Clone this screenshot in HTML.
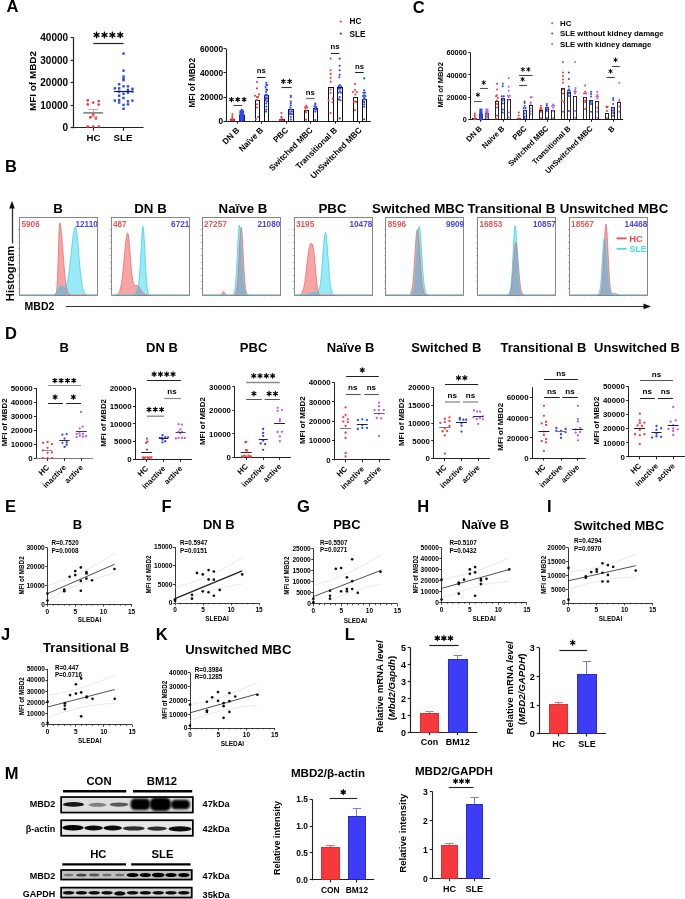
<!DOCTYPE html>
<html><head><meta charset="utf-8"><style>
html,body{margin:0;padding:0;background:#fff;}
body{width:685px;height:899px;overflow:hidden;font-family:"Liberation Sans",sans-serif;}
svg{display:block;will-change:transform;}
</style></head><body>
<svg width="685" height="899" viewBox="0 0 685 899" font-family="Liberation Sans, sans-serif">
<text x="6.4" y="11.7" font-size="16.5" text-anchor="start" font-weight="bold" fill="#000">A</text>
<text x="412.8" y="12.7" font-size="16.5" text-anchor="start" font-weight="bold" fill="#000">C</text>
<text x="4.9" y="171.6" font-size="16.5" text-anchor="start" font-weight="bold" fill="#000">B</text>
<text x="5" y="339.1" font-size="16.5" text-anchor="start" font-weight="bold" fill="#000">D</text>
<text x="5" y="511.7" font-size="16.5" text-anchor="start" font-weight="bold" fill="#000">E</text>
<text x="161.6" y="511.7" font-size="16.5" text-anchor="start" font-weight="bold" fill="#000">F</text>
<text x="297" y="511.7" font-size="16.5" text-anchor="start" font-weight="bold" fill="#000">G</text>
<text x="417.2" y="511.7" font-size="16.5" text-anchor="start" font-weight="bold" fill="#000">H</text>
<text x="547" y="511.7" font-size="16.5" text-anchor="start" font-weight="bold" fill="#000">I</text>
<text x="1" y="640.3" font-size="16.5" text-anchor="start" font-weight="bold" fill="#000">J</text>
<text x="155.8" y="640.3" font-size="16.5" text-anchor="start" font-weight="bold" fill="#000">K</text>
<text x="344.8" y="640.3" font-size="16.5" text-anchor="start" font-weight="bold" fill="#000">L</text>
<text x="4.8" y="778.6" font-size="16.5" text-anchor="start" font-weight="bold" fill="#000">M</text>
<line x1="73.5" y1="37.5" x2="73.5" y2="128.3" stroke="#222" stroke-width="1.2"/>
<line x1="70.6" y1="127.5" x2="73.6" y2="127.5" stroke="#222" stroke-width="1.2"/>
<text x="68.1" y="131.3" font-size="10" text-anchor="end" font-weight="bold" fill="#000">0</text>
<line x1="70.6" y1="105.5" x2="73.6" y2="105.5" stroke="#222" stroke-width="1.2"/>
<text x="68.1" y="108.75" font-size="10" text-anchor="end" font-weight="bold" fill="#000">10000</text>
<line x1="70.6" y1="82.5" x2="73.6" y2="82.5" stroke="#222" stroke-width="1.2"/>
<text x="68.1" y="86.2" font-size="10" text-anchor="end" font-weight="bold" fill="#000">20000</text>
<line x1="70.6" y1="60.5" x2="73.6" y2="60.5" stroke="#222" stroke-width="1.2"/>
<text x="68.1" y="63.65" font-size="10" text-anchor="end" font-weight="bold" fill="#000">30000</text>
<line x1="70.6" y1="37.5" x2="73.6" y2="37.5" stroke="#222" stroke-width="1.2"/>
<text x="68.1" y="41.1" font-size="10" text-anchor="end" font-weight="bold" fill="#000">40000</text>
<line x1="73" y1="127.5" x2="143.5" y2="127.5" stroke="#222" stroke-width="1.2"/>
<line x1="93.5" y1="127.7" x2="93.5" y2="130.7" stroke="#222" stroke-width="1.2"/>
<line x1="123.5" y1="127.7" x2="123.5" y2="130.7" stroke="#222" stroke-width="1.2"/>
<text x="93.4" y="140.79" font-size="9.7" text-anchor="middle" font-weight="bold" fill="#000">HC</text>
<text x="123" y="140.79" font-size="9.7" text-anchor="middle" font-weight="bold" fill="#000">SLE</text>
<text x="35.86" y="81" font-size="9.9" text-anchor="middle" font-weight="bold" fill="#000" transform="rotate(-90 35.86 81)">MFI of MBD2</text>
<path d="M96.55 32.2L96.55 37.8M94.13 33.6L98.97 36.4M94.13 36.4L98.97 33.6" stroke="#000" stroke-width="1.4" stroke-linecap="round"/>
<circle cx="96.55" cy="35" r="1.12" fill="#000"/>
<path d="M104.45 32.2L104.45 37.8M102.03 33.6L106.87 36.4M102.03 36.4L106.87 33.6" stroke="#000" stroke-width="1.4" stroke-linecap="round"/>
<circle cx="104.45" cy="35" r="1.12" fill="#000"/>
<path d="M112.35 32.2L112.35 37.8M109.93 33.6L114.77 36.4M109.93 36.4L114.77 33.6" stroke="#000" stroke-width="1.4" stroke-linecap="round"/>
<circle cx="112.35" cy="35" r="1.12" fill="#000"/>
<path d="M120.25 32.2L120.25 37.8M117.83 33.6L122.67 36.4M117.83 36.4L122.67 33.6" stroke="#000" stroke-width="1.4" stroke-linecap="round"/>
<circle cx="120.25" cy="35" r="1.12" fill="#000"/>
<line x1="93.3" y1="43.5" x2="123.5" y2="43.5" stroke="#222" stroke-width="1.2"/>
<line x1="88.28" y1="109.5" x2="97.99" y2="109.5" stroke="#f77" stroke-width="0.8"/>
<line x1="89.31" y1="116.5" x2="97.48" y2="116.5" stroke="#f77" stroke-width="0.8"/>
<line x1="93.5" y1="109.49" x2="93.5" y2="116.13" stroke="#f77" stroke-width="0.8"/>
<circle cx="87.77" cy="100.29" r="1.35" fill="#f23a3a"/>
<circle cx="87.77" cy="104.38" r="1.35" fill="#f23a3a"/>
<circle cx="93.19" cy="102.54" r="1.35" fill="#f23a3a"/>
<circle cx="98.71" cy="101.11" r="1.35" fill="#f23a3a"/>
<circle cx="98.71" cy="104.58" r="1.35" fill="#f23a3a"/>
<circle cx="93.19" cy="114.39" r="1.35" fill="#f23a3a"/>
<circle cx="90.33" cy="117.46" r="1.35" fill="#f23a3a"/>
<circle cx="95.95" cy="118.48" r="1.35" fill="#f23a3a"/>
<circle cx="87.77" cy="126.65" r="1.35" fill="#f23a3a"/>
<circle cx="93.19" cy="126.65" r="1.35" fill="#f23a3a"/>
<circle cx="98.71" cy="126.65" r="1.35" fill="#f23a3a"/>
<line x1="83.38" y1="112.86" x2="103.1" y2="112.86" stroke="#888" stroke-width="1.7"/>
<rect x="122.34" y="52.39" width="2.4" height="2.4" fill="#2b45f2"/>
<rect x="122.34" y="69.46" width="2.4" height="2.4" fill="#2b45f2"/>
<rect x="122.34" y="75.38" width="2.4" height="2.4" fill="#2b45f2"/>
<rect x="122.34" y="77.43" width="2.4" height="2.4" fill="#2b45f2"/>
<rect x="122.34" y="78.96" width="2.4" height="2.4" fill="#2b45f2"/>
<rect x="117.94" y="83.05" width="2.4" height="2.4" fill="#2b45f2"/>
<rect x="122.34" y="85.09" width="2.4" height="2.4" fill="#2b45f2"/>
<rect x="126.73" y="85.09" width="2.4" height="2.4" fill="#2b45f2"/>
<rect x="113.65" y="87.13" width="2.4" height="2.4" fill="#2b45f2"/>
<rect x="117.94" y="87.13" width="2.4" height="2.4" fill="#2b45f2"/>
<rect x="131.23" y="87.65" width="2.4" height="2.4" fill="#2b45f2"/>
<rect x="126.73" y="88.67" width="2.4" height="2.4" fill="#2b45f2"/>
<rect x="131.23" y="90.4" width="2.4" height="2.4" fill="#2b45f2"/>
<rect x="117.94" y="90.4" width="2.4" height="2.4" fill="#2b45f2"/>
<rect x="122.34" y="92.45" width="2.4" height="2.4" fill="#2b45f2"/>
<rect x="126.73" y="91.43" width="2.4" height="2.4" fill="#2b45f2"/>
<rect x="117.94" y="94.49" width="2.4" height="2.4" fill="#2b45f2"/>
<rect x="122.34" y="96.84" width="2.4" height="2.4" fill="#2b45f2"/>
<rect x="113.65" y="99.4" width="2.4" height="2.4" fill="#2b45f2"/>
<rect x="117.94" y="98.89" width="2.4" height="2.4" fill="#2b45f2"/>
<rect x="117.94" y="101.34" width="2.4" height="2.4" fill="#2b45f2"/>
<rect x="126.73" y="100.11" width="2.4" height="2.4" fill="#2b45f2"/>
<rect x="126.73" y="103.18" width="2.4" height="2.4" fill="#2b45f2"/>
<rect x="131.23" y="99.4" width="2.4" height="2.4" fill="#2b45f2"/>
<rect x="122.34" y="103.69" width="2.4" height="2.4" fill="#2b45f2"/>
<rect x="122.34" y="107.57" width="2.4" height="2.4" fill="#2b45f2"/>
<line x1="113.83" y1="91.5" x2="132.22" y2="91.5" stroke="#222" stroke-width="1.2"/>
<line x1="226.5" y1="48.6" x2="226.5" y2="121.75" stroke="#222" stroke-width="1.1"/>
<line x1="223.5" y1="121.5" x2="226" y2="121.5" stroke="#222" stroke-width="1.1"/>
<text x="223" y="124.19" font-size="8.3" text-anchor="end" font-weight="bold" fill="#000">0</text>
<line x1="223.5" y1="97.5" x2="226" y2="97.5" stroke="#222" stroke-width="1.1"/>
<text x="223" y="99.99" font-size="8.3" text-anchor="end" font-weight="bold" fill="#000">20000</text>
<line x1="223.5" y1="72.5" x2="226" y2="72.5" stroke="#222" stroke-width="1.1"/>
<text x="223" y="75.79" font-size="8.3" text-anchor="end" font-weight="bold" fill="#000">40000</text>
<line x1="223.5" y1="48.5" x2="226" y2="48.5" stroke="#222" stroke-width="1.1"/>
<text x="223" y="51.59" font-size="8.3" text-anchor="end" font-weight="bold" fill="#000">60000</text>
<line x1="225.45" y1="121.5" x2="371" y2="121.5" stroke="#222" stroke-width="1.1"/>
<line x1="237.5" y1="121.2" x2="237.5" y2="123.7" stroke="#222" stroke-width="1.1"/>
<line x1="261.5" y1="121.2" x2="261.5" y2="123.7" stroke="#222" stroke-width="1.1"/>
<line x1="286.5" y1="121.2" x2="286.5" y2="123.7" stroke="#222" stroke-width="1.1"/>
<line x1="310.5" y1="121.2" x2="310.5" y2="123.7" stroke="#222" stroke-width="1.1"/>
<line x1="335.5" y1="121.2" x2="335.5" y2="123.7" stroke="#222" stroke-width="1.1"/>
<line x1="359.5" y1="121.2" x2="359.5" y2="123.7" stroke="#222" stroke-width="1.1"/>
<text x="195.25" y="82.7" font-size="8.2" text-anchor="middle" font-weight="bold" fill="#000" transform="rotate(-90 195.25 82.7)">MFI of MBD2</text>
<rect x="230.5" y="119.5" width="4" height="2" fill="none" stroke="#111" stroke-width="1"/>
<rect x="239.5" y="115.5" width="5" height="6" fill="none" stroke="#111" stroke-width="1"/>
<rect x="255.5" y="100.5" width="4" height="21" fill="none" stroke="#111" stroke-width="1"/>
<rect x="264.5" y="95.5" width="4" height="26" fill="none" stroke="#111" stroke-width="1"/>
<rect x="279.5" y="119.5" width="5" height="2" fill="none" stroke="#111" stroke-width="1"/>
<rect x="288.5" y="109.5" width="5" height="12" fill="none" stroke="#111" stroke-width="1"/>
<rect x="304.5" y="110.5" width="4" height="11" fill="none" stroke="#111" stroke-width="1"/>
<rect x="313.5" y="108.5" width="4" height="13" fill="none" stroke="#111" stroke-width="1"/>
<rect x="328.5" y="87.5" width="5" height="34" fill="none" stroke="#111" stroke-width="1"/>
<rect x="337.5" y="87.5" width="5" height="34" fill="none" stroke="#111" stroke-width="1"/>
<rect x="353.5" y="97.5" width="4" height="24" fill="none" stroke="#111" stroke-width="1"/>
<rect x="362.5" y="99.5" width="4" height="22" fill="none" stroke="#111" stroke-width="1"/>
<circle cx="232.4" cy="114.3" r="1.05" fill="#f23a3a"/>
<circle cx="232.4" cy="116.3" r="1.05" fill="#f23a3a"/>
<circle cx="232.4" cy="118" r="1.05" fill="#f23a3a"/>
<circle cx="231" cy="120.3" r="1.05" fill="#f23a3a"/>
<circle cx="232.4" cy="120.3" r="1.05" fill="#f23a3a"/>
<circle cx="233.8" cy="120.3" r="1.05" fill="#f23a3a"/>
<circle cx="231.7" cy="119.4" r="1.05" fill="#f23a3a"/>
<circle cx="233.1" cy="119.4" r="1.05" fill="#f23a3a"/>
<circle cx="257" cy="82" r="1.05" fill="#f23a3a"/>
<circle cx="257" cy="88.4" r="1.05" fill="#f23a3a"/>
<circle cx="255" cy="95.8" r="1.05" fill="#f23a3a"/>
<circle cx="259" cy="94.4" r="1.05" fill="#f23a3a"/>
<circle cx="257" cy="97.1" r="1.05" fill="#f23a3a"/>
<circle cx="258.1" cy="97.1" r="1.05" fill="#f23a3a"/>
<circle cx="257" cy="100.1" r="1.05" fill="#f23a3a"/>
<circle cx="257" cy="104.2" r="1.05" fill="#f23a3a"/>
<circle cx="257" cy="107.5" r="1.05" fill="#f23a3a"/>
<circle cx="258.1" cy="117" r="1.05" fill="#f23a3a"/>
<circle cx="255.9" cy="119" r="1.05" fill="#f23a3a"/>
<circle cx="281.4" cy="112.9" r="1.05" fill="#f23a3a"/>
<circle cx="281.4" cy="116.9" r="1.05" fill="#f23a3a"/>
<circle cx="281.7" cy="118" r="1.05" fill="#f23a3a"/>
<circle cx="280" cy="120" r="1.05" fill="#f23a3a"/>
<circle cx="281.4" cy="120.3" r="1.05" fill="#f23a3a"/>
<circle cx="283" cy="120.2" r="1.05" fill="#f23a3a"/>
<circle cx="306.2" cy="105.9" r="1.05" fill="#f23a3a"/>
<circle cx="305.2" cy="107.2" r="1.05" fill="#f23a3a"/>
<circle cx="307.2" cy="107.5" r="1.05" fill="#f23a3a"/>
<circle cx="305.6" cy="108.5" r="1.05" fill="#f23a3a"/>
<circle cx="306.2" cy="110.9" r="1.05" fill="#f23a3a"/>
<circle cx="306.2" cy="112.2" r="1.05" fill="#f23a3a"/>
<circle cx="306.2" cy="119.6" r="1.05" fill="#f23a3a"/>
<circle cx="330.6" cy="58.6" r="1.05" fill="#f23a3a"/>
<circle cx="330.6" cy="70.2" r="1.05" fill="#f23a3a"/>
<circle cx="330.6" cy="73.9" r="1.05" fill="#f23a3a"/>
<circle cx="330.6" cy="77.8" r="1.05" fill="#f23a3a"/>
<circle cx="330.6" cy="81.7" r="1.05" fill="#f23a3a"/>
<circle cx="330.6" cy="89.5" r="1.05" fill="#f23a3a"/>
<circle cx="330.6" cy="92.8" r="1.05" fill="#f23a3a"/>
<circle cx="332.6" cy="98.6" r="1.05" fill="#f23a3a"/>
<circle cx="328.6" cy="100.4" r="1.05" fill="#f23a3a"/>
<circle cx="332.6" cy="102.3" r="1.05" fill="#f23a3a"/>
<circle cx="330.6" cy="113" r="1.05" fill="#f23a3a"/>
<circle cx="355" cy="83.9" r="1.05" fill="#f23a3a"/>
<circle cx="355" cy="90" r="1.05" fill="#f23a3a"/>
<circle cx="352.9" cy="92" r="1.05" fill="#f23a3a"/>
<circle cx="357" cy="92" r="1.05" fill="#f23a3a"/>
<circle cx="355.4" cy="94.5" r="1.05" fill="#f23a3a"/>
<circle cx="355" cy="101.5" r="1.05" fill="#f23a3a"/>
<circle cx="353.7" cy="101.9" r="1.05" fill="#f23a3a"/>
<circle cx="356.2" cy="101.9" r="1.05" fill="#f23a3a"/>
<circle cx="355" cy="110.1" r="1.05" fill="#f23a3a"/>
<circle cx="241.8" cy="109.8" r="1.05" fill="#2b45f2"/>
<circle cx="240.4" cy="111" r="1.05" fill="#2b45f2"/>
<circle cx="241.8" cy="111" r="1.05" fill="#2b45f2"/>
<circle cx="243.2" cy="111" r="1.05" fill="#2b45f2"/>
<circle cx="240.4" cy="112.2" r="1.05" fill="#2b45f2"/>
<circle cx="241.8" cy="112.2" r="1.05" fill="#2b45f2"/>
<circle cx="243.2" cy="112.2" r="1.05" fill="#2b45f2"/>
<circle cx="240.4" cy="113.4" r="1.05" fill="#2b45f2"/>
<circle cx="241.8" cy="113.4" r="1.05" fill="#2b45f2"/>
<circle cx="243.2" cy="113.4" r="1.05" fill="#2b45f2"/>
<circle cx="240.4" cy="114.6" r="1.05" fill="#2b45f2"/>
<circle cx="241.8" cy="114.6" r="1.05" fill="#2b45f2"/>
<circle cx="243.2" cy="114.6" r="1.05" fill="#2b45f2"/>
<circle cx="240.4" cy="115.8" r="1.05" fill="#2b45f2"/>
<circle cx="241.8" cy="115.8" r="1.05" fill="#2b45f2"/>
<circle cx="243.2" cy="115.8" r="1.05" fill="#2b45f2"/>
<circle cx="240.4" cy="117" r="1.05" fill="#2b45f2"/>
<circle cx="241.8" cy="117" r="1.05" fill="#2b45f2"/>
<circle cx="243.2" cy="117" r="1.05" fill="#2b45f2"/>
<circle cx="240.4" cy="118.2" r="1.05" fill="#2b45f2"/>
<circle cx="241.8" cy="118.2" r="1.05" fill="#2b45f2"/>
<circle cx="243.2" cy="118.2" r="1.05" fill="#2b45f2"/>
<circle cx="240.4" cy="119.4" r="1.05" fill="#2b45f2"/>
<circle cx="241.8" cy="119.4" r="1.05" fill="#2b45f2"/>
<circle cx="243.2" cy="119.4" r="1.05" fill="#2b45f2"/>
<circle cx="240.4" cy="120.6" r="1.05" fill="#2b45f2"/>
<circle cx="241.8" cy="120.6" r="1.05" fill="#2b45f2"/>
<circle cx="243.2" cy="120.6" r="1.05" fill="#2b45f2"/>
<circle cx="266.3" cy="82.7" r="1.05" fill="#2b45f2"/>
<circle cx="266.3" cy="84.7" r="1.05" fill="#2b45f2"/>
<circle cx="267.3" cy="85.2" r="1.05" fill="#2b45f2"/>
<circle cx="265.6" cy="87" r="1.05" fill="#2b45f2"/>
<circle cx="266.3" cy="89.4" r="1.05" fill="#2b45f2"/>
<circle cx="267" cy="90.1" r="1.05" fill="#2b45f2"/>
<circle cx="266" cy="92.1" r="1.05" fill="#2b45f2"/>
<circle cx="266.3" cy="94.8" r="1.05" fill="#2b45f2"/>
<circle cx="267.6" cy="95.4" r="1.05" fill="#2b45f2"/>
<circle cx="265" cy="95.4" r="1.05" fill="#2b45f2"/>
<circle cx="266.3" cy="97.5" r="1.05" fill="#2b45f2"/>
<circle cx="265.6" cy="100.1" r="1.05" fill="#2b45f2"/>
<circle cx="267" cy="101.5" r="1.05" fill="#2b45f2"/>
<circle cx="266.3" cy="103.5" r="1.05" fill="#2b45f2"/>
<circle cx="266.3" cy="106.5" r="1.05" fill="#2b45f2"/>
<circle cx="266.3" cy="109.5" r="1.05" fill="#2b45f2"/>
<circle cx="266" cy="111.6" r="1.05" fill="#2b45f2"/>
<circle cx="267.2" cy="98.6" r="1.05" fill="#2b45f2"/>
<circle cx="265.4" cy="98.6" r="1.05" fill="#2b45f2"/>
<circle cx="290.8" cy="95.8" r="1.05" fill="#2b45f2"/>
<circle cx="290.8" cy="97.1" r="1.05" fill="#2b45f2"/>
<circle cx="290.8" cy="101.5" r="1.05" fill="#2b45f2"/>
<circle cx="290.8" cy="103.2" r="1.05" fill="#2b45f2"/>
<circle cx="290.8" cy="105.2" r="1.05" fill="#2b45f2"/>
<circle cx="290.3" cy="107.5" r="1.05" fill="#2b45f2"/>
<circle cx="290.8" cy="109.5" r="1.05" fill="#2b45f2"/>
<circle cx="289.6" cy="111.6" r="1.05" fill="#2b45f2"/>
<circle cx="292" cy="111.6" r="1.05" fill="#2b45f2"/>
<circle cx="290.8" cy="113.6" r="1.05" fill="#2b45f2"/>
<circle cx="289.6" cy="114.3" r="1.05" fill="#2b45f2"/>
<circle cx="292" cy="114.3" r="1.05" fill="#2b45f2"/>
<circle cx="290.8" cy="117" r="1.05" fill="#2b45f2"/>
<circle cx="290.8" cy="119.6" r="1.05" fill="#2b45f2"/>
<circle cx="315.3" cy="103.5" r="1.05" fill="#2b45f2"/>
<circle cx="315.3" cy="104.8" r="1.05" fill="#2b45f2"/>
<circle cx="314.3" cy="106.5" r="1.05" fill="#2b45f2"/>
<circle cx="316.3" cy="106.9" r="1.05" fill="#2b45f2"/>
<circle cx="315.3" cy="108.2" r="1.05" fill="#2b45f2"/>
<circle cx="314.3" cy="109.5" r="1.05" fill="#2b45f2"/>
<circle cx="316.3" cy="109.5" r="1.05" fill="#2b45f2"/>
<circle cx="315.3" cy="111.6" r="1.05" fill="#2b45f2"/>
<circle cx="315.3" cy="120" r="1.05" fill="#2b45f2"/>
<circle cx="339.7" cy="58.6" r="1.05" fill="#2b45f2"/>
<circle cx="339.7" cy="65.8" r="1.05" fill="#2b45f2"/>
<circle cx="339.7" cy="70.2" r="1.05" fill="#2b45f2"/>
<circle cx="339.7" cy="74.7" r="1.05" fill="#2b45f2"/>
<circle cx="339.3" cy="77.2" r="1.05" fill="#2b45f2"/>
<circle cx="339.7" cy="85" r="1.05" fill="#2b45f2"/>
<circle cx="338.5" cy="86.2" r="1.05" fill="#2b45f2"/>
<circle cx="340.9" cy="86.2" r="1.05" fill="#2b45f2"/>
<circle cx="338.9" cy="88.7" r="1.05" fill="#2b45f2"/>
<circle cx="340.5" cy="88.7" r="1.05" fill="#2b45f2"/>
<circle cx="339.7" cy="91.2" r="1.05" fill="#2b45f2"/>
<circle cx="338.5" cy="92.8" r="1.05" fill="#2b45f2"/>
<circle cx="340.9" cy="92.8" r="1.05" fill="#2b45f2"/>
<circle cx="339.7" cy="97" r="1.05" fill="#2b45f2"/>
<circle cx="338.9" cy="99.4" r="1.05" fill="#2b45f2"/>
<circle cx="340.5" cy="100.2" r="1.05" fill="#2b45f2"/>
<circle cx="339.7" cy="118.4" r="1.05" fill="#2b45f2"/>
<circle cx="364.2" cy="78.4" r="1.05" fill="#2b45f2"/>
<circle cx="364.2" cy="90.4" r="1.05" fill="#2b45f2"/>
<circle cx="363.4" cy="92.8" r="1.05" fill="#2b45f2"/>
<circle cx="365" cy="92.8" r="1.05" fill="#2b45f2"/>
<circle cx="364.2" cy="95.3" r="1.05" fill="#2b45f2"/>
<circle cx="363" cy="96.1" r="1.05" fill="#2b45f2"/>
<circle cx="365.4" cy="96.1" r="1.05" fill="#2b45f2"/>
<circle cx="364.2" cy="97.8" r="1.05" fill="#2b45f2"/>
<circle cx="363.4" cy="99.4" r="1.05" fill="#2b45f2"/>
<circle cx="365" cy="99.4" r="1.05" fill="#2b45f2"/>
<circle cx="364.2" cy="101.9" r="1.05" fill="#2b45f2"/>
<circle cx="364.2" cy="104.4" r="1.05" fill="#2b45f2"/>
<circle cx="364.2" cy="106.8" r="1.05" fill="#2b45f2"/>
<circle cx="364.2" cy="119.2" r="1.05" fill="#2b45f2"/>
<text x="240.1" y="130.7" font-size="8.3" text-anchor="end" font-weight="bold" fill="#000" transform="rotate(-45 240.1 130.7)">DN B</text>
<text x="263.8" y="130.7" font-size="8.3" text-anchor="end" font-weight="bold" fill="#000" transform="rotate(-45 263.8 130.7)">Naïve B</text>
<text x="288.8" y="130.7" font-size="8.3" text-anchor="end" font-weight="bold" fill="#000" transform="rotate(-45 288.8 130.7)">PBC</text>
<text x="313.3" y="130.7" font-size="8.3" text-anchor="end" font-weight="bold" fill="#000" transform="rotate(-45 313.3 130.7)">Switched MBC</text>
<text x="337.8" y="130.7" font-size="8.3" text-anchor="end" font-weight="bold" fill="#000" transform="rotate(-45 337.8 130.7)">Transitional B</text>
<text x="362.3" y="130.7" font-size="8.3" text-anchor="end" font-weight="bold" fill="#000" transform="rotate(-45 362.3 130.7)">UnSwitched MBC</text>
<path d="M231.5 97.35L231.5 101.65M229.64 98.42L233.36 100.58M229.64 100.58L233.36 98.42" stroke="#000" stroke-width="1.07" stroke-linecap="round"/>
<circle cx="231.5" cy="99.5" r="0.86" fill="#000"/>
<path d="M237.8 97.35L237.8 101.65M235.94 98.42L239.66 100.58M235.94 100.58L239.66 98.42" stroke="#000" stroke-width="1.07" stroke-linecap="round"/>
<circle cx="237.8" cy="99.5" r="0.86" fill="#000"/>
<path d="M244.1 97.35L244.1 101.65M242.24 98.42L245.96 100.58M242.24 100.58L245.96 98.42" stroke="#000" stroke-width="1.07" stroke-linecap="round"/>
<circle cx="244.1" cy="99.5" r="0.86" fill="#000"/>
<line x1="233.4" y1="105.5" x2="242.1" y2="105.5" stroke="#444" stroke-width="1.1"/>
<text x="261.3" y="73.32" font-size="7.74" text-anchor="middle" font-weight="bold" fill="#000">ns</text>
<line x1="257" y1="77.5" x2="265.6" y2="77.5" stroke="#222" stroke-width="1"/>
<path d="M283.35 79.15L283.35 83.45M281.49 80.22L285.21 82.38M281.49 82.38L285.21 80.22" stroke="#000" stroke-width="1.07" stroke-linecap="round"/>
<circle cx="283.35" cy="81.3" r="0.86" fill="#000"/>
<path d="M289.65 79.15L289.65 83.45M287.79 80.22L291.51 82.38M287.79 82.38L291.51 80.22" stroke="#000" stroke-width="1.07" stroke-linecap="round"/>
<circle cx="289.65" cy="81.3" r="0.86" fill="#000"/>
<line x1="281.4" y1="87.5" x2="291.7" y2="87.5" stroke="#333" stroke-width="1.1"/>
<text x="310.3" y="95.12" font-size="7.74" text-anchor="middle" font-weight="bold" fill="#000">ns</text>
<line x1="306.2" y1="98.5" x2="314.6" y2="98.5" stroke="#666" stroke-width="1.2"/>
<text x="335" y="49.32" font-size="7.74" text-anchor="middle" font-weight="bold" fill="#000">ns</text>
<line x1="331" y1="53.5" x2="339.5" y2="53.5" stroke="#222" stroke-width="1"/>
<text x="359.5" y="68.62" font-size="7.74" text-anchor="middle" font-weight="bold" fill="#000">ns</text>
<line x1="355" y1="72.5" x2="363.7" y2="72.5" stroke="#222" stroke-width="1"/>
<circle cx="340.8" cy="21.5" r="1.1" fill="#f23a3a"/>
<text x="349.5" y="24.45" font-size="8.2" text-anchor="start" font-weight="bold" fill="#000">HC</text>
<circle cx="340.8" cy="33.7" r="1.1" fill="#2b45f2"/>
<text x="349.5" y="36.65" font-size="8.2" text-anchor="start" font-weight="bold" fill="#000">SLE</text>
<line x1="470.5" y1="52.6" x2="470.5" y2="120.1" stroke="#222" stroke-width="1"/>
<line x1="468.3" y1="119.5" x2="470.5" y2="119.5" stroke="#222" stroke-width="1"/>
<text x="466.8" y="122.23" font-size="7.3" text-anchor="end" font-weight="bold" fill="#000">0</text>
<line x1="468.3" y1="97.5" x2="470.5" y2="97.5" stroke="#222" stroke-width="1"/>
<text x="466.8" y="99.89" font-size="7.3" text-anchor="end" font-weight="bold" fill="#000">20000</text>
<line x1="468.3" y1="74.5" x2="470.5" y2="74.5" stroke="#222" stroke-width="1"/>
<text x="466.8" y="77.56" font-size="7.3" text-anchor="end" font-weight="bold" fill="#000">40000</text>
<line x1="468.3" y1="52.5" x2="470.5" y2="52.5" stroke="#222" stroke-width="1"/>
<text x="466.8" y="55.23" font-size="7.3" text-anchor="end" font-weight="bold" fill="#000">60000</text>
<line x1="470" y1="119.5" x2="623.2" y2="119.5" stroke="#222" stroke-width="1"/>
<line x1="480.5" y1="119.6" x2="480.5" y2="121.8" stroke="#222" stroke-width="1"/>
<line x1="503.5" y1="119.6" x2="503.5" y2="121.8" stroke="#222" stroke-width="1"/>
<line x1="525.5" y1="119.6" x2="525.5" y2="121.8" stroke="#222" stroke-width="1"/>
<line x1="547.5" y1="119.6" x2="547.5" y2="121.8" stroke="#222" stroke-width="1"/>
<line x1="569.5" y1="119.6" x2="569.5" y2="121.8" stroke="#222" stroke-width="1"/>
<line x1="591.5" y1="119.6" x2="591.5" y2="121.8" stroke="#222" stroke-width="1"/>
<line x1="613.5" y1="119.6" x2="613.5" y2="121.8" stroke="#222" stroke-width="1"/>
<text x="442.7" y="84.8" font-size="7.5" text-anchor="middle" font-weight="bold" fill="#000" transform="rotate(-90 442.7 84.8)">MFI of MBD2</text>
<rect x="472.5" y="118.5" width="4" height="1" fill="none" stroke="#111" stroke-width="0.9"/>
<rect x="479.5" y="114.5" width="3" height="5" fill="none" stroke="#111" stroke-width="0.9"/>
<rect x="485.5" y="113.5" width="3" height="6" fill="none" stroke="#111" stroke-width="0.9"/>
<rect x="495.5" y="101.5" width="3" height="18" fill="none" stroke="#111" stroke-width="0.9"/>
<rect x="501.5" y="98.5" width="3" height="21" fill="none" stroke="#111" stroke-width="0.9"/>
<rect x="507.5" y="99.5" width="3" height="20" fill="none" stroke="#111" stroke-width="0.9"/>
<rect x="517.5" y="118.5" width="3" height="1" fill="none" stroke="#111" stroke-width="0.9"/>
<rect x="523.5" y="110.5" width="3" height="9" fill="none" stroke="#111" stroke-width="0.9"/>
<rect x="529.5" y="105.5" width="3" height="14" fill="none" stroke="#111" stroke-width="0.9"/>
<rect x="539.5" y="110.5" width="3" height="9" fill="none" stroke="#111" stroke-width="0.9"/>
<rect x="545.5" y="107.5" width="3" height="12" fill="none" stroke="#111" stroke-width="0.9"/>
<rect x="551.5" y="110.5" width="3" height="9" fill="none" stroke="#111" stroke-width="0.9"/>
<rect x="561.5" y="88.5" width="3" height="31" fill="none" stroke="#111" stroke-width="0.9"/>
<rect x="567.5" y="92.5" width="3" height="27" fill="none" stroke="#111" stroke-width="0.9"/>
<rect x="573.5" y="96.5" width="3" height="23" fill="none" stroke="#111" stroke-width="0.9"/>
<rect x="583.5" y="97.5" width="3" height="22" fill="none" stroke="#111" stroke-width="0.9"/>
<rect x="589.5" y="100.5" width="3" height="19" fill="none" stroke="#111" stroke-width="0.9"/>
<rect x="595.5" y="101.5" width="3" height="18" fill="none" stroke="#111" stroke-width="0.9"/>
<rect x="605.5" y="113.5" width="3" height="6" fill="none" stroke="#111" stroke-width="0.9"/>
<rect x="611.5" y="107.5" width="3" height="12" fill="none" stroke="#111" stroke-width="0.9"/>
<rect x="617.5" y="102.5" width="3" height="17" fill="none" stroke="#111" stroke-width="0.9"/>
<circle cx="474.8" cy="113.6" r="1" fill="#f23a3a"/>
<circle cx="474.8" cy="115.2" r="1" fill="#f23a3a"/>
<circle cx="474.8" cy="116.8" r="1" fill="#f23a3a"/>
<circle cx="474.8" cy="118.4" r="1" fill="#f23a3a"/>
<circle cx="473.8" cy="119.2" r="1" fill="#f23a3a"/>
<circle cx="475.8" cy="119.2" r="1" fill="#f23a3a"/>
<circle cx="497" cy="83.8" r="1" fill="#f23a3a"/>
<circle cx="497" cy="89.5" r="1" fill="#f23a3a"/>
<circle cx="496.8" cy="95.2" r="1" fill="#f23a3a"/>
<circle cx="496" cy="96.2" r="1" fill="#f23a3a"/>
<circle cx="497.8" cy="97.7" r="1" fill="#f23a3a"/>
<circle cx="497" cy="100.6" r="1" fill="#f23a3a"/>
<circle cx="497" cy="104.1" r="1" fill="#f23a3a"/>
<circle cx="497" cy="107.6" r="1" fill="#f23a3a"/>
<circle cx="497" cy="115.5" r="1" fill="#f23a3a"/>
<circle cx="496" cy="118.5" r="1" fill="#f23a3a"/>
<circle cx="518.7" cy="112.4" r="1" fill="#f23a3a"/>
<circle cx="518.7" cy="115.5" r="1" fill="#f23a3a"/>
<circle cx="517.7" cy="118.5" r="1" fill="#f23a3a"/>
<circle cx="519.7" cy="118.5" r="1" fill="#f23a3a"/>
<circle cx="540.9" cy="105.8" r="1" fill="#f23a3a"/>
<circle cx="540.9" cy="107.8" r="1" fill="#f23a3a"/>
<circle cx="540.2" cy="109.1" r="1" fill="#f23a3a"/>
<circle cx="541.6" cy="109.1" r="1" fill="#f23a3a"/>
<circle cx="540.9" cy="111.8" r="1" fill="#f23a3a"/>
<circle cx="540.9" cy="118.3" r="1" fill="#f23a3a"/>
<circle cx="562.9" cy="62.1" r="1" fill="#f23a3a"/>
<circle cx="562.9" cy="72.6" r="1" fill="#f23a3a"/>
<circle cx="562.9" cy="76" r="1" fill="#f23a3a"/>
<circle cx="562.9" cy="79.6" r="1" fill="#f23a3a"/>
<circle cx="562.9" cy="82.8" r="1" fill="#f23a3a"/>
<circle cx="562.9" cy="89.4" r="1" fill="#f23a3a"/>
<circle cx="562.9" cy="93.4" r="1" fill="#f23a3a"/>
<circle cx="562.9" cy="111.8" r="1" fill="#f23a3a"/>
<circle cx="561.9" cy="100.6" r="1" fill="#f23a3a"/>
<circle cx="563.9" cy="101.9" r="1" fill="#f23a3a"/>
<circle cx="585.1" cy="85.5" r="1" fill="#f23a3a"/>
<circle cx="585.1" cy="91.8" r="1" fill="#f23a3a"/>
<circle cx="585.1" cy="100.6" r="1" fill="#f23a3a"/>
<circle cx="585.1" cy="101.9" r="1" fill="#f23a3a"/>
<circle cx="585.1" cy="109.1" r="1" fill="#f23a3a"/>
<circle cx="584.1" cy="93.4" r="1" fill="#f23a3a"/>
<circle cx="586.1" cy="93.4" r="1" fill="#f23a3a"/>
<circle cx="607" cy="107.2" r="1" fill="#f23a3a"/>
<circle cx="607" cy="111.1" r="1" fill="#f23a3a"/>
<circle cx="607" cy="118.3" r="1" fill="#f23a3a"/>
<circle cx="606.3" cy="106.8" r="1" fill="#f23a3a"/>
<circle cx="607.7" cy="106.8" r="1" fill="#f23a3a"/>
<circle cx="480.2" cy="109.6" r="1" fill="#2b45f2"/>
<circle cx="481.6" cy="109.6" r="1" fill="#2b45f2"/>
<circle cx="480.2" cy="111" r="1" fill="#2b45f2"/>
<circle cx="481.6" cy="111" r="1" fill="#2b45f2"/>
<circle cx="480.2" cy="112.4" r="1" fill="#2b45f2"/>
<circle cx="481.6" cy="112.4" r="1" fill="#2b45f2"/>
<circle cx="480.2" cy="113.8" r="1" fill="#2b45f2"/>
<circle cx="481.6" cy="113.8" r="1" fill="#2b45f2"/>
<circle cx="480.2" cy="115.2" r="1" fill="#2b45f2"/>
<circle cx="481.6" cy="115.2" r="1" fill="#2b45f2"/>
<circle cx="480.2" cy="116.6" r="1" fill="#2b45f2"/>
<circle cx="481.6" cy="116.6" r="1" fill="#2b45f2"/>
<circle cx="480.2" cy="118" r="1" fill="#2b45f2"/>
<circle cx="481.6" cy="118" r="1" fill="#2b45f2"/>
<circle cx="480.2" cy="119.4" r="1" fill="#2b45f2"/>
<circle cx="481.6" cy="119.4" r="1" fill="#2b45f2"/>
<circle cx="502.8" cy="83.8" r="1" fill="#2b45f2"/>
<circle cx="502.8" cy="86.2" r="1" fill="#2b45f2"/>
<circle cx="501.8" cy="96.2" r="1" fill="#2b45f2"/>
<circle cx="503.8" cy="96.2" r="1" fill="#2b45f2"/>
<circle cx="502.8" cy="98.7" r="1" fill="#2b45f2"/>
<circle cx="502.8" cy="100.6" r="1" fill="#2b45f2"/>
<circle cx="502.8" cy="103.6" r="1" fill="#2b45f2"/>
<circle cx="502.8" cy="109.6" r="1" fill="#2b45f2"/>
<circle cx="502.8" cy="112.6" r="1" fill="#2b45f2"/>
<circle cx="524.6" cy="101.6" r="1" fill="#2b45f2"/>
<circle cx="524.6" cy="103.1" r="1" fill="#2b45f2"/>
<circle cx="524.6" cy="106.1" r="1" fill="#2b45f2"/>
<circle cx="523.6" cy="108.1" r="1" fill="#2b45f2"/>
<circle cx="525.6" cy="108.1" r="1" fill="#2b45f2"/>
<circle cx="524.6" cy="110.6" r="1" fill="#2b45f2"/>
<circle cx="524.6" cy="113.6" r="1" fill="#2b45f2"/>
<circle cx="524.6" cy="116.5" r="1" fill="#2b45f2"/>
<circle cx="524.6" cy="118.5" r="1" fill="#2b45f2"/>
<circle cx="546.8" cy="103.9" r="1" fill="#2b45f2"/>
<circle cx="546.8" cy="105.8" r="1" fill="#2b45f2"/>
<circle cx="546.2" cy="107.8" r="1" fill="#2b45f2"/>
<circle cx="547.5" cy="107.8" r="1" fill="#2b45f2"/>
<circle cx="546.8" cy="109.8" r="1" fill="#2b45f2"/>
<circle cx="546.8" cy="111.1" r="1" fill="#2b45f2"/>
<circle cx="546.8" cy="118.3" r="1" fill="#2b45f2"/>
<circle cx="568.9" cy="72.6" r="1" fill="#2b45f2"/>
<circle cx="568.9" cy="78.9" r="1" fill="#2b45f2"/>
<circle cx="568.9" cy="86.5" r="1" fill="#2b45f2"/>
<circle cx="568.9" cy="89.4" r="1" fill="#2b45f2"/>
<circle cx="568.9" cy="93.4" r="1" fill="#2b45f2"/>
<circle cx="568.9" cy="96" r="1" fill="#2b45f2"/>
<circle cx="568.9" cy="111.1" r="1" fill="#2b45f2"/>
<circle cx="567.9" cy="90.7" r="1" fill="#2b45f2"/>
<circle cx="569.9" cy="90.7" r="1" fill="#2b45f2"/>
<circle cx="591.1" cy="91.8" r="1" fill="#2b45f2"/>
<circle cx="591.1" cy="94" r="1" fill="#2b45f2"/>
<circle cx="591.1" cy="96.6" r="1" fill="#2b45f2"/>
<circle cx="591.1" cy="103.9" r="1" fill="#2b45f2"/>
<circle cx="591.1" cy="111.8" r="1" fill="#2b45f2"/>
<circle cx="590.1" cy="101.9" r="1" fill="#2b45f2"/>
<circle cx="592.1" cy="101.9" r="1" fill="#2b45f2"/>
<circle cx="613.2" cy="98" r="1" fill="#2b45f2"/>
<circle cx="613.2" cy="99.9" r="1" fill="#2b45f2"/>
<circle cx="613.2" cy="103.9" r="1" fill="#2b45f2"/>
<circle cx="613.2" cy="107.8" r="1" fill="#2b45f2"/>
<circle cx="613.2" cy="113.1" r="1" fill="#2b45f2"/>
<circle cx="613.2" cy="115.7" r="1" fill="#2b45f2"/>
<circle cx="612.5" cy="110.4" r="1" fill="#2b45f2"/>
<circle cx="613.9" cy="110.4" r="1" fill="#2b45f2"/>
<circle cx="486.2" cy="109.6" r="1" fill="#b45ee6"/>
<circle cx="487.6" cy="109.6" r="1" fill="#b45ee6"/>
<circle cx="486.2" cy="111.2" r="1" fill="#b45ee6"/>
<circle cx="487.6" cy="111.2" r="1" fill="#b45ee6"/>
<circle cx="486.2" cy="112.8" r="1" fill="#b45ee6"/>
<circle cx="487.6" cy="112.8" r="1" fill="#b45ee6"/>
<circle cx="486.2" cy="114.4" r="1" fill="#b45ee6"/>
<circle cx="487.6" cy="114.4" r="1" fill="#b45ee6"/>
<circle cx="486.2" cy="116" r="1" fill="#b45ee6"/>
<circle cx="487.6" cy="116" r="1" fill="#b45ee6"/>
<circle cx="486.2" cy="117.6" r="1" fill="#b45ee6"/>
<circle cx="487.6" cy="117.6" r="1" fill="#b45ee6"/>
<circle cx="508.7" cy="78.3" r="1" fill="#b45ee6"/>
<circle cx="508.7" cy="86.7" r="1" fill="#b45ee6"/>
<circle cx="508.7" cy="90.7" r="1" fill="#b45ee6"/>
<circle cx="507.7" cy="95.7" r="1" fill="#b45ee6"/>
<circle cx="509.7" cy="95.7" r="1" fill="#b45ee6"/>
<circle cx="508.7" cy="97.2" r="1" fill="#b45ee6"/>
<circle cx="508.7" cy="100.1" r="1" fill="#b45ee6"/>
<circle cx="508.7" cy="112.6" r="1" fill="#b45ee6"/>
<circle cx="508.7" cy="117.5" r="1" fill="#b45ee6"/>
<circle cx="530.6" cy="97.2" r="1" fill="#b45ee6"/>
<circle cx="531.8" cy="97.2" r="1" fill="#b45ee6"/>
<circle cx="530.6" cy="102.2" r="1" fill="#b45ee6"/>
<circle cx="530.6" cy="104.1" r="1" fill="#b45ee6"/>
<circle cx="530.6" cy="108.6" r="1" fill="#b45ee6"/>
<circle cx="530.6" cy="111.6" r="1" fill="#b45ee6"/>
<circle cx="530.6" cy="114" r="1" fill="#b45ee6"/>
<circle cx="553.1" cy="104.5" r="1" fill="#b45ee6"/>
<circle cx="552.1" cy="105.8" r="1" fill="#b45ee6"/>
<circle cx="554.1" cy="105.8" r="1" fill="#b45ee6"/>
<circle cx="553.1" cy="107.8" r="1" fill="#b45ee6"/>
<circle cx="553.1" cy="111.1" r="1" fill="#b45ee6"/>
<circle cx="553.1" cy="118.3" r="1" fill="#b45ee6"/>
<circle cx="575.1" cy="62.1" r="1" fill="#b45ee6"/>
<circle cx="575.1" cy="90.1" r="1" fill="#b45ee6"/>
<circle cx="575.1" cy="93.4" r="1" fill="#b45ee6"/>
<circle cx="575.1" cy="111.1" r="1" fill="#b45ee6"/>
<circle cx="575.1" cy="117.7" r="1" fill="#b45ee6"/>
<circle cx="575.7" cy="88.1" r="1" fill="#b45ee6"/>
<circle cx="574.4" cy="91.8" r="1" fill="#b45ee6"/>
<circle cx="575.8" cy="91.8" r="1" fill="#b45ee6"/>
<circle cx="597.3" cy="91.8" r="1" fill="#b45ee6"/>
<circle cx="597.3" cy="94.7" r="1" fill="#b45ee6"/>
<circle cx="597.3" cy="98.4" r="1" fill="#b45ee6"/>
<circle cx="597.3" cy="107.8" r="1" fill="#b45ee6"/>
<circle cx="597.3" cy="111.8" r="1" fill="#b45ee6"/>
<circle cx="597.3" cy="117.7" r="1" fill="#b45ee6"/>
<circle cx="596.5" cy="96.6" r="1" fill="#b45ee6"/>
<circle cx="598.1" cy="96.6" r="1" fill="#b45ee6"/>
<circle cx="619.3" cy="82.8" r="1" fill="#b45ee6"/>
<circle cx="619.3" cy="99.9" r="1" fill="#b45ee6"/>
<circle cx="619.3" cy="101.2" r="1" fill="#b45ee6"/>
<circle cx="619.3" cy="106.5" r="1" fill="#b45ee6"/>
<circle cx="619.3" cy="111.8" r="1" fill="#b45ee6"/>
<text x="482.5" y="129" font-size="7.7" text-anchor="end" font-weight="bold" fill="#000" transform="rotate(-45 482.5 129)">DN B</text>
<text x="505" y="129" font-size="7.7" text-anchor="end" font-weight="bold" fill="#000" transform="rotate(-45 505 129)">Naive B</text>
<text x="527" y="129" font-size="7.7" text-anchor="end" font-weight="bold" fill="#000" transform="rotate(-45 527 129)">PBC</text>
<text x="549" y="129" font-size="7.7" text-anchor="end" font-weight="bold" fill="#000" transform="rotate(-45 549 129)">Switched MBC</text>
<text x="571.1" y="129" font-size="7.7" text-anchor="end" font-weight="bold" fill="#000" transform="rotate(-45 571.1 129)">Transitional B</text>
<text x="593.2" y="129" font-size="7.7" text-anchor="end" font-weight="bold" fill="#000" transform="rotate(-45 593.2 129)">UnSwitched MBC</text>
<text x="615.1" y="129" font-size="7.7" text-anchor="end" font-weight="bold" fill="#000" transform="rotate(-45 615.1 129)">B</text>
<path d="M477.9 92.8L477.9 96.6M476.25 93.75L479.55 95.65M476.25 95.65L479.55 93.75" stroke="#000" stroke-width="0.95" stroke-linecap="round"/>
<circle cx="477.9" cy="94.7" r="0.76" fill="#000"/>
<line x1="474" y1="101.5" x2="481.9" y2="101.5" stroke="#555" stroke-width="1.1"/>
<path d="M483.7 80.7L483.7 84.5M482.05 81.65L485.35 83.55M482.05 83.55L485.35 81.65" stroke="#000" stroke-width="0.95" stroke-linecap="round"/>
<circle cx="483.7" cy="82.6" r="0.76" fill="#000"/>
<line x1="479.9" y1="88.5" x2="487.9" y2="88.5" stroke="#555" stroke-width="1.1"/>
<path d="M522.6 77.4L522.6 81.2M520.95 78.35L524.25 80.25M520.95 80.25L524.25 78.35" stroke="#000" stroke-width="0.95" stroke-linecap="round"/>
<circle cx="522.6" cy="79.3" r="0.76" fill="#000"/>
<line x1="519.1" y1="85.5" x2="527.1" y2="85.5" stroke="#444" stroke-width="1.1"/>
<path d="M522.8 67.5L522.8 71.3M521.15 68.45L524.45 70.35M521.15 70.35L524.45 68.45" stroke="#000" stroke-width="0.95" stroke-linecap="round"/>
<circle cx="522.8" cy="69.4" r="0.76" fill="#000"/>
<path d="M528.4 67.5L528.4 71.3M526.75 68.45L530.05 70.35M526.75 70.35L530.05 68.45" stroke="#000" stroke-width="0.95" stroke-linecap="round"/>
<circle cx="528.4" cy="69.4" r="0.76" fill="#000"/>
<line x1="519.1" y1="75.5" x2="532.6" y2="75.5" stroke="#444" stroke-width="1.1"/>
<path d="M610.5 69.4L610.5 73.2M608.85 70.35L612.15 72.25M608.85 72.25L612.15 70.35" stroke="#000" stroke-width="0.95" stroke-linecap="round"/>
<circle cx="610.5" cy="71.3" r="0.76" fill="#000"/>
<line x1="606.6" y1="77.5" x2="614.8" y2="77.5" stroke="#444" stroke-width="1.1"/>
<path d="M615.5 58L615.5 61.8M613.85 58.95L617.15 60.85M613.85 60.85L617.15 58.95" stroke="#000" stroke-width="0.95" stroke-linecap="round"/>
<circle cx="615.5" cy="59.9" r="0.76" fill="#000"/>
<line x1="611.9" y1="66.5" x2="619.7" y2="66.5" stroke="#444" stroke-width="1.1"/>
<circle cx="552.2" cy="23.3" r="1" fill="#f23a3a"/>
<text x="560" y="26.11" font-size="7.8" text-anchor="start" font-weight="bold" fill="#000">HC</text>
<circle cx="552.2" cy="33.5" r="1" fill="#2b45f2"/>
<text x="560" y="36.31" font-size="7.8" text-anchor="start" font-weight="bold" fill="#000">SLE without kidney damage</text>
<circle cx="552.2" cy="43.7" r="1" fill="#b45ee6"/>
<text x="560" y="46.51" font-size="7.8" text-anchor="start" font-weight="bold" fill="#000">SLE with kidney damage</text>
<rect x="19.5" y="217.5" width="78" height="78" fill="#fff" stroke="#7a7a7a" stroke-width="0.9"/>
<line x1="18.1" y1="288.5" x2="19.5" y2="288.5" stroke="#777" stroke-width="0.5"/>
<line x1="18.1" y1="281.5" x2="19.5" y2="281.5" stroke="#777" stroke-width="0.5"/>
<line x1="18.1" y1="275.5" x2="19.5" y2="275.5" stroke="#777" stroke-width="0.5"/>
<line x1="18.1" y1="268.5" x2="19.5" y2="268.5" stroke="#777" stroke-width="0.5"/>
<line x1="18.1" y1="262.5" x2="19.5" y2="262.5" stroke="#777" stroke-width="0.5"/>
<line x1="18.1" y1="255.5" x2="19.5" y2="255.5" stroke="#777" stroke-width="0.5"/>
<line x1="18.1" y1="248.5" x2="19.5" y2="248.5" stroke="#777" stroke-width="0.5"/>
<line x1="18.1" y1="242.5" x2="19.5" y2="242.5" stroke="#777" stroke-width="0.5"/>
<line x1="18.1" y1="235.5" x2="19.5" y2="235.5" stroke="#777" stroke-width="0.5"/>
<line x1="18.1" y1="229.5" x2="19.5" y2="229.5" stroke="#777" stroke-width="0.5"/>
<line x1="28.5" y1="295" x2="28.5" y2="296.3" stroke="#777" stroke-width="0.5"/>
<line x1="34.5" y1="295" x2="34.5" y2="296.3" stroke="#777" stroke-width="0.5"/>
<line x1="41.5" y1="295" x2="41.5" y2="296.3" stroke="#777" stroke-width="0.5"/>
<line x1="48.5" y1="295" x2="48.5" y2="296.3" stroke="#777" stroke-width="0.5"/>
<line x1="55.5" y1="295" x2="55.5" y2="296.3" stroke="#777" stroke-width="0.5"/>
<line x1="61.5" y1="295" x2="61.5" y2="296.3" stroke="#777" stroke-width="0.5"/>
<line x1="68.5" y1="295" x2="68.5" y2="296.3" stroke="#777" stroke-width="0.5"/>
<line x1="75.5" y1="295" x2="75.5" y2="296.3" stroke="#777" stroke-width="0.5"/>
<line x1="81.5" y1="295" x2="81.5" y2="296.3" stroke="#777" stroke-width="0.5"/>
<line x1="88.5" y1="295" x2="88.5" y2="296.3" stroke="#777" stroke-width="0.5"/>
<line x1="95.5" y1="295" x2="95.5" y2="296.3" stroke="#777" stroke-width="0.5"/>
<path d="M19.5 295L19.5 295L20 295L20.5 295L21 295L21.5 295L22 295L22.5 295L23 295L23.5 295L24 295L24.5 295L25 295L25.5 295L26 295L26.5 295L27 295L27.5 295L28 295L28.5 295L29 295L29.5 295L30 295L30.5 295L31 295L31.5 295L32 295L32.5 295L33 295L33.5 295L34 295L34.5 295L35 295L35.5 295L36 295L36.5 295L37 295L37.5 295L38 295L38.5 295L39 295L39.5 295L40 295L40.5 295L41 295L41.5 295L42 295L42.5 295L43 295L43.5 295L44 295L44.5 295L45 295L45.5 295L46 295L46.5 295L47 295L47.5 295L48 295L48.5 295L49 295L49.5 295L50 295L50.5 295L51 295L51.5 295L52 295L52.5 295L53 295L53.5 295L54 295L54.5 294.98L55 294.89L55.5 294.61L56 293.74L56.5 291.5L57 286.61L57.5 277.68L58 264.17L58.5 247.65L59 232.28L59.5 223.35L60 222.82L60.5 224.73L61 228.24L61.5 233.11L62 239L62.5 245.56L63 252.4L63.5 259.18L64 265.61L64.5 271.46L65 276.61L65.5 280.97L66 284.56L66.5 287.42L67 289.63L67.5 291.28L68 292.49L68.5 293.35L69 293.94L69.5 294.33L70 294.59L70.5 294.76L71 294.86L71.5 294.92L72 294.96L72.5 294.98L73 294.99L73.5 294.99L74 295L74.5 295L75 295L75.5 295L76 295L76.5 295L77 295L77.5 295L78 295L78.5 295L79 295L79.5 295L80 295L80.5 295L81 295L81.5 295L82 295L82.5 295L83 295L83.5 295L84 295L84.5 295L85 295L85.5 295L86 295L86.5 295L87 295L87.5 295L88 295L88.5 295L89 295L89.5 295L90 295L90.5 295L91 295L91.5 295L92 295L92.5 295L93 295L93.5 295L94 295L94.5 295L95 295L95.5 295L96 295L96.5 295L97 295L97.5 295L97.5 295Z" fill="#f6a4a4"/>
<path d="M19.5 295L19.5 295L20 295L20.5 295L21 295L21.5 295L22 295L22.5 295L23 295L23.5 295L24 295L24.5 295L25 295L25.5 295L26 295L26.5 295L27 295L27.5 295L28 295L28.5 295L29 295L29.5 295L30 295L30.5 295L31 295L31.5 295L32 295L32.5 295L33 295L33.5 295L34 295L34.5 295L35 295L35.5 295L36 295L36.5 295L37 295L37.5 295L38 295L38.5 295L39 295L39.5 295L40 295L40.5 295L41 295L41.5 295L42 295L42.5 295L43 295L43.5 295L44 295L44.5 295L45 295L45.5 295L46 295L46.5 295L47 295L47.5 295L48 295L48.5 295L49 295L49.5 295L50 295L50.5 295L51 294.99L51.5 294.99L52 294.97L52.5 294.95L53 294.9L53.5 294.82L54 294.69L54.5 294.49L55 294.2L55.5 293.78L56 293.22L56.5 292.49L57 291.62L57.5 290.61L58 289.52L58.5 288.43L59 287.44L59.5 286.62L60 286.07L60.5 285.83L61 285.84L61.5 285.99L62 286.26L62.5 286.6L63 286.96L63.5 287.29L64 287.52L64.5 287.58L65 287.41L65.5 286.95L66 286.15L66.5 284.94L67 283.31L67.5 281.21L68 278.63L68.5 275.57L69 272.07L69.5 268.14L70 263.87L70.5 259.32L71 254.61L71.5 249.87L72 245.21L72.5 240.81L73 236.79L73.5 233.32L74 230.5L74.5 228.47L75 227.29L75.5 227.03L76 228.05L76.5 230.47L77 234.13L77.5 238.81L78 244.24L78.5 250.13L79 256.18L79.5 262.13L80 267.77L80.5 272.92L81 277.48L81.5 281.4L82 284.67L82.5 287.32L83 289.41L83.5 291.02L84 292.23L84.5 293.11L85 293.74L85.5 294.18L86 294.47L86.5 294.67L87 294.8L87.5 294.88L88 294.93L88.5 294.96L89 294.98L89.5 294.99L90 294.99L90.5 295L91 295L91.5 295L92 295L92.5 295L93 295L93.5 295L94 295L94.5 295L95 295L95.5 295L96 295L96.5 295L97 295L97.5 295L97.5 295Z" fill="#9ae9f6"/>
<path d="M19.5 295L19.5 295L20 295L20.5 295L21 295L21.5 295L22 295L22.5 295L23 295L23.5 295L24 295L24.5 295L25 295L25.5 295L26 295L26.5 295L27 295L27.5 295L28 295L28.5 295L29 295L29.5 295L30 295L30.5 295L31 295L31.5 295L32 295L32.5 295L33 295L33.5 295L34 295L34.5 295L35 295L35.5 295L36 295L36.5 295L37 295L37.5 295L38 295L38.5 295L39 295L39.5 295L40 295L40.5 295L41 295L41.5 295L42 295L42.5 295L43 295L43.5 295L44 295L44.5 295L45 295L45.5 295L46 295L46.5 295L47 295L47.5 295L48 295L48.5 295L49 295L49.5 295L50 295L50.5 295L51 295L51.5 295L52 295L52.5 295L53 295L53.5 295L54 295L54.5 294.98L55 294.89L55.5 294.61L56 293.74L56.5 292.49L57 291.62L57.5 290.61L58 289.52L58.5 288.43L59 287.44L59.5 286.62L60 286.07L60.5 285.83L61 285.84L61.5 285.99L62 286.26L62.5 286.6L63 286.96L63.5 287.29L64 287.52L64.5 287.58L65 287.41L65.5 286.95L66 286.15L66.5 287.42L67 289.63L67.5 291.28L68 292.49L68.5 293.35L69 293.94L69.5 294.33L70 294.59L70.5 294.76L71 294.86L71.5 294.92L72 294.96L72.5 294.98L73 294.99L73.5 294.99L74 295L74.5 295L75 295L75.5 295L76 295L76.5 295L77 295L77.5 295L78 295L78.5 295L79 295L79.5 295L80 295L80.5 295L81 295L81.5 295L82 295L82.5 295L83 295L83.5 295L84 295L84.5 295L85 295L85.5 295L86 295L86.5 295L87 295L87.5 295L88 295L88.5 295L89 295L89.5 295L90 295L90.5 295L91 295L91.5 295L92 295L92.5 295L93 295L93.5 295L94 295L94.5 295L95 295L95.5 295L96 295L96.5 295L97 295L97.5 295L97.5 295Z" fill="#93afc6"/>
<path d="M19.5 295L20 295L20.5 295L21 295L21.5 295L22 295L22.5 295L23 295L23.5 295L24 295L24.5 295L25 295L25.5 295L26 295L26.5 295L27 295L27.5 295L28 295L28.5 295L29 295L29.5 295L30 295L30.5 295L31 295L31.5 295L32 295L32.5 295L33 295L33.5 295L34 295L34.5 295L35 295L35.5 295L36 295L36.5 295L37 295L37.5 295L38 295L38.5 295L39 295L39.5 295L40 295L40.5 295L41 295L41.5 295L42 295L42.5 295L43 295L43.5 295L44 295L44.5 295L45 295L45.5 295L46 295L46.5 295L47 295L47.5 295L48 295L48.5 295L49 295L49.5 295L50 295L50.5 295L51 295L51.5 295L52 295L52.5 295L53 295L53.5 295L54 295L54.5 294.98L55 294.89L55.5 294.61L56 293.74L56.5 291.5L57 286.61L57.5 277.68L58 264.17L58.5 247.65L59 232.28L59.5 223.35L60 222.82L60.5 224.73L61 228.24L61.5 233.11L62 239L62.5 245.56L63 252.4L63.5 259.18L64 265.61L64.5 271.46L65 276.61L65.5 280.97L66 284.56L66.5 287.42L67 289.63L67.5 291.28L68 292.49L68.5 293.35L69 293.94L69.5 294.33L70 294.59L70.5 294.76L71 294.86L71.5 294.92L72 294.96L72.5 294.98L73 294.99L73.5 294.99L74 295L74.5 295L75 295L75.5 295L76 295L76.5 295L77 295L77.5 295L78 295L78.5 295L79 295L79.5 295L80 295L80.5 295L81 295L81.5 295L82 295L82.5 295L83 295L83.5 295L84 295L84.5 295L85 295L85.5 295L86 295L86.5 295L87 295L87.5 295L88 295L88.5 295L89 295L89.5 295L90 295L90.5 295L91 295L91.5 295L92 295L92.5 295L93 295L93.5 295L94 295L94.5 295L95 295L95.5 295L96 295L96.5 295L97 295L97.5 295" fill="none" stroke="#ec6868" stroke-width="0.75"/>
<path d="M19.5 295L20 295L20.5 295L21 295L21.5 295L22 295L22.5 295L23 295L23.5 295L24 295L24.5 295L25 295L25.5 295L26 295L26.5 295L27 295L27.5 295L28 295L28.5 295L29 295L29.5 295L30 295L30.5 295L31 295L31.5 295L32 295L32.5 295L33 295L33.5 295L34 295L34.5 295L35 295L35.5 295L36 295L36.5 295L37 295L37.5 295L38 295L38.5 295L39 295L39.5 295L40 295L40.5 295L41 295L41.5 295L42 295L42.5 295L43 295L43.5 295L44 295L44.5 295L45 295L45.5 295L46 295L46.5 295L47 295L47.5 295L48 295L48.5 295L49 295L49.5 295L50 295L50.5 295L51 294.99L51.5 294.99L52 294.97L52.5 294.95L53 294.9L53.5 294.82L54 294.69L54.5 294.49L55 294.2L55.5 293.78L56 293.22L56.5 292.49L57 291.62L57.5 290.61L58 289.52L58.5 288.43L59 287.44L59.5 286.62L60 286.07L60.5 285.83L61 285.84L61.5 285.99L62 286.26L62.5 286.6L63 286.96L63.5 287.29L64 287.52L64.5 287.58L65 287.41L65.5 286.95L66 286.15L66.5 284.94L67 283.31L67.5 281.21L68 278.63L68.5 275.57L69 272.07L69.5 268.14L70 263.87L70.5 259.32L71 254.61L71.5 249.87L72 245.21L72.5 240.81L73 236.79L73.5 233.32L74 230.5L74.5 228.47L75 227.29L75.5 227.03L76 228.05L76.5 230.47L77 234.13L77.5 238.81L78 244.24L78.5 250.13L79 256.18L79.5 262.13L80 267.77L80.5 272.92L81 277.48L81.5 281.4L82 284.67L82.5 287.32L83 289.41L83.5 291.02L84 292.23L84.5 293.11L85 293.74L85.5 294.18L86 294.47L86.5 294.67L87 294.8L87.5 294.88L88 294.93L88.5 294.96L89 294.98L89.5 294.99L90 294.99L90.5 295L91 295L91.5 295L92 295L92.5 295L93 295L93.5 295L94 295L94.5 295L95 295L95.5 295L96 295L96.5 295L97 295L97.5 295" fill="none" stroke="#36d0ec" stroke-width="0.75"/>
<text x="58" y="213.09" font-size="13.3" text-anchor="middle" font-weight="bold" fill="#000">B</text>
<text x="21.5" y="226.85" font-size="8.2" text-anchor="start" font-weight="bold" fill="#ec5555">5906</text>
<text x="97.8" y="226.85" font-size="8.2" text-anchor="end" font-weight="bold" fill="#4646e8">12110</text>
<rect x="111.5" y="217.5" width="78" height="78" fill="#fff" stroke="#7a7a7a" stroke-width="0.9"/>
<line x1="109.6" y1="288.5" x2="111" y2="288.5" stroke="#777" stroke-width="0.5"/>
<line x1="109.6" y1="281.5" x2="111" y2="281.5" stroke="#777" stroke-width="0.5"/>
<line x1="109.6" y1="275.5" x2="111" y2="275.5" stroke="#777" stroke-width="0.5"/>
<line x1="109.6" y1="268.5" x2="111" y2="268.5" stroke="#777" stroke-width="0.5"/>
<line x1="109.6" y1="262.5" x2="111" y2="262.5" stroke="#777" stroke-width="0.5"/>
<line x1="109.6" y1="255.5" x2="111" y2="255.5" stroke="#777" stroke-width="0.5"/>
<line x1="109.6" y1="248.5" x2="111" y2="248.5" stroke="#777" stroke-width="0.5"/>
<line x1="109.6" y1="242.5" x2="111" y2="242.5" stroke="#777" stroke-width="0.5"/>
<line x1="109.6" y1="235.5" x2="111" y2="235.5" stroke="#777" stroke-width="0.5"/>
<line x1="109.6" y1="229.5" x2="111" y2="229.5" stroke="#777" stroke-width="0.5"/>
<line x1="119.5" y1="295" x2="119.5" y2="296.3" stroke="#777" stroke-width="0.5"/>
<line x1="126.5" y1="295" x2="126.5" y2="296.3" stroke="#777" stroke-width="0.5"/>
<line x1="133.5" y1="295" x2="133.5" y2="296.3" stroke="#777" stroke-width="0.5"/>
<line x1="139.5" y1="295" x2="139.5" y2="296.3" stroke="#777" stroke-width="0.5"/>
<line x1="146.5" y1="295" x2="146.5" y2="296.3" stroke="#777" stroke-width="0.5"/>
<line x1="153.5" y1="295" x2="153.5" y2="296.3" stroke="#777" stroke-width="0.5"/>
<line x1="159.5" y1="295" x2="159.5" y2="296.3" stroke="#777" stroke-width="0.5"/>
<line x1="166.5" y1="295" x2="166.5" y2="296.3" stroke="#777" stroke-width="0.5"/>
<line x1="173.5" y1="295" x2="173.5" y2="296.3" stroke="#777" stroke-width="0.5"/>
<line x1="180.5" y1="295" x2="180.5" y2="296.3" stroke="#777" stroke-width="0.5"/>
<line x1="186.5" y1="295" x2="186.5" y2="296.3" stroke="#777" stroke-width="0.5"/>
<path d="M111 295L111 295L111.5 295L112 295L112.5 295L113 294.99L113.5 294.99L114 294.98L114.5 294.96L115 294.94L115.5 294.89L116 294.82L116.5 294.7L117 294.53L117.5 294.26L118 293.87L118.5 293.3L119 292.51L119.5 291.42L120 289.98L120.5 288.1L121 285.71L121.5 282.77L122 279.25L122.5 275.14L123 270.5L123.5 265.41L124 260.03L124.5 254.55L125 249.19L125.5 244.23L126 239.91L126.5 236.49L127 234.14L127.5 233L128 233.43L128.5 235.95L129 240.28L129.5 245.93L130 252.33L130.5 258.91L131 265.15L131.5 270.69L132 275.31L132.5 278.91L133 281.54L133.5 283.33L134 284.44L134.5 285.06L135 285.33L135.5 285.41L136 285.4L136.5 285.38L137 285.41L137.5 285.55L138 285.86L138.5 286.32L139 286.93L139.5 287.64L140 288.42L140.5 289.24L141 290.06L141.5 290.84L142 291.58L142.5 292.24L143 292.81L143.5 293.31L144 293.71L144.5 294.04L145 294.3L145.5 294.5L146 294.65L146.5 294.76L147 294.84L147.5 294.89L148 294.93L148.5 294.96L149 294.97L149.5 294.98L150 294.99L150.5 294.99L151 295L151.5 295L152 295L152.5 295L153 295L153.5 295L154 295L154.5 295L155 295L155.5 295L156 295L156.5 295L157 295L157.5 295L158 295L158.5 295L159 295L159.5 295L160 295L160.5 295L161 295L161.5 295L162 295L162.5 295L163 295L163.5 295L164 295L164.5 295L165 295L165.5 295L166 295L166.5 295L167 295L167.5 295L168 295L168.5 295L169 295L169.5 295L170 295L170.5 295L171 295L171.5 295L172 295L172.5 295L173 295L173.5 295L174 295L174.5 295L175 295L175.5 295L176 295L176.5 295L177 295L177.5 295L178 295L178.5 295L179 295L179.5 295L180 295L180.5 295L181 295L181.5 295L182 295L182.5 295L183 295L183.5 295L184 295L184.5 295L185 295L185.5 295L186 295L186.5 295L187 295L187.5 295L188 295L188.5 295L189 295L189 295Z" fill="#f6a4a4"/>
<path d="M111 295L111 295L111.5 295L112 295L112.5 295L113 295L113.5 295L114 295L114.5 295L115 295L115.5 295L116 295L116.5 295L117 295L117.5 295L118 295L118.5 295L119 295L119.5 295L120 295L120.5 295L121 295L121.5 295L122 295L122.5 295L123 295L123.5 295L124 295L124.5 295L125 295L125.5 295L126 295L126.5 295L127 295L127.5 295L128 295L128.5 295L129 295L129.5 295L130 295L130.5 294.99L131 294.98L131.5 294.97L132 294.94L132.5 294.89L133 294.81L133.5 294.67L134 294.47L134.5 294.17L135 293.74L135.5 293.17L136 292.42L136.5 291.47L137 290.29L137.5 288.81L138 286.91L138.5 284.36L139 280.84L139.5 275.95L140 269.36L140.5 261.02L141 251.37L141.5 241.49L142 232.93L142.5 227.39L143 226.17L143.5 229.25L144 235.77L144.5 244.73L145 254.84L145.5 264.8L146 273.64L146.5 280.79L147 286.11L147.5 289.77L148 292.11L148.5 293.49L149 294.26L149.5 294.66L150 294.85L150.5 294.94L151 294.98L151.5 294.99L152 295L152.5 295L153 295L153.5 295L154 295L154.5 295L155 295L155.5 295L156 295L156.5 295L157 295L157.5 295L158 295L158.5 295L159 295L159.5 295L160 295L160.5 295L161 295L161.5 295L162 295L162.5 295L163 295L163.5 295L164 295L164.5 295L165 295L165.5 295L166 295L166.5 295L167 295L167.5 295L168 295L168.5 295L169 295L169.5 295L170 295L170.5 295L171 295L171.5 295L172 295L172.5 295L173 295L173.5 295L174 295L174.5 295L175 295L175.5 295L176 295L176.5 295L177 295L177.5 295L178 295L178.5 295L179 295L179.5 295L180 295L180.5 295L181 295L181.5 295L182 295L182.5 295L183 295L183.5 295L184 295L184.5 295L185 295L185.5 295L186 295L186.5 295L187 295L187.5 295L188 295L188.5 295L189 295L189 295Z" fill="#9ae9f6"/>
<path d="M111 295L111 295L111.5 295L112 295L112.5 295L113 295L113.5 295L114 295L114.5 295L115 295L115.5 295L116 295L116.5 295L117 295L117.5 295L118 295L118.5 295L119 295L119.5 295L120 295L120.5 295L121 295L121.5 295L122 295L122.5 295L123 295L123.5 295L124 295L124.5 295L125 295L125.5 295L126 295L126.5 295L127 295L127.5 295L128 295L128.5 295L129 295L129.5 295L130 295L130.5 294.99L131 294.98L131.5 294.97L132 294.94L132.5 294.89L133 294.81L133.5 294.67L134 294.47L134.5 294.17L135 293.74L135.5 293.17L136 292.42L136.5 291.47L137 290.29L137.5 288.81L138 286.91L138.5 286.32L139 286.93L139.5 287.64L140 288.42L140.5 289.24L141 290.06L141.5 290.84L142 291.58L142.5 292.24L143 292.81L143.5 293.31L144 293.71L144.5 294.04L145 294.3L145.5 294.5L146 294.65L146.5 294.76L147 294.84L147.5 294.89L148 294.93L148.5 294.96L149 294.97L149.5 294.98L150 294.99L150.5 294.99L151 295L151.5 295L152 295L152.5 295L153 295L153.5 295L154 295L154.5 295L155 295L155.5 295L156 295L156.5 295L157 295L157.5 295L158 295L158.5 295L159 295L159.5 295L160 295L160.5 295L161 295L161.5 295L162 295L162.5 295L163 295L163.5 295L164 295L164.5 295L165 295L165.5 295L166 295L166.5 295L167 295L167.5 295L168 295L168.5 295L169 295L169.5 295L170 295L170.5 295L171 295L171.5 295L172 295L172.5 295L173 295L173.5 295L174 295L174.5 295L175 295L175.5 295L176 295L176.5 295L177 295L177.5 295L178 295L178.5 295L179 295L179.5 295L180 295L180.5 295L181 295L181.5 295L182 295L182.5 295L183 295L183.5 295L184 295L184.5 295L185 295L185.5 295L186 295L186.5 295L187 295L187.5 295L188 295L188.5 295L189 295L189 295Z" fill="#93afc6"/>
<path d="M111 295L111.5 295L112 295L112.5 295L113 294.99L113.5 294.99L114 294.98L114.5 294.96L115 294.94L115.5 294.89L116 294.82L116.5 294.7L117 294.53L117.5 294.26L118 293.87L118.5 293.3L119 292.51L119.5 291.42L120 289.98L120.5 288.1L121 285.71L121.5 282.77L122 279.25L122.5 275.14L123 270.5L123.5 265.41L124 260.03L124.5 254.55L125 249.19L125.5 244.23L126 239.91L126.5 236.49L127 234.14L127.5 233L128 233.43L128.5 235.95L129 240.28L129.5 245.93L130 252.33L130.5 258.91L131 265.15L131.5 270.69L132 275.31L132.5 278.91L133 281.54L133.5 283.33L134 284.44L134.5 285.06L135 285.33L135.5 285.41L136 285.4L136.5 285.38L137 285.41L137.5 285.55L138 285.86L138.5 286.32L139 286.93L139.5 287.64L140 288.42L140.5 289.24L141 290.06L141.5 290.84L142 291.58L142.5 292.24L143 292.81L143.5 293.31L144 293.71L144.5 294.04L145 294.3L145.5 294.5L146 294.65L146.5 294.76L147 294.84L147.5 294.89L148 294.93L148.5 294.96L149 294.97L149.5 294.98L150 294.99L150.5 294.99L151 295L151.5 295L152 295L152.5 295L153 295L153.5 295L154 295L154.5 295L155 295L155.5 295L156 295L156.5 295L157 295L157.5 295L158 295L158.5 295L159 295L159.5 295L160 295L160.5 295L161 295L161.5 295L162 295L162.5 295L163 295L163.5 295L164 295L164.5 295L165 295L165.5 295L166 295L166.5 295L167 295L167.5 295L168 295L168.5 295L169 295L169.5 295L170 295L170.5 295L171 295L171.5 295L172 295L172.5 295L173 295L173.5 295L174 295L174.5 295L175 295L175.5 295L176 295L176.5 295L177 295L177.5 295L178 295L178.5 295L179 295L179.5 295L180 295L180.5 295L181 295L181.5 295L182 295L182.5 295L183 295L183.5 295L184 295L184.5 295L185 295L185.5 295L186 295L186.5 295L187 295L187.5 295L188 295L188.5 295L189 295" fill="none" stroke="#ec6868" stroke-width="0.75"/>
<path d="M111 295L111.5 295L112 295L112.5 295L113 295L113.5 295L114 295L114.5 295L115 295L115.5 295L116 295L116.5 295L117 295L117.5 295L118 295L118.5 295L119 295L119.5 295L120 295L120.5 295L121 295L121.5 295L122 295L122.5 295L123 295L123.5 295L124 295L124.5 295L125 295L125.5 295L126 295L126.5 295L127 295L127.5 295L128 295L128.5 295L129 295L129.5 295L130 295L130.5 294.99L131 294.98L131.5 294.97L132 294.94L132.5 294.89L133 294.81L133.5 294.67L134 294.47L134.5 294.17L135 293.74L135.5 293.17L136 292.42L136.5 291.47L137 290.29L137.5 288.81L138 286.91L138.5 284.36L139 280.84L139.5 275.95L140 269.36L140.5 261.02L141 251.37L141.5 241.49L142 232.93L142.5 227.39L143 226.17L143.5 229.25L144 235.77L144.5 244.73L145 254.84L145.5 264.8L146 273.64L146.5 280.79L147 286.11L147.5 289.77L148 292.11L148.5 293.49L149 294.26L149.5 294.66L150 294.85L150.5 294.94L151 294.98L151.5 294.99L152 295L152.5 295L153 295L153.5 295L154 295L154.5 295L155 295L155.5 295L156 295L156.5 295L157 295L157.5 295L158 295L158.5 295L159 295L159.5 295L160 295L160.5 295L161 295L161.5 295L162 295L162.5 295L163 295L163.5 295L164 295L164.5 295L165 295L165.5 295L166 295L166.5 295L167 295L167.5 295L168 295L168.5 295L169 295L169.5 295L170 295L170.5 295L171 295L171.5 295L172 295L172.5 295L173 295L173.5 295L174 295L174.5 295L175 295L175.5 295L176 295L176.5 295L177 295L177.5 295L178 295L178.5 295L179 295L179.5 295L180 295L180.5 295L181 295L181.5 295L182 295L182.5 295L183 295L183.5 295L184 295L184.5 295L185 295L185.5 295L186 295L186.5 295L187 295L187.5 295L188 295L188.5 295L189 295" fill="none" stroke="#36d0ec" stroke-width="0.75"/>
<text x="150.5" y="213.09" font-size="13.3" text-anchor="middle" font-weight="bold" fill="#000">DN B</text>
<text x="113" y="226.85" font-size="8.2" text-anchor="start" font-weight="bold" fill="#ec5555">487</text>
<text x="189.3" y="226.85" font-size="8.2" text-anchor="end" font-weight="bold" fill="#4646e8">6721</text>
<rect x="202.5" y="217.5" width="78" height="78" fill="#fff" stroke="#7a7a7a" stroke-width="0.9"/>
<line x1="200.6" y1="288.5" x2="202" y2="288.5" stroke="#777" stroke-width="0.5"/>
<line x1="200.6" y1="281.5" x2="202" y2="281.5" stroke="#777" stroke-width="0.5"/>
<line x1="200.6" y1="275.5" x2="202" y2="275.5" stroke="#777" stroke-width="0.5"/>
<line x1="200.6" y1="268.5" x2="202" y2="268.5" stroke="#777" stroke-width="0.5"/>
<line x1="200.6" y1="262.5" x2="202" y2="262.5" stroke="#777" stroke-width="0.5"/>
<line x1="200.6" y1="255.5" x2="202" y2="255.5" stroke="#777" stroke-width="0.5"/>
<line x1="200.6" y1="248.5" x2="202" y2="248.5" stroke="#777" stroke-width="0.5"/>
<line x1="200.6" y1="242.5" x2="202" y2="242.5" stroke="#777" stroke-width="0.5"/>
<line x1="200.6" y1="235.5" x2="202" y2="235.5" stroke="#777" stroke-width="0.5"/>
<line x1="200.6" y1="229.5" x2="202" y2="229.5" stroke="#777" stroke-width="0.5"/>
<line x1="210.5" y1="295" x2="210.5" y2="296.3" stroke="#777" stroke-width="0.5"/>
<line x1="217.5" y1="295" x2="217.5" y2="296.3" stroke="#777" stroke-width="0.5"/>
<line x1="224.5" y1="295" x2="224.5" y2="296.3" stroke="#777" stroke-width="0.5"/>
<line x1="230.5" y1="295" x2="230.5" y2="296.3" stroke="#777" stroke-width="0.5"/>
<line x1="237.5" y1="295" x2="237.5" y2="296.3" stroke="#777" stroke-width="0.5"/>
<line x1="244.5" y1="295" x2="244.5" y2="296.3" stroke="#777" stroke-width="0.5"/>
<line x1="250.5" y1="295" x2="250.5" y2="296.3" stroke="#777" stroke-width="0.5"/>
<line x1="257.5" y1="295" x2="257.5" y2="296.3" stroke="#777" stroke-width="0.5"/>
<line x1="264.5" y1="295" x2="264.5" y2="296.3" stroke="#777" stroke-width="0.5"/>
<line x1="271.5" y1="295" x2="271.5" y2="296.3" stroke="#777" stroke-width="0.5"/>
<line x1="277.5" y1="295" x2="277.5" y2="296.3" stroke="#777" stroke-width="0.5"/>
<path d="M202 295L202 295L202.5 295L203 295L203.5 295L204 295L204.5 295L205 295L205.5 295L206 295L206.5 295L207 295L207.5 295L208 295L208.5 295L209 295L209.5 295L210 295L210.5 295L211 295L211.5 295L212 295L212.5 295L213 295L213.5 295L214 295L214.5 295L215 295L215.5 295L216 295L216.5 295L217 295L217.5 295L218 295L218.5 295L219 295L219.5 294.99L220 294.95L220.5 294.85L221 294.6L221.5 294.13L222 293.4L222.5 292.53L223 291.79L223.5 291.5L224 291.79L224.5 292.53L225 293.4L225.5 294.13L226 294.6L226.5 294.85L227 294.95L227.5 294.99L228 295L228.5 295L229 295L229.5 295L230 295L230.5 295L231 295L231.5 295L232 295L232.5 294.99L233 294.98L233.5 294.96L234 294.9L234.5 294.75L235 294.44L235.5 293.83L236 292.68L236.5 290.7L237 287.5L237.5 282.72L238 276.09L238.5 267.66L239 257.87L239.5 247.62L240 238.2L240.5 231.04L241 227.34L241.5 227.76L242 232.23L242.5 239.95L243 249.65L243.5 259.9L244 269.48L244.5 277.57L245 283.82L245.5 288.26L246 291.18L246.5 292.97L247 293.99L247.5 294.52L248 294.79L248.5 294.91L249 294.97L249.5 294.99L250 295L250.5 295L251 295L251.5 295L252 295L252.5 295L253 295L253.5 295L254 295L254.5 295L255 295L255.5 295L256 295L256.5 295L257 295L257.5 295L258 295L258.5 295L259 295L259.5 295L260 295L260.5 295L261 295L261.5 295L262 295L262.5 295L263 295L263.5 295L264 295L264.5 295L265 295L265.5 295L266 295L266.5 295L267 295L267.5 295L268 295L268.5 295L269 295L269.5 295L270 295L270.5 295L271 295L271.5 295L272 295L272.5 295L273 295L273.5 295L274 295L274.5 295L275 295L275.5 295L276 295L276.5 295L277 295L277.5 295L278 295L278.5 295L279 295L279.5 295L280 295L280 295Z" fill="#f6a4a4"/>
<path d="M202 295L202 295L202.5 295L203 295L203.5 295L204 295L204.5 295L205 295L205.5 295L206 295L206.5 295L207 295L207.5 295L208 295L208.5 295L209 295L209.5 295L210 295L210.5 295L211 295L211.5 295L212 295L212.5 295L213 295L213.5 295L214 295L214.5 295L215 295L215.5 295L216 295L216.5 295L217 295L217.5 295L218 295L218.5 295L219 295L219.5 295L220 295L220.5 295L221 295L221.5 295L222 295L222.5 295L223 295L223.5 295L224 295L224.5 295L225 295L225.5 295L226 295L226.5 295L227 295L227.5 295L228 295L228.5 295L229 295L229.5 295L230 295L230.5 295L231 294.99L231.5 294.97L232 294.93L232.5 294.82L233 294.58L233.5 294.1L234 293.17L234.5 291.52L235 288.78L235.5 284.54L236 278.5L236.5 270.53L237 260.93L237.5 250.42L238 240.21L238.5 231.74L239 226.39L239.5 225.08L240 227.8L240.5 233.97L241 242.63L241.5 252.54L242 262.47L242.5 271.45L243 278.9L243.5 284.59L244 288.64L244.5 291.33L245 293L245.5 293.97L246 294.5L246.5 294.77L247 294.9L247.5 294.96L248 294.98L248.5 294.99L249 295L249.5 295L250 295L250.5 295L251 295L251.5 295L252 295L252.5 295L253 295L253.5 295L254 295L254.5 295L255 295L255.5 295L256 295L256.5 295L257 295L257.5 295L258 295L258.5 295L259 295L259.5 295L260 295L260.5 295L261 295L261.5 295L262 295L262.5 295L263 295L263.5 295L264 295L264.5 295L265 295L265.5 295L266 295L266.5 295L267 295L267.5 295L268 295L268.5 295L269 295L269.5 295L270 295L270.5 295L271 295L271.5 295L272 295L272.5 295L273 295L273.5 295L274 295L274.5 295L275 295L275.5 295L276 295L276.5 295L277 295L277.5 295L278 295L278.5 295L279 295L279.5 295L280 295L280 295Z" fill="#9ae9f6"/>
<path d="M202 295L202 295L202.5 295L203 295L203.5 295L204 295L204.5 295L205 295L205.5 295L206 295L206.5 295L207 295L207.5 295L208 295L208.5 295L209 295L209.5 295L210 295L210.5 295L211 295L211.5 295L212 295L212.5 295L213 295L213.5 295L214 295L214.5 295L215 295L215.5 295L216 295L216.5 295L217 295L217.5 295L218 295L218.5 295L219 295L219.5 295L220 295L220.5 295L221 295L221.5 295L222 295L222.5 295L223 295L223.5 295L224 295L224.5 295L225 295L225.5 295L226 295L226.5 295L227 295L227.5 295L228 295L228.5 295L229 295L229.5 295L230 295L230.5 295L231 295L231.5 295L232 295L232.5 294.99L233 294.98L233.5 294.96L234 294.9L234.5 294.75L235 294.44L235.5 293.83L236 292.68L236.5 290.7L237 287.5L237.5 282.72L238 276.09L238.5 267.66L239 257.87L239.5 247.62L240 238.2L240.5 233.97L241 242.63L241.5 252.54L242 262.47L242.5 271.45L243 278.9L243.5 284.59L244 288.64L244.5 291.33L245 293L245.5 293.97L246 294.5L246.5 294.77L247 294.9L247.5 294.96L248 294.98L248.5 294.99L249 295L249.5 295L250 295L250.5 295L251 295L251.5 295L252 295L252.5 295L253 295L253.5 295L254 295L254.5 295L255 295L255.5 295L256 295L256.5 295L257 295L257.5 295L258 295L258.5 295L259 295L259.5 295L260 295L260.5 295L261 295L261.5 295L262 295L262.5 295L263 295L263.5 295L264 295L264.5 295L265 295L265.5 295L266 295L266.5 295L267 295L267.5 295L268 295L268.5 295L269 295L269.5 295L270 295L270.5 295L271 295L271.5 295L272 295L272.5 295L273 295L273.5 295L274 295L274.5 295L275 295L275.5 295L276 295L276.5 295L277 295L277.5 295L278 295L278.5 295L279 295L279.5 295L280 295L280 295Z" fill="#93afc6"/>
<path d="M202 295L202.5 295L203 295L203.5 295L204 295L204.5 295L205 295L205.5 295L206 295L206.5 295L207 295L207.5 295L208 295L208.5 295L209 295L209.5 295L210 295L210.5 295L211 295L211.5 295L212 295L212.5 295L213 295L213.5 295L214 295L214.5 295L215 295L215.5 295L216 295L216.5 295L217 295L217.5 295L218 295L218.5 295L219 295L219.5 294.99L220 294.95L220.5 294.85L221 294.6L221.5 294.13L222 293.4L222.5 292.53L223 291.79L223.5 291.5L224 291.79L224.5 292.53L225 293.4L225.5 294.13L226 294.6L226.5 294.85L227 294.95L227.5 294.99L228 295L228.5 295L229 295L229.5 295L230 295L230.5 295L231 295L231.5 295L232 295L232.5 294.99L233 294.98L233.5 294.96L234 294.9L234.5 294.75L235 294.44L235.5 293.83L236 292.68L236.5 290.7L237 287.5L237.5 282.72L238 276.09L238.5 267.66L239 257.87L239.5 247.62L240 238.2L240.5 231.04L241 227.34L241.5 227.76L242 232.23L242.5 239.95L243 249.65L243.5 259.9L244 269.48L244.5 277.57L245 283.82L245.5 288.26L246 291.18L246.5 292.97L247 293.99L247.5 294.52L248 294.79L248.5 294.91L249 294.97L249.5 294.99L250 295L250.5 295L251 295L251.5 295L252 295L252.5 295L253 295L253.5 295L254 295L254.5 295L255 295L255.5 295L256 295L256.5 295L257 295L257.5 295L258 295L258.5 295L259 295L259.5 295L260 295L260.5 295L261 295L261.5 295L262 295L262.5 295L263 295L263.5 295L264 295L264.5 295L265 295L265.5 295L266 295L266.5 295L267 295L267.5 295L268 295L268.5 295L269 295L269.5 295L270 295L270.5 295L271 295L271.5 295L272 295L272.5 295L273 295L273.5 295L274 295L274.5 295L275 295L275.5 295L276 295L276.5 295L277 295L277.5 295L278 295L278.5 295L279 295L279.5 295L280 295" fill="none" stroke="#ec6868" stroke-width="0.75"/>
<path d="M202 295L202.5 295L203 295L203.5 295L204 295L204.5 295L205 295L205.5 295L206 295L206.5 295L207 295L207.5 295L208 295L208.5 295L209 295L209.5 295L210 295L210.5 295L211 295L211.5 295L212 295L212.5 295L213 295L213.5 295L214 295L214.5 295L215 295L215.5 295L216 295L216.5 295L217 295L217.5 295L218 295L218.5 295L219 295L219.5 295L220 295L220.5 295L221 295L221.5 295L222 295L222.5 295L223 295L223.5 295L224 295L224.5 295L225 295L225.5 295L226 295L226.5 295L227 295L227.5 295L228 295L228.5 295L229 295L229.5 295L230 295L230.5 295L231 294.99L231.5 294.97L232 294.93L232.5 294.82L233 294.58L233.5 294.1L234 293.17L234.5 291.52L235 288.78L235.5 284.54L236 278.5L236.5 270.53L237 260.93L237.5 250.42L238 240.21L238.5 231.74L239 226.39L239.5 225.08L240 227.8L240.5 233.97L241 242.63L241.5 252.54L242 262.47L242.5 271.45L243 278.9L243.5 284.59L244 288.64L244.5 291.33L245 293L245.5 293.97L246 294.5L246.5 294.77L247 294.9L247.5 294.96L248 294.98L248.5 294.99L249 295L249.5 295L250 295L250.5 295L251 295L251.5 295L252 295L252.5 295L253 295L253.5 295L254 295L254.5 295L255 295L255.5 295L256 295L256.5 295L257 295L257.5 295L258 295L258.5 295L259 295L259.5 295L260 295L260.5 295L261 295L261.5 295L262 295L262.5 295L263 295L263.5 295L264 295L264.5 295L265 295L265.5 295L266 295L266.5 295L267 295L267.5 295L268 295L268.5 295L269 295L269.5 295L270 295L270.5 295L271 295L271.5 295L272 295L272.5 295L273 295L273.5 295L274 295L274.5 295L275 295L275.5 295L276 295L276.5 295L277 295L277.5 295L278 295L278.5 295L279 295L279.5 295L280 295" fill="none" stroke="#36d0ec" stroke-width="0.75"/>
<text x="243" y="213.09" font-size="13.3" text-anchor="middle" font-weight="bold" fill="#000">Naïve B</text>
<text x="204" y="226.85" font-size="8.2" text-anchor="start" font-weight="bold" fill="#ec5555">27257</text>
<text x="280.3" y="226.85" font-size="8.2" text-anchor="end" font-weight="bold" fill="#4646e8">21080</text>
<rect x="294.5" y="217.5" width="78" height="78" fill="#fff" stroke="#7a7a7a" stroke-width="0.9"/>
<line x1="292.6" y1="288.5" x2="294" y2="288.5" stroke="#777" stroke-width="0.5"/>
<line x1="292.6" y1="281.5" x2="294" y2="281.5" stroke="#777" stroke-width="0.5"/>
<line x1="292.6" y1="275.5" x2="294" y2="275.5" stroke="#777" stroke-width="0.5"/>
<line x1="292.6" y1="268.5" x2="294" y2="268.5" stroke="#777" stroke-width="0.5"/>
<line x1="292.6" y1="262.5" x2="294" y2="262.5" stroke="#777" stroke-width="0.5"/>
<line x1="292.6" y1="255.5" x2="294" y2="255.5" stroke="#777" stroke-width="0.5"/>
<line x1="292.6" y1="248.5" x2="294" y2="248.5" stroke="#777" stroke-width="0.5"/>
<line x1="292.6" y1="242.5" x2="294" y2="242.5" stroke="#777" stroke-width="0.5"/>
<line x1="292.6" y1="235.5" x2="294" y2="235.5" stroke="#777" stroke-width="0.5"/>
<line x1="292.6" y1="229.5" x2="294" y2="229.5" stroke="#777" stroke-width="0.5"/>
<line x1="302.5" y1="295" x2="302.5" y2="296.3" stroke="#777" stroke-width="0.5"/>
<line x1="309.5" y1="295" x2="309.5" y2="296.3" stroke="#777" stroke-width="0.5"/>
<line x1="316.5" y1="295" x2="316.5" y2="296.3" stroke="#777" stroke-width="0.5"/>
<line x1="322.5" y1="295" x2="322.5" y2="296.3" stroke="#777" stroke-width="0.5"/>
<line x1="329.5" y1="295" x2="329.5" y2="296.3" stroke="#777" stroke-width="0.5"/>
<line x1="336.5" y1="295" x2="336.5" y2="296.3" stroke="#777" stroke-width="0.5"/>
<line x1="342.5" y1="295" x2="342.5" y2="296.3" stroke="#777" stroke-width="0.5"/>
<line x1="349.5" y1="295" x2="349.5" y2="296.3" stroke="#777" stroke-width="0.5"/>
<line x1="356.5" y1="295" x2="356.5" y2="296.3" stroke="#777" stroke-width="0.5"/>
<line x1="363.5" y1="295" x2="363.5" y2="296.3" stroke="#777" stroke-width="0.5"/>
<line x1="369.5" y1="295" x2="369.5" y2="296.3" stroke="#777" stroke-width="0.5"/>
<path d="M294 295L294 295L294.5 295L295 295L295.5 295L296 295L296.5 294.99L297 294.99L297.5 294.97L298 294.95L298.5 294.92L299 294.86L299.5 294.76L300 294.61L300.5 294.37L301 294.02L301.5 293.5L302 292.77L302.5 291.76L303 290.4L303.5 288.64L304 286.41L304.5 283.68L305 280.45L305.5 276.73L306 272.63L306.5 268.25L307 263.78L307.5 259.4L308 255.33L308.5 251.74L309 248.77L309.5 246.46L310 244.78L310.5 243.74L311 243.26L311.5 243.24L312 243.66L312.5 244.6L313 246.26L313.5 248.86L314 252.53L314.5 257.23L315 262.74L315.5 268.65L316 274.5L316.5 279.83L317 284.35L317.5 287.91L318 290.52L318.5 292.32L319 293.47L319.5 294.17L320 294.57L320.5 294.79L321 294.9L321.5 294.95L322 294.98L322.5 294.99L323 295L323.5 295L324 295L324.5 295L325 295L325.5 295L326 295L326.5 295L327 295L327.5 295L328 295L328.5 295L329 295L329.5 295L330 295L330.5 295L331 295L331.5 295L332 295L332.5 295L333 295L333.5 295L334 295L334.5 295L335 295L335.5 295L336 295L336.5 295L337 295L337.5 295L338 295L338.5 295L339 295L339.5 295L340 295L340.5 295L341 295L341.5 295L342 295L342.5 295L343 295L343.5 295L344 295L344.5 295L345 295L345.5 295L346 295L346.5 295L347 295L347.5 295L348 295L348.5 295L349 295L349.5 295L350 295L350.5 295L351 295L351.5 295L352 295L352.5 295L353 295L353.5 295L354 295L354.5 295L355 295L355.5 295L356 295L356.5 295L357 295L357.5 295L358 295L358.5 295L359 295L359.5 295L360 295L360.5 295L361 295L361.5 295L362 295L362.5 295L363 295L363.5 295L364 295L364.5 295L365 295L365.5 295L366 295L366.5 295L367 295L367.5 295L368 295L368.5 295L369 295L369.5 295L370 295L370.5 295L371 295L371.5 295L372 295L372 295Z" fill="#f6a4a4"/>
<path d="M294 295L294 295L294.5 295L295 294.99L295.5 294.99L296 294.99L296.5 294.99L297 294.98L297.5 294.98L298 294.97L298.5 294.96L299 294.95L299.5 294.94L300 294.93L300.5 294.91L301 294.89L301.5 294.87L302 294.84L302.5 294.8L303 294.76L303.5 294.71L304 294.66L304.5 294.6L305 294.53L305.5 294.46L306 294.38L306.5 294.29L307 294.19L307.5 294.08L308 293.97L308.5 293.86L309 293.73L309.5 293.61L310 293.48L310.5 293.36L311 293.23L311.5 293.11L312 293L312.5 292.89L313 292.79L313.5 292.71L314 292.63L314.5 292.57L315 292.51L315.5 292.46L316 292.41L316.5 292.33L317 292.2L317.5 291.96L318 291.56L318.5 290.88L319 289.8L319.5 288.17L320 285.83L320.5 282.61L321 278.43L321.5 273.23L322 267.12L322.5 260.33L323 253.24L323.5 246.38L324 240.34L324.5 235.69L325 232.92L325.5 232.33L326 234.01L326.5 237.77L327 243.23L327.5 249.86L328 257.06L328.5 264.26L329 270.99L329.5 276.92L330 281.87L330.5 285.81L331 288.79L331.5 290.96L332 292.46L332.5 293.45L333 294.09L333.5 294.48L334 294.71L334.5 294.84L335 294.92L335.5 294.95L336 294.98L336.5 294.99L337 294.99L337.5 294.99L338 295L338.5 295L339 295L339.5 295L340 295L340.5 295L341 295L341.5 295L342 295L342.5 295L343 295L343.5 295L344 295L344.5 295L345 295L345.5 295L346 295L346.5 295L347 295L347.5 295L348 295L348.5 295L349 295L349.5 295L350 295L350.5 295L351 295L351.5 295L352 295L352.5 295L353 295L353.5 295L354 295L354.5 295L355 295L355.5 295L356 295L356.5 295L357 295L357.5 295L358 295L358.5 295L359 295L359.5 295L360 295L360.5 295L361 295L361.5 295L362 295L362.5 295L363 295L363.5 295L364 295L364.5 295L365 295L365.5 295L366 295L366.5 295L367 295L367.5 295L368 295L368.5 295L369 295L369.5 295L370 295L370.5 295L371 295L371.5 295L372 295L372 295Z" fill="#9ae9f6"/>
<path d="M294 295L294 295L294.5 295L295 295L295.5 295L296 295L296.5 294.99L297 294.99L297.5 294.98L298 294.97L298.5 294.96L299 294.95L299.5 294.94L300 294.93L300.5 294.91L301 294.89L301.5 294.87L302 294.84L302.5 294.8L303 294.76L303.5 294.71L304 294.66L304.5 294.6L305 294.53L305.5 294.46L306 294.38L306.5 294.29L307 294.19L307.5 294.08L308 293.97L308.5 293.86L309 293.73L309.5 293.61L310 293.48L310.5 293.36L311 293.23L311.5 293.11L312 293L312.5 292.89L313 292.79L313.5 292.71L314 292.63L314.5 292.57L315 292.51L315.5 292.46L316 292.41L316.5 292.33L317 292.2L317.5 291.96L318 291.56L318.5 292.32L319 293.47L319.5 294.17L320 294.57L320.5 294.79L321 294.9L321.5 294.95L322 294.98L322.5 294.99L323 295L323.5 295L324 295L324.5 295L325 295L325.5 295L326 295L326.5 295L327 295L327.5 295L328 295L328.5 295L329 295L329.5 295L330 295L330.5 295L331 295L331.5 295L332 295L332.5 295L333 295L333.5 295L334 295L334.5 295L335 295L335.5 295L336 295L336.5 295L337 295L337.5 295L338 295L338.5 295L339 295L339.5 295L340 295L340.5 295L341 295L341.5 295L342 295L342.5 295L343 295L343.5 295L344 295L344.5 295L345 295L345.5 295L346 295L346.5 295L347 295L347.5 295L348 295L348.5 295L349 295L349.5 295L350 295L350.5 295L351 295L351.5 295L352 295L352.5 295L353 295L353.5 295L354 295L354.5 295L355 295L355.5 295L356 295L356.5 295L357 295L357.5 295L358 295L358.5 295L359 295L359.5 295L360 295L360.5 295L361 295L361.5 295L362 295L362.5 295L363 295L363.5 295L364 295L364.5 295L365 295L365.5 295L366 295L366.5 295L367 295L367.5 295L368 295L368.5 295L369 295L369.5 295L370 295L370.5 295L371 295L371.5 295L372 295L372 295Z" fill="#93afc6"/>
<path d="M294 295L294.5 295L295 295L295.5 295L296 295L296.5 294.99L297 294.99L297.5 294.97L298 294.95L298.5 294.92L299 294.86L299.5 294.76L300 294.61L300.5 294.37L301 294.02L301.5 293.5L302 292.77L302.5 291.76L303 290.4L303.5 288.64L304 286.41L304.5 283.68L305 280.45L305.5 276.73L306 272.63L306.5 268.25L307 263.78L307.5 259.4L308 255.33L308.5 251.74L309 248.77L309.5 246.46L310 244.78L310.5 243.74L311 243.26L311.5 243.24L312 243.66L312.5 244.6L313 246.26L313.5 248.86L314 252.53L314.5 257.23L315 262.74L315.5 268.65L316 274.5L316.5 279.83L317 284.35L317.5 287.91L318 290.52L318.5 292.32L319 293.47L319.5 294.17L320 294.57L320.5 294.79L321 294.9L321.5 294.95L322 294.98L322.5 294.99L323 295L323.5 295L324 295L324.5 295L325 295L325.5 295L326 295L326.5 295L327 295L327.5 295L328 295L328.5 295L329 295L329.5 295L330 295L330.5 295L331 295L331.5 295L332 295L332.5 295L333 295L333.5 295L334 295L334.5 295L335 295L335.5 295L336 295L336.5 295L337 295L337.5 295L338 295L338.5 295L339 295L339.5 295L340 295L340.5 295L341 295L341.5 295L342 295L342.5 295L343 295L343.5 295L344 295L344.5 295L345 295L345.5 295L346 295L346.5 295L347 295L347.5 295L348 295L348.5 295L349 295L349.5 295L350 295L350.5 295L351 295L351.5 295L352 295L352.5 295L353 295L353.5 295L354 295L354.5 295L355 295L355.5 295L356 295L356.5 295L357 295L357.5 295L358 295L358.5 295L359 295L359.5 295L360 295L360.5 295L361 295L361.5 295L362 295L362.5 295L363 295L363.5 295L364 295L364.5 295L365 295L365.5 295L366 295L366.5 295L367 295L367.5 295L368 295L368.5 295L369 295L369.5 295L370 295L370.5 295L371 295L371.5 295L372 295" fill="none" stroke="#ec6868" stroke-width="0.75"/>
<path d="M294 295L294.5 295L295 294.99L295.5 294.99L296 294.99L296.5 294.99L297 294.98L297.5 294.98L298 294.97L298.5 294.96L299 294.95L299.5 294.94L300 294.93L300.5 294.91L301 294.89L301.5 294.87L302 294.84L302.5 294.8L303 294.76L303.5 294.71L304 294.66L304.5 294.6L305 294.53L305.5 294.46L306 294.38L306.5 294.29L307 294.19L307.5 294.08L308 293.97L308.5 293.86L309 293.73L309.5 293.61L310 293.48L310.5 293.36L311 293.23L311.5 293.11L312 293L312.5 292.89L313 292.79L313.5 292.71L314 292.63L314.5 292.57L315 292.51L315.5 292.46L316 292.41L316.5 292.33L317 292.2L317.5 291.96L318 291.56L318.5 290.88L319 289.8L319.5 288.17L320 285.83L320.5 282.61L321 278.43L321.5 273.23L322 267.12L322.5 260.33L323 253.24L323.5 246.38L324 240.34L324.5 235.69L325 232.92L325.5 232.33L326 234.01L326.5 237.77L327 243.23L327.5 249.86L328 257.06L328.5 264.26L329 270.99L329.5 276.92L330 281.87L330.5 285.81L331 288.79L331.5 290.96L332 292.46L332.5 293.45L333 294.09L333.5 294.48L334 294.71L334.5 294.84L335 294.92L335.5 294.95L336 294.98L336.5 294.99L337 294.99L337.5 294.99L338 295L338.5 295L339 295L339.5 295L340 295L340.5 295L341 295L341.5 295L342 295L342.5 295L343 295L343.5 295L344 295L344.5 295L345 295L345.5 295L346 295L346.5 295L347 295L347.5 295L348 295L348.5 295L349 295L349.5 295L350 295L350.5 295L351 295L351.5 295L352 295L352.5 295L353 295L353.5 295L354 295L354.5 295L355 295L355.5 295L356 295L356.5 295L357 295L357.5 295L358 295L358.5 295L359 295L359.5 295L360 295L360.5 295L361 295L361.5 295L362 295L362.5 295L363 295L363.5 295L364 295L364.5 295L365 295L365.5 295L366 295L366.5 295L367 295L367.5 295L368 295L368.5 295L369 295L369.5 295L370 295L370.5 295L371 295L371.5 295L372 295" fill="none" stroke="#36d0ec" stroke-width="0.75"/>
<text x="332.5" y="213.09" font-size="13.3" text-anchor="middle" font-weight="bold" fill="#000">PBC</text>
<text x="296" y="226.85" font-size="8.2" text-anchor="start" font-weight="bold" fill="#ec5555">3195</text>
<text x="372.3" y="226.85" font-size="8.2" text-anchor="end" font-weight="bold" fill="#4646e8">10478</text>
<rect x="385.5" y="217.5" width="78" height="78" fill="#fff" stroke="#7a7a7a" stroke-width="0.9"/>
<line x1="384.4" y1="288.5" x2="385.8" y2="288.5" stroke="#777" stroke-width="0.5"/>
<line x1="384.4" y1="281.5" x2="385.8" y2="281.5" stroke="#777" stroke-width="0.5"/>
<line x1="384.4" y1="275.5" x2="385.8" y2="275.5" stroke="#777" stroke-width="0.5"/>
<line x1="384.4" y1="268.5" x2="385.8" y2="268.5" stroke="#777" stroke-width="0.5"/>
<line x1="384.4" y1="262.5" x2="385.8" y2="262.5" stroke="#777" stroke-width="0.5"/>
<line x1="384.4" y1="255.5" x2="385.8" y2="255.5" stroke="#777" stroke-width="0.5"/>
<line x1="384.4" y1="248.5" x2="385.8" y2="248.5" stroke="#777" stroke-width="0.5"/>
<line x1="384.4" y1="242.5" x2="385.8" y2="242.5" stroke="#777" stroke-width="0.5"/>
<line x1="384.4" y1="235.5" x2="385.8" y2="235.5" stroke="#777" stroke-width="0.5"/>
<line x1="384.4" y1="229.5" x2="385.8" y2="229.5" stroke="#777" stroke-width="0.5"/>
<line x1="394.5" y1="295" x2="394.5" y2="296.3" stroke="#777" stroke-width="0.5"/>
<line x1="401.5" y1="295" x2="401.5" y2="296.3" stroke="#777" stroke-width="0.5"/>
<line x1="407.5" y1="295" x2="407.5" y2="296.3" stroke="#777" stroke-width="0.5"/>
<line x1="414.5" y1="295" x2="414.5" y2="296.3" stroke="#777" stroke-width="0.5"/>
<line x1="421.5" y1="295" x2="421.5" y2="296.3" stroke="#777" stroke-width="0.5"/>
<line x1="428.5" y1="295" x2="428.5" y2="296.3" stroke="#777" stroke-width="0.5"/>
<line x1="434.5" y1="295" x2="434.5" y2="296.3" stroke="#777" stroke-width="0.5"/>
<line x1="441.5" y1="295" x2="441.5" y2="296.3" stroke="#777" stroke-width="0.5"/>
<line x1="448.5" y1="295" x2="448.5" y2="296.3" stroke="#777" stroke-width="0.5"/>
<line x1="454.5" y1="295" x2="454.5" y2="296.3" stroke="#777" stroke-width="0.5"/>
<line x1="461.5" y1="295" x2="461.5" y2="296.3" stroke="#777" stroke-width="0.5"/>
<path d="M385.8 295L385.8 295L386.3 295L386.8 295L387.3 295L387.8 295L388.3 295L388.8 295L389.3 295L389.8 295L390.3 295L390.8 295L391.3 295L391.8 295L392.3 295L392.8 295L393.3 295L393.8 295L394.3 295L394.8 295L395.3 295L395.8 295L396.3 295L396.8 295L397.3 295L397.8 295L398.3 295L398.8 295L399.3 295L399.8 295L400.3 295L400.8 295L401.3 295L401.8 295L402.3 295L402.8 295L403.3 295L403.8 295L404.3 295L404.8 295L405.3 295L405.8 295L406.3 295L406.8 295L407.3 294.99L407.8 294.97L408.3 294.94L408.8 294.88L409.3 294.75L409.8 294.5L410.3 294.07L410.8 293.33L411.3 292.12L411.8 290.26L412.3 287.52L412.8 283.71L413.3 278.67L413.8 272.38L414.3 265.01L414.8 256.93L415.3 248.71L415.8 241.12L416.3 234.95L416.8 230.91L417.3 229.5L417.8 230.7L418.3 234.17L418.8 239.54L419.3 246.28L419.8 253.75L420.3 261.34L420.8 268.53L421.3 274.94L421.8 280.35L422.3 284.69L422.8 288.01L423.3 290.43L423.8 292.12L424.3 293.25L424.8 293.98L425.3 294.42L425.8 294.69L426.3 294.84L426.8 294.92L427.3 294.96L427.8 294.98L428.3 294.99L428.8 295L429.3 295L429.8 295L430.3 295L430.8 295L431.3 295L431.8 295L432.3 295L432.8 295L433.3 295L433.8 295L434.3 295L434.8 295L435.3 295L435.8 295L436.3 295L436.8 295L437.3 295L437.8 295L438.3 295L438.8 295L439.3 295L439.8 295L440.3 295L440.8 295L441.3 295L441.8 295L442.3 295L442.8 295L443.3 295L443.8 295L444.3 295L444.8 295L445.3 295L445.8 295L446.3 295L446.8 295L447.3 295L447.8 295L448.3 295L448.8 295L449.3 295L449.8 295L450.3 295L450.8 295L451.3 295L451.8 295L452.3 295L452.8 295L453.3 295L453.8 295L454.3 295L454.8 295L455.3 295L455.8 295L456.3 295L456.8 295L457.3 295L457.8 295L458.3 295L458.8 295L459.3 295L459.8 295L460.3 295L460.8 295L461.3 295L461.8 295L462.3 295L462.8 295L463.3 295L463.8 295L463.8 295Z" fill="#f6a4a4"/>
<path d="M385.8 295L385.8 295L386.3 295L386.8 295L387.3 295L387.8 295L388.3 295L388.8 295L389.3 295L389.8 295L390.3 295L390.8 295L391.3 295L391.8 295L392.3 295L392.8 295L393.3 295L393.8 295L394.3 295L394.8 295L395.3 295L395.8 295L396.3 295L396.8 295L397.3 295L397.8 295L398.3 295L398.8 295L399.3 295L399.8 295L400.3 295L400.8 295L401.3 295L401.8 295L402.3 295L402.8 295L403.3 295L403.8 295L404.3 295L404.8 295L405.3 295L405.8 295L406.3 295L406.8 295L407.3 295L407.8 295L408.3 295L408.8 294.99L409.3 294.98L409.8 294.96L410.3 294.92L410.8 294.83L411.3 294.65L411.8 294.33L412.3 293.76L412.8 292.82L413.3 291.31L413.8 289.02L414.3 285.73L414.8 281.24L415.3 275.44L415.8 268.38L416.3 260.32L416.8 251.72L417.3 243.29L417.8 235.85L418.3 230.2L418.8 227.03L419.3 226.7L419.8 228.94L420.3 233.42L420.8 239.68L421.3 247.11L421.8 255.05L422.3 262.88L422.8 270.12L423.3 276.42L423.8 281.63L424.3 285.73L424.8 288.81L425.3 291.01L425.8 292.52L426.3 293.52L426.8 294.15L427.3 294.53L427.8 294.75L428.3 294.87L428.8 294.93L429.3 294.97L429.8 294.99L430.3 294.99L430.8 295L431.3 295L431.8 295L432.3 295L432.8 295L433.3 295L433.8 295L434.3 295L434.8 295L435.3 295L435.8 295L436.3 295L436.8 295L437.3 295L437.8 295L438.3 295L438.8 295L439.3 295L439.8 295L440.3 295L440.8 295L441.3 295L441.8 295L442.3 295L442.8 295L443.3 295L443.8 295L444.3 295L444.8 295L445.3 295L445.8 295L446.3 295L446.8 295L447.3 295L447.8 295L448.3 295L448.8 295L449.3 295L449.8 295L450.3 295L450.8 295L451.3 295L451.8 295L452.3 295L452.8 295L453.3 295L453.8 295L454.3 295L454.8 295L455.3 295L455.8 295L456.3 295L456.8 295L457.3 295L457.8 295L458.3 295L458.8 295L459.3 295L459.8 295L460.3 295L460.8 295L461.3 295L461.8 295L462.3 295L462.8 295L463.3 295L463.8 295L463.8 295Z" fill="#9ae9f6"/>
<path d="M385.8 295L385.8 295L386.3 295L386.8 295L387.3 295L387.8 295L388.3 295L388.8 295L389.3 295L389.8 295L390.3 295L390.8 295L391.3 295L391.8 295L392.3 295L392.8 295L393.3 295L393.8 295L394.3 295L394.8 295L395.3 295L395.8 295L396.3 295L396.8 295L397.3 295L397.8 295L398.3 295L398.8 295L399.3 295L399.8 295L400.3 295L400.8 295L401.3 295L401.8 295L402.3 295L402.8 295L403.3 295L403.8 295L404.3 295L404.8 295L405.3 295L405.8 295L406.3 295L406.8 295L407.3 295L407.8 295L408.3 295L408.8 294.99L409.3 294.98L409.8 294.96L410.3 294.92L410.8 294.83L411.3 294.65L411.8 294.33L412.3 293.76L412.8 292.82L413.3 291.31L413.8 289.02L414.3 285.73L414.8 281.24L415.3 275.44L415.8 268.38L416.3 260.32L416.8 251.72L417.3 243.29L417.8 235.85L418.3 234.17L418.8 239.54L419.3 246.28L419.8 253.75L420.3 261.34L420.8 268.53L421.3 274.94L421.8 280.35L422.3 284.69L422.8 288.01L423.3 290.43L423.8 292.12L424.3 293.25L424.8 293.98L425.3 294.42L425.8 294.69L426.3 294.84L426.8 294.92L427.3 294.96L427.8 294.98L428.3 294.99L428.8 295L429.3 295L429.8 295L430.3 295L430.8 295L431.3 295L431.8 295L432.3 295L432.8 295L433.3 295L433.8 295L434.3 295L434.8 295L435.3 295L435.8 295L436.3 295L436.8 295L437.3 295L437.8 295L438.3 295L438.8 295L439.3 295L439.8 295L440.3 295L440.8 295L441.3 295L441.8 295L442.3 295L442.8 295L443.3 295L443.8 295L444.3 295L444.8 295L445.3 295L445.8 295L446.3 295L446.8 295L447.3 295L447.8 295L448.3 295L448.8 295L449.3 295L449.8 295L450.3 295L450.8 295L451.3 295L451.8 295L452.3 295L452.8 295L453.3 295L453.8 295L454.3 295L454.8 295L455.3 295L455.8 295L456.3 295L456.8 295L457.3 295L457.8 295L458.3 295L458.8 295L459.3 295L459.8 295L460.3 295L460.8 295L461.3 295L461.8 295L462.3 295L462.8 295L463.3 295L463.8 295L463.8 295Z" fill="#93afc6"/>
<path d="M385.8 295L386.3 295L386.8 295L387.3 295L387.8 295L388.3 295L388.8 295L389.3 295L389.8 295L390.3 295L390.8 295L391.3 295L391.8 295L392.3 295L392.8 295L393.3 295L393.8 295L394.3 295L394.8 295L395.3 295L395.8 295L396.3 295L396.8 295L397.3 295L397.8 295L398.3 295L398.8 295L399.3 295L399.8 295L400.3 295L400.8 295L401.3 295L401.8 295L402.3 295L402.8 295L403.3 295L403.8 295L404.3 295L404.8 295L405.3 295L405.8 295L406.3 295L406.8 295L407.3 294.99L407.8 294.97L408.3 294.94L408.8 294.88L409.3 294.75L409.8 294.5L410.3 294.07L410.8 293.33L411.3 292.12L411.8 290.26L412.3 287.52L412.8 283.71L413.3 278.67L413.8 272.38L414.3 265.01L414.8 256.93L415.3 248.71L415.8 241.12L416.3 234.95L416.8 230.91L417.3 229.5L417.8 230.7L418.3 234.17L418.8 239.54L419.3 246.28L419.8 253.75L420.3 261.34L420.8 268.53L421.3 274.94L421.8 280.35L422.3 284.69L422.8 288.01L423.3 290.43L423.8 292.12L424.3 293.25L424.8 293.98L425.3 294.42L425.8 294.69L426.3 294.84L426.8 294.92L427.3 294.96L427.8 294.98L428.3 294.99L428.8 295L429.3 295L429.8 295L430.3 295L430.8 295L431.3 295L431.8 295L432.3 295L432.8 295L433.3 295L433.8 295L434.3 295L434.8 295L435.3 295L435.8 295L436.3 295L436.8 295L437.3 295L437.8 295L438.3 295L438.8 295L439.3 295L439.8 295L440.3 295L440.8 295L441.3 295L441.8 295L442.3 295L442.8 295L443.3 295L443.8 295L444.3 295L444.8 295L445.3 295L445.8 295L446.3 295L446.8 295L447.3 295L447.8 295L448.3 295L448.8 295L449.3 295L449.8 295L450.3 295L450.8 295L451.3 295L451.8 295L452.3 295L452.8 295L453.3 295L453.8 295L454.3 295L454.8 295L455.3 295L455.8 295L456.3 295L456.8 295L457.3 295L457.8 295L458.3 295L458.8 295L459.3 295L459.8 295L460.3 295L460.8 295L461.3 295L461.8 295L462.3 295L462.8 295L463.3 295L463.8 295" fill="none" stroke="#ec6868" stroke-width="0.75"/>
<path d="M385.8 295L386.3 295L386.8 295L387.3 295L387.8 295L388.3 295L388.8 295L389.3 295L389.8 295L390.3 295L390.8 295L391.3 295L391.8 295L392.3 295L392.8 295L393.3 295L393.8 295L394.3 295L394.8 295L395.3 295L395.8 295L396.3 295L396.8 295L397.3 295L397.8 295L398.3 295L398.8 295L399.3 295L399.8 295L400.3 295L400.8 295L401.3 295L401.8 295L402.3 295L402.8 295L403.3 295L403.8 295L404.3 295L404.8 295L405.3 295L405.8 295L406.3 295L406.8 295L407.3 295L407.8 295L408.3 295L408.8 294.99L409.3 294.98L409.8 294.96L410.3 294.92L410.8 294.83L411.3 294.65L411.8 294.33L412.3 293.76L412.8 292.82L413.3 291.31L413.8 289.02L414.3 285.73L414.8 281.24L415.3 275.44L415.8 268.38L416.3 260.32L416.8 251.72L417.3 243.29L417.8 235.85L418.3 230.2L418.8 227.03L419.3 226.7L419.8 228.94L420.3 233.42L420.8 239.68L421.3 247.11L421.8 255.05L422.3 262.88L422.8 270.12L423.3 276.42L423.8 281.63L424.3 285.73L424.8 288.81L425.3 291.01L425.8 292.52L426.3 293.52L426.8 294.15L427.3 294.53L427.8 294.75L428.3 294.87L428.8 294.93L429.3 294.97L429.8 294.99L430.3 294.99L430.8 295L431.3 295L431.8 295L432.3 295L432.8 295L433.3 295L433.8 295L434.3 295L434.8 295L435.3 295L435.8 295L436.3 295L436.8 295L437.3 295L437.8 295L438.3 295L438.8 295L439.3 295L439.8 295L440.3 295L440.8 295L441.3 295L441.8 295L442.3 295L442.8 295L443.3 295L443.8 295L444.3 295L444.8 295L445.3 295L445.8 295L446.3 295L446.8 295L447.3 295L447.8 295L448.3 295L448.8 295L449.3 295L449.8 295L450.3 295L450.8 295L451.3 295L451.8 295L452.3 295L452.8 295L453.3 295L453.8 295L454.3 295L454.8 295L455.3 295L455.8 295L456.3 295L456.8 295L457.3 295L457.8 295L458.3 295L458.8 295L459.3 295L459.8 295L460.3 295L460.8 295L461.3 295L461.8 295L462.3 295L462.8 295L463.3 295L463.8 295" fill="none" stroke="#36d0ec" stroke-width="0.75"/>
<text x="418.3" y="213.09" font-size="13.3" text-anchor="middle" font-weight="bold" fill="#000">Switched MBC</text>
<text x="387.8" y="226.85" font-size="8.2" text-anchor="start" font-weight="bold" fill="#ec5555">8596</text>
<text x="464.1" y="226.85" font-size="8.2" text-anchor="end" font-weight="bold" fill="#4646e8">9909</text>
<rect x="477.5" y="217.5" width="78" height="78" fill="#fff" stroke="#7a7a7a" stroke-width="0.9"/>
<line x1="476.1" y1="288.5" x2="477.5" y2="288.5" stroke="#777" stroke-width="0.5"/>
<line x1="476.1" y1="281.5" x2="477.5" y2="281.5" stroke="#777" stroke-width="0.5"/>
<line x1="476.1" y1="275.5" x2="477.5" y2="275.5" stroke="#777" stroke-width="0.5"/>
<line x1="476.1" y1="268.5" x2="477.5" y2="268.5" stroke="#777" stroke-width="0.5"/>
<line x1="476.1" y1="262.5" x2="477.5" y2="262.5" stroke="#777" stroke-width="0.5"/>
<line x1="476.1" y1="255.5" x2="477.5" y2="255.5" stroke="#777" stroke-width="0.5"/>
<line x1="476.1" y1="248.5" x2="477.5" y2="248.5" stroke="#777" stroke-width="0.5"/>
<line x1="476.1" y1="242.5" x2="477.5" y2="242.5" stroke="#777" stroke-width="0.5"/>
<line x1="476.1" y1="235.5" x2="477.5" y2="235.5" stroke="#777" stroke-width="0.5"/>
<line x1="476.1" y1="229.5" x2="477.5" y2="229.5" stroke="#777" stroke-width="0.5"/>
<line x1="486.5" y1="295" x2="486.5" y2="296.3" stroke="#777" stroke-width="0.5"/>
<line x1="492.5" y1="295" x2="492.5" y2="296.3" stroke="#777" stroke-width="0.5"/>
<line x1="499.5" y1="295" x2="499.5" y2="296.3" stroke="#777" stroke-width="0.5"/>
<line x1="506.5" y1="295" x2="506.5" y2="296.3" stroke="#777" stroke-width="0.5"/>
<line x1="513.5" y1="295" x2="513.5" y2="296.3" stroke="#777" stroke-width="0.5"/>
<line x1="519.5" y1="295" x2="519.5" y2="296.3" stroke="#777" stroke-width="0.5"/>
<line x1="526.5" y1="295" x2="526.5" y2="296.3" stroke="#777" stroke-width="0.5"/>
<line x1="533.5" y1="295" x2="533.5" y2="296.3" stroke="#777" stroke-width="0.5"/>
<line x1="539.5" y1="295" x2="539.5" y2="296.3" stroke="#777" stroke-width="0.5"/>
<line x1="546.5" y1="295" x2="546.5" y2="296.3" stroke="#777" stroke-width="0.5"/>
<line x1="553.5" y1="295" x2="553.5" y2="296.3" stroke="#777" stroke-width="0.5"/>
<path d="M477.5 295L477.5 295L478 295L478.5 295L479 295L479.5 295L480 295L480.5 295L481 295L481.5 295L482 295L482.5 295L483 295L483.5 295L484 295L484.5 295L485 295L485.5 295L486 295L486.5 295L487 295L487.5 295L488 295L488.5 295L489 295L489.5 295L490 295L490.5 295L491 295L491.5 295L492 295L492.5 295L493 295L493.5 295L494 295L494.5 295L495 295L495.5 295L496 295L496.5 295L497 295L497.5 295L498 295L498.5 295L499 295L499.5 295L500 295L500.5 295L501 295L501.5 295L502 295L502.5 295L503 295L503.5 295L504 295L504.5 295L505 295L505.5 295L506 294.99L506.5 294.98L507 294.95L507.5 294.89L508 294.77L508.5 294.55L509 294.16L509.5 293.5L510 292.44L510.5 290.82L511 288.47L511.5 285.22L512 280.98L512.5 275.75L513 269.7L513.5 263.16L514 256.62L514.5 250.71L515 246.06L515.5 243.22L516 242.55L516.5 244.12L517 247.73L517.5 252.96L518 259.2L518.5 265.8L519 272.2L519.5 277.96L520 282.8L520.5 286.64L521 289.51L521.5 291.55L522 292.92L522.5 293.8L523 294.34L523.5 294.65L524 294.82L524.5 294.91L525 294.96L525.5 294.98L526 294.99L526.5 295L527 295L527.5 295L528 295L528.5 295L529 295L529.5 295L530 295L530.5 295L531 295L531.5 295L532 295L532.5 295L533 295L533.5 295L534 295L534.5 295L535 295L535.5 295L536 295L536.5 295L537 295L537.5 295L538 295L538.5 295L539 295L539.5 295L540 295L540.5 295L541 295L541.5 295L542 295L542.5 295L543 295L543.5 295L544 295L544.5 295L545 295L545.5 295L546 295L546.5 295L547 295L547.5 295L548 295L548.5 295L549 295L549.5 295L550 295L550.5 295L551 295L551.5 295L552 295L552.5 295L553 295L553.5 295L554 295L554.5 295L555 295L555.5 295L555.5 295Z" fill="#f6a4a4"/>
<path d="M477.5 295L477.5 295L478 295L478.5 295L479 295L479.5 295L480 295L480.5 295L481 295L481.5 295L482 295L482.5 295L483 295L483.5 295L484 295L484.5 295L485 295L485.5 295L486 295L486.5 295L487 295L487.5 295L488 295L488.5 295L489 295L489.5 295L490 295L490.5 295L491 295L491.5 295L492 295L492.5 295L493 295L493.5 295L494 295L494.5 295L495 295L495.5 295L496 295L496.5 295L497 295L497.5 295L498 295L498.5 295L499 295L499.5 295L500 295L500.5 295L501 295L501.5 295L502 295L502.5 295L503 295L503.5 295L504 295L504.5 295L505 295L505.5 295L506 295L506.5 294.99L507 294.98L507.5 294.95L508 294.87L508.5 294.7L509 294.34L509.5 293.62L510 292.31L510.5 290.07L511 286.5L511.5 281.25L512 274.09L512.5 265.15L513 254.95L513.5 244.53L514 235.26L514.5 228.56L515 225.59L515.5 226.88L516 232.19L516.5 240.6L517 250.74L517.5 261.17L518 270.71L518.5 278.62L519 284.62L519.5 288.82L520 291.54L520.5 293.18L521 294.1L521.5 294.58L522 294.82L522.5 294.93L523 294.97L523.5 294.99L524 295L524.5 295L525 295L525.5 295L526 295L526.5 295L527 295L527.5 295L528 295L528.5 295L529 295L529.5 295L530 295L530.5 295L531 295L531.5 295L532 295L532.5 295L533 295L533.5 295L534 295L534.5 295L535 295L535.5 295L536 295L536.5 295L537 295L537.5 295L538 295L538.5 295L539 295L539.5 295L540 295L540.5 295L541 295L541.5 295L542 295L542.5 295L543 295L543.5 295L544 295L544.5 295L545 295L545.5 295L546 295L546.5 295L547 295L547.5 295L548 295L548.5 295L549 295L549.5 295L550 295L550.5 295L551 295L551.5 295L552 295L552.5 295L553 295L553.5 295L554 295L554.5 295L555 295L555.5 295L555.5 295Z" fill="#9ae9f6"/>
<path d="M477.5 295L477.5 295L478 295L478.5 295L479 295L479.5 295L480 295L480.5 295L481 295L481.5 295L482 295L482.5 295L483 295L483.5 295L484 295L484.5 295L485 295L485.5 295L486 295L486.5 295L487 295L487.5 295L488 295L488.5 295L489 295L489.5 295L490 295L490.5 295L491 295L491.5 295L492 295L492.5 295L493 295L493.5 295L494 295L494.5 295L495 295L495.5 295L496 295L496.5 295L497 295L497.5 295L498 295L498.5 295L499 295L499.5 295L500 295L500.5 295L501 295L501.5 295L502 295L502.5 295L503 295L503.5 295L504 295L504.5 295L505 295L505.5 295L506 295L506.5 294.99L507 294.98L507.5 294.95L508 294.87L508.5 294.7L509 294.34L509.5 293.62L510 292.44L510.5 290.82L511 288.47L511.5 285.22L512 280.98L512.5 275.75L513 269.7L513.5 263.16L514 256.62L514.5 250.71L515 246.06L515.5 243.22L516 242.55L516.5 244.12L517 250.74L517.5 261.17L518 270.71L518.5 278.62L519 284.62L519.5 288.82L520 291.54L520.5 293.18L521 294.1L521.5 294.58L522 294.82L522.5 294.93L523 294.97L523.5 294.99L524 295L524.5 295L525 295L525.5 295L526 295L526.5 295L527 295L527.5 295L528 295L528.5 295L529 295L529.5 295L530 295L530.5 295L531 295L531.5 295L532 295L532.5 295L533 295L533.5 295L534 295L534.5 295L535 295L535.5 295L536 295L536.5 295L537 295L537.5 295L538 295L538.5 295L539 295L539.5 295L540 295L540.5 295L541 295L541.5 295L542 295L542.5 295L543 295L543.5 295L544 295L544.5 295L545 295L545.5 295L546 295L546.5 295L547 295L547.5 295L548 295L548.5 295L549 295L549.5 295L550 295L550.5 295L551 295L551.5 295L552 295L552.5 295L553 295L553.5 295L554 295L554.5 295L555 295L555.5 295L555.5 295Z" fill="#93afc6"/>
<path d="M477.5 295L478 295L478.5 295L479 295L479.5 295L480 295L480.5 295L481 295L481.5 295L482 295L482.5 295L483 295L483.5 295L484 295L484.5 295L485 295L485.5 295L486 295L486.5 295L487 295L487.5 295L488 295L488.5 295L489 295L489.5 295L490 295L490.5 295L491 295L491.5 295L492 295L492.5 295L493 295L493.5 295L494 295L494.5 295L495 295L495.5 295L496 295L496.5 295L497 295L497.5 295L498 295L498.5 295L499 295L499.5 295L500 295L500.5 295L501 295L501.5 295L502 295L502.5 295L503 295L503.5 295L504 295L504.5 295L505 295L505.5 295L506 294.99L506.5 294.98L507 294.95L507.5 294.89L508 294.77L508.5 294.55L509 294.16L509.5 293.5L510 292.44L510.5 290.82L511 288.47L511.5 285.22L512 280.98L512.5 275.75L513 269.7L513.5 263.16L514 256.62L514.5 250.71L515 246.06L515.5 243.22L516 242.55L516.5 244.12L517 247.73L517.5 252.96L518 259.2L518.5 265.8L519 272.2L519.5 277.96L520 282.8L520.5 286.64L521 289.51L521.5 291.55L522 292.92L522.5 293.8L523 294.34L523.5 294.65L524 294.82L524.5 294.91L525 294.96L525.5 294.98L526 294.99L526.5 295L527 295L527.5 295L528 295L528.5 295L529 295L529.5 295L530 295L530.5 295L531 295L531.5 295L532 295L532.5 295L533 295L533.5 295L534 295L534.5 295L535 295L535.5 295L536 295L536.5 295L537 295L537.5 295L538 295L538.5 295L539 295L539.5 295L540 295L540.5 295L541 295L541.5 295L542 295L542.5 295L543 295L543.5 295L544 295L544.5 295L545 295L545.5 295L546 295L546.5 295L547 295L547.5 295L548 295L548.5 295L549 295L549.5 295L550 295L550.5 295L551 295L551.5 295L552 295L552.5 295L553 295L553.5 295L554 295L554.5 295L555 295L555.5 295" fill="none" stroke="#ec6868" stroke-width="0.75"/>
<path d="M477.5 295L478 295L478.5 295L479 295L479.5 295L480 295L480.5 295L481 295L481.5 295L482 295L482.5 295L483 295L483.5 295L484 295L484.5 295L485 295L485.5 295L486 295L486.5 295L487 295L487.5 295L488 295L488.5 295L489 295L489.5 295L490 295L490.5 295L491 295L491.5 295L492 295L492.5 295L493 295L493.5 295L494 295L494.5 295L495 295L495.5 295L496 295L496.5 295L497 295L497.5 295L498 295L498.5 295L499 295L499.5 295L500 295L500.5 295L501 295L501.5 295L502 295L502.5 295L503 295L503.5 295L504 295L504.5 295L505 295L505.5 295L506 295L506.5 294.99L507 294.98L507.5 294.95L508 294.87L508.5 294.7L509 294.34L509.5 293.62L510 292.31L510.5 290.07L511 286.5L511.5 281.25L512 274.09L512.5 265.15L513 254.95L513.5 244.53L514 235.26L514.5 228.56L515 225.59L515.5 226.88L516 232.19L516.5 240.6L517 250.74L517.5 261.17L518 270.71L518.5 278.62L519 284.62L519.5 288.82L520 291.54L520.5 293.18L521 294.1L521.5 294.58L522 294.82L522.5 294.93L523 294.97L523.5 294.99L524 295L524.5 295L525 295L525.5 295L526 295L526.5 295L527 295L527.5 295L528 295L528.5 295L529 295L529.5 295L530 295L530.5 295L531 295L531.5 295L532 295L532.5 295L533 295L533.5 295L534 295L534.5 295L535 295L535.5 295L536 295L536.5 295L537 295L537.5 295L538 295L538.5 295L539 295L539.5 295L540 295L540.5 295L541 295L541.5 295L542 295L542.5 295L543 295L543.5 295L544 295L544.5 295L545 295L545.5 295L546 295L546.5 295L547 295L547.5 295L548 295L548.5 295L549 295L549.5 295L550 295L550.5 295L551 295L551.5 295L552 295L552.5 295L553 295L553.5 295L554 295L554.5 295L555 295L555.5 295" fill="none" stroke="#36d0ec" stroke-width="0.75"/>
<text x="511.4" y="213.09" font-size="13.3" text-anchor="middle" font-weight="bold" fill="#000">Transitional B</text>
<text x="479.5" y="226.85" font-size="8.2" text-anchor="start" font-weight="bold" fill="#ec5555">16853</text>
<text x="555.8" y="226.85" font-size="8.2" text-anchor="end" font-weight="bold" fill="#4646e8">10857</text>
<rect x="569.5" y="217.5" width="78" height="78" fill="#fff" stroke="#7a7a7a" stroke-width="0.9"/>
<line x1="567.7" y1="288.5" x2="569.1" y2="288.5" stroke="#777" stroke-width="0.5"/>
<line x1="567.7" y1="281.5" x2="569.1" y2="281.5" stroke="#777" stroke-width="0.5"/>
<line x1="567.7" y1="275.5" x2="569.1" y2="275.5" stroke="#777" stroke-width="0.5"/>
<line x1="567.7" y1="268.5" x2="569.1" y2="268.5" stroke="#777" stroke-width="0.5"/>
<line x1="567.7" y1="262.5" x2="569.1" y2="262.5" stroke="#777" stroke-width="0.5"/>
<line x1="567.7" y1="255.5" x2="569.1" y2="255.5" stroke="#777" stroke-width="0.5"/>
<line x1="567.7" y1="248.5" x2="569.1" y2="248.5" stroke="#777" stroke-width="0.5"/>
<line x1="567.7" y1="242.5" x2="569.1" y2="242.5" stroke="#777" stroke-width="0.5"/>
<line x1="567.7" y1="235.5" x2="569.1" y2="235.5" stroke="#777" stroke-width="0.5"/>
<line x1="567.7" y1="229.5" x2="569.1" y2="229.5" stroke="#777" stroke-width="0.5"/>
<line x1="577.5" y1="295" x2="577.5" y2="296.3" stroke="#777" stroke-width="0.5"/>
<line x1="584.5" y1="295" x2="584.5" y2="296.3" stroke="#777" stroke-width="0.5"/>
<line x1="591.5" y1="295" x2="591.5" y2="296.3" stroke="#777" stroke-width="0.5"/>
<line x1="597.5" y1="295" x2="597.5" y2="296.3" stroke="#777" stroke-width="0.5"/>
<line x1="604.5" y1="295" x2="604.5" y2="296.3" stroke="#777" stroke-width="0.5"/>
<line x1="611.5" y1="295" x2="611.5" y2="296.3" stroke="#777" stroke-width="0.5"/>
<line x1="618.5" y1="295" x2="618.5" y2="296.3" stroke="#777" stroke-width="0.5"/>
<line x1="624.5" y1="295" x2="624.5" y2="296.3" stroke="#777" stroke-width="0.5"/>
<line x1="631.5" y1="295" x2="631.5" y2="296.3" stroke="#777" stroke-width="0.5"/>
<line x1="638.5" y1="295" x2="638.5" y2="296.3" stroke="#777" stroke-width="0.5"/>
<line x1="644.5" y1="295" x2="644.5" y2="296.3" stroke="#777" stroke-width="0.5"/>
<path d="M569.1 295L569.1 295L569.6 295L570.1 295L570.6 295L571.1 295L571.6 295L572.1 295L572.6 295L573.1 295L573.6 295L574.1 295L574.6 295L575.1 295L575.6 295L576.1 295L576.6 295L577.1 295L577.6 295L578.1 295L578.6 295L579.1 295L579.6 295L580.1 295L580.6 295L581.1 295L581.6 295L582.1 295L582.6 295L583.1 295L583.6 295L584.1 295L584.6 295L585.1 295L585.6 295L586.1 295L586.6 295L587.1 295L587.6 295L588.1 295L588.6 295L589.1 295L589.6 295L590.1 295L590.6 295L591.1 295L591.6 295L592.1 295L592.6 295L593.1 295L593.6 295L594.1 295L594.6 295L595.1 295L595.6 295L596.1 295L596.6 295L597.1 295L597.6 294.99L598.1 294.97L598.6 294.92L599.1 294.82L599.6 294.58L600.1 294.08L600.6 293.15L601.1 291.47L601.6 288.69L602.1 284.39L602.6 278.26L603.1 270.19L603.6 260.44L604.1 249.78L604.6 239.43L605.1 230.84L605.6 225.41L606.1 224.09L606.6 227.12L607.1 233.97L607.6 243.44L608.1 254.09L608.6 264.5L609.1 273.64L609.6 280.95L610.1 286.32L610.6 289.96L611.1 292.25L611.6 293.59L612.1 294.32L612.6 294.69L613.1 294.87L613.6 294.95L614.1 294.98L614.6 294.99L615.1 295L615.6 295L616.1 295L616.6 295L617.1 295L617.6 295L618.1 295L618.6 295L619.1 295L619.6 295L620.1 295L620.6 295L621.1 295L621.6 295L622.1 295L622.6 295L623.1 295L623.6 295L624.1 295L624.6 295L625.1 295L625.6 295L626.1 295L626.6 295L627.1 295L627.6 295L628.1 295L628.6 295L629.1 295L629.6 295L630.1 295L630.6 295L631.1 295L631.6 295L632.1 295L632.6 295L633.1 295L633.6 295L634.1 295L634.6 295L635.1 295L635.6 295L636.1 295L636.6 295L637.1 295L637.6 295L638.1 295L638.6 295L639.1 295L639.6 295L640.1 295L640.6 295L641.1 295L641.6 295L642.1 295L642.6 295L643.1 295L643.6 295L644.1 295L644.6 295L645.1 295L645.6 295L646.1 295L646.6 295L647.1 295L647.1 295Z" fill="#f6a4a4"/>
<path d="M569.1 295L569.1 295L569.6 295L570.1 295L570.6 295L571.1 295L571.6 295L572.1 295L572.6 295L573.1 295L573.6 295L574.1 295L574.6 295L575.1 295L575.6 295L576.1 295L576.6 295L577.1 295L577.6 295L578.1 295L578.6 295L579.1 295L579.6 295L580.1 295L580.6 295L581.1 295L581.6 295L582.1 295L582.6 295L583.1 295L583.6 295L584.1 295L584.6 295L585.1 295L585.6 295L586.1 295L586.6 295L587.1 295L587.6 295L588.1 295L588.6 295L589.1 295L589.6 295L590.1 295L590.6 295L591.1 295L591.6 295L592.1 295L592.6 295L593.1 295L593.6 295L594.1 295L594.6 295L595.1 295L595.6 295L596.1 294.99L596.6 294.97L597.1 294.91L597.6 294.79L598.1 294.53L598.6 294.02L599.1 293.06L599.6 291.4L600.1 288.72L600.6 284.7L601.1 279.15L601.6 272.08L602.1 263.87L602.6 255.28L603.1 247.39L603.6 241.39L604.1 238.28L604.6 238.48L605.1 241.34L605.6 246.41L606.1 253.02L606.6 260.41L607.1 267.79L607.6 274.57L608.1 280.33L608.6 284.89L609.1 288.27L609.6 290.6L610.1 292.07L610.6 292.91L611.1 293.31L611.6 293.42L612.1 293.37L612.6 293.24L613.1 293.12L613.6 293.02L614.1 292.99L614.6 293.04L615.1 293.15L615.6 293.33L616.1 293.55L616.6 293.79L617.1 294.03L617.6 294.25L618.1 294.44L618.6 294.6L619.1 294.73L619.6 294.82L620.1 294.89L620.6 294.93L621.1 294.96L621.6 294.98L622.1 294.99L622.6 294.99L623.1 295L623.6 295L624.1 295L624.6 295L625.1 295L625.6 295L626.1 295L626.6 295L627.1 295L627.6 295L628.1 295L628.6 295L629.1 295L629.6 295L630.1 295L630.6 295L631.1 295L631.6 295L632.1 295L632.6 295L633.1 295L633.6 295L634.1 295L634.6 295L635.1 295L635.6 295L636.1 295L636.6 295L637.1 295L637.6 295L638.1 295L638.6 295L639.1 295L639.6 295L640.1 295L640.6 295L641.1 295L641.6 295L642.1 295L642.6 295L643.1 295L643.6 295L644.1 295L644.6 295L645.1 295L645.6 295L646.1 295L646.6 295L647.1 295L647.1 295Z" fill="#9ae9f6"/>
<path d="M569.1 295L569.1 295L569.6 295L570.1 295L570.6 295L571.1 295L571.6 295L572.1 295L572.6 295L573.1 295L573.6 295L574.1 295L574.6 295L575.1 295L575.6 295L576.1 295L576.6 295L577.1 295L577.6 295L578.1 295L578.6 295L579.1 295L579.6 295L580.1 295L580.6 295L581.1 295L581.6 295L582.1 295L582.6 295L583.1 295L583.6 295L584.1 295L584.6 295L585.1 295L585.6 295L586.1 295L586.6 295L587.1 295L587.6 295L588.1 295L588.6 295L589.1 295L589.6 295L590.1 295L590.6 295L591.1 295L591.6 295L592.1 295L592.6 295L593.1 295L593.6 295L594.1 295L594.6 295L595.1 295L595.6 295L596.1 295L596.6 295L597.1 295L597.6 294.99L598.1 294.97L598.6 294.92L599.1 294.82L599.6 294.58L600.1 294.08L600.6 293.15L601.1 291.47L601.6 288.69L602.1 284.39L602.6 278.26L603.1 270.19L603.6 260.44L604.1 249.78L604.6 239.43L605.1 241.34L605.6 246.41L606.1 253.02L606.6 260.41L607.1 267.79L607.6 274.57L608.1 280.33L608.6 284.89L609.1 288.27L609.6 290.6L610.1 292.07L610.6 292.91L611.1 293.31L611.6 293.59L612.1 294.32L612.6 294.69L613.1 294.87L613.6 294.95L614.1 294.98L614.6 294.99L615.1 295L615.6 295L616.1 295L616.6 295L617.1 295L617.6 295L618.1 295L618.6 295L619.1 295L619.6 295L620.1 295L620.6 295L621.1 295L621.6 295L622.1 295L622.6 295L623.1 295L623.6 295L624.1 295L624.6 295L625.1 295L625.6 295L626.1 295L626.6 295L627.1 295L627.6 295L628.1 295L628.6 295L629.1 295L629.6 295L630.1 295L630.6 295L631.1 295L631.6 295L632.1 295L632.6 295L633.1 295L633.6 295L634.1 295L634.6 295L635.1 295L635.6 295L636.1 295L636.6 295L637.1 295L637.6 295L638.1 295L638.6 295L639.1 295L639.6 295L640.1 295L640.6 295L641.1 295L641.6 295L642.1 295L642.6 295L643.1 295L643.6 295L644.1 295L644.6 295L645.1 295L645.6 295L646.1 295L646.6 295L647.1 295L647.1 295Z" fill="#93afc6"/>
<path d="M569.1 295L569.6 295L570.1 295L570.6 295L571.1 295L571.6 295L572.1 295L572.6 295L573.1 295L573.6 295L574.1 295L574.6 295L575.1 295L575.6 295L576.1 295L576.6 295L577.1 295L577.6 295L578.1 295L578.6 295L579.1 295L579.6 295L580.1 295L580.6 295L581.1 295L581.6 295L582.1 295L582.6 295L583.1 295L583.6 295L584.1 295L584.6 295L585.1 295L585.6 295L586.1 295L586.6 295L587.1 295L587.6 295L588.1 295L588.6 295L589.1 295L589.6 295L590.1 295L590.6 295L591.1 295L591.6 295L592.1 295L592.6 295L593.1 295L593.6 295L594.1 295L594.6 295L595.1 295L595.6 295L596.1 295L596.6 295L597.1 295L597.6 294.99L598.1 294.97L598.6 294.92L599.1 294.82L599.6 294.58L600.1 294.08L600.6 293.15L601.1 291.47L601.6 288.69L602.1 284.39L602.6 278.26L603.1 270.19L603.6 260.44L604.1 249.78L604.6 239.43L605.1 230.84L605.6 225.41L606.1 224.09L606.6 227.12L607.1 233.97L607.6 243.44L608.1 254.09L608.6 264.5L609.1 273.64L609.6 280.95L610.1 286.32L610.6 289.96L611.1 292.25L611.6 293.59L612.1 294.32L612.6 294.69L613.1 294.87L613.6 294.95L614.1 294.98L614.6 294.99L615.1 295L615.6 295L616.1 295L616.6 295L617.1 295L617.6 295L618.1 295L618.6 295L619.1 295L619.6 295L620.1 295L620.6 295L621.1 295L621.6 295L622.1 295L622.6 295L623.1 295L623.6 295L624.1 295L624.6 295L625.1 295L625.6 295L626.1 295L626.6 295L627.1 295L627.6 295L628.1 295L628.6 295L629.1 295L629.6 295L630.1 295L630.6 295L631.1 295L631.6 295L632.1 295L632.6 295L633.1 295L633.6 295L634.1 295L634.6 295L635.1 295L635.6 295L636.1 295L636.6 295L637.1 295L637.6 295L638.1 295L638.6 295L639.1 295L639.6 295L640.1 295L640.6 295L641.1 295L641.6 295L642.1 295L642.6 295L643.1 295L643.6 295L644.1 295L644.6 295L645.1 295L645.6 295L646.1 295L646.6 295L647.1 295" fill="none" stroke="#ec6868" stroke-width="0.75"/>
<path d="M569.1 295L569.6 295L570.1 295L570.6 295L571.1 295L571.6 295L572.1 295L572.6 295L573.1 295L573.6 295L574.1 295L574.6 295L575.1 295L575.6 295L576.1 295L576.6 295L577.1 295L577.6 295L578.1 295L578.6 295L579.1 295L579.6 295L580.1 295L580.6 295L581.1 295L581.6 295L582.1 295L582.6 295L583.1 295L583.6 295L584.1 295L584.6 295L585.1 295L585.6 295L586.1 295L586.6 295L587.1 295L587.6 295L588.1 295L588.6 295L589.1 295L589.6 295L590.1 295L590.6 295L591.1 295L591.6 295L592.1 295L592.6 295L593.1 295L593.6 295L594.1 295L594.6 295L595.1 295L595.6 295L596.1 294.99L596.6 294.97L597.1 294.91L597.6 294.79L598.1 294.53L598.6 294.02L599.1 293.06L599.6 291.4L600.1 288.72L600.6 284.7L601.1 279.15L601.6 272.08L602.1 263.87L602.6 255.28L603.1 247.39L603.6 241.39L604.1 238.28L604.6 238.48L605.1 241.34L605.6 246.41L606.1 253.02L606.6 260.41L607.1 267.79L607.6 274.57L608.1 280.33L608.6 284.89L609.1 288.27L609.6 290.6L610.1 292.07L610.6 292.91L611.1 293.31L611.6 293.42L612.1 293.37L612.6 293.24L613.1 293.12L613.6 293.02L614.1 292.99L614.6 293.04L615.1 293.15L615.6 293.33L616.1 293.55L616.6 293.79L617.1 294.03L617.6 294.25L618.1 294.44L618.6 294.6L619.1 294.73L619.6 294.82L620.1 294.89L620.6 294.93L621.1 294.96L621.6 294.98L622.1 294.99L622.6 294.99L623.1 295L623.6 295L624.1 295L624.6 295L625.1 295L625.6 295L626.1 295L626.6 295L627.1 295L627.6 295L628.1 295L628.6 295L629.1 295L629.6 295L630.1 295L630.6 295L631.1 295L631.6 295L632.1 295L632.6 295L633.1 295L633.6 295L634.1 295L634.6 295L635.1 295L635.6 295L636.1 295L636.6 295L637.1 295L637.6 295L638.1 295L638.6 295L639.1 295L639.6 295L640.1 295L640.6 295L641.1 295L641.6 295L642.1 295L642.6 295L643.1 295L643.6 295L644.1 295L644.6 295L645.1 295L645.6 295L646.1 295L646.6 295L647.1 295" fill="none" stroke="#36d0ec" stroke-width="0.75"/>
<text x="614" y="213.09" font-size="13.3" text-anchor="middle" font-weight="bold" fill="#000">Unswitched MBC</text>
<text x="571.1" y="226.85" font-size="8.2" text-anchor="start" font-weight="bold" fill="#ec5555">18567</text>
<text x="647.4" y="226.85" font-size="8.2" text-anchor="end" font-weight="bold" fill="#4646e8">14468</text>
<line x1="616.6" y1="238.4" x2="626.6" y2="238.4" stroke="#ea4b4b" stroke-width="1.8"/>
<text x="629.3" y="241.75" font-size="9.3" text-anchor="start" font-weight="bold" fill="#ea4b4b">HC</text>
<line x1="616.6" y1="248.8" x2="626.6" y2="248.8" stroke="#42dcf0" stroke-width="1.8"/>
<text x="629.3" y="252.04" font-size="9" text-anchor="start" font-weight="bold" fill="#42dcf0">SLE</text>
<line x1="12.5" y1="243.5" x2="12.5" y2="207.5" stroke="#333" stroke-width="1.3"/>
<path d="M12 200.8L9.2 208.6L14.8 208.6Z" fill="#111"/>
<text x="14.43" y="273.5" font-size="11.2" text-anchor="middle" font-weight="bold" fill="#000" transform="rotate(-90 14.43 273.5)">Histogram</text>
<text x="24.6" y="310.28" font-size="10.5" text-anchor="start" font-weight="bold" fill="#000">MBD2</text>
<line x1="65.8" y1="306.5" x2="644" y2="306.5" stroke="#333" stroke-width="1.1"/>
<path d="M651 306.4L643.5 303.6L643.5 309.2Z" fill="#111"/>
<text x="64.2" y="352.38" font-size="13" text-anchor="middle" font-weight="bold" fill="#000">B</text>
<line x1="36.5" y1="388.3" x2="36.5" y2="458.9" stroke="#222" stroke-width="1"/>
<line x1="34" y1="458.5" x2="36.5" y2="458.5" stroke="#222" stroke-width="1"/>
<text x="32.7" y="461.24" font-size="7.9" text-anchor="end" font-weight="bold" fill="#000">0</text>
<line x1="34" y1="444.5" x2="36.5" y2="444.5" stroke="#222" stroke-width="1"/>
<text x="32.7" y="447.22" font-size="7.9" text-anchor="end" font-weight="bold" fill="#000">10000</text>
<line x1="34" y1="430.5" x2="36.5" y2="430.5" stroke="#222" stroke-width="1"/>
<text x="32.7" y="433.2" font-size="7.9" text-anchor="end" font-weight="bold" fill="#000">20000</text>
<line x1="34" y1="416.5" x2="36.5" y2="416.5" stroke="#222" stroke-width="1"/>
<text x="32.7" y="419.18" font-size="7.9" text-anchor="end" font-weight="bold" fill="#000">30000</text>
<line x1="34" y1="402.5" x2="36.5" y2="402.5" stroke="#222" stroke-width="1"/>
<text x="32.7" y="405.16" font-size="7.9" text-anchor="end" font-weight="bold" fill="#000">40000</text>
<line x1="34" y1="388.5" x2="36.5" y2="388.5" stroke="#222" stroke-width="1"/>
<text x="32.7" y="391.14" font-size="7.9" text-anchor="end" font-weight="bold" fill="#000">50000</text>
<line x1="36" y1="458.5" x2="92.8" y2="458.5" stroke="#7a7a7a" stroke-width="1"/>
<line x1="47.5" y1="458.4" x2="47.5" y2="460.9" stroke="#222" stroke-width="1"/>
<line x1="64.5" y1="458.4" x2="64.5" y2="460.9" stroke="#222" stroke-width="1"/>
<line x1="81.5" y1="458.4" x2="81.5" y2="460.9" stroke="#222" stroke-width="1"/>
<text x="49.8" y="468" font-size="7.8" text-anchor="end" font-weight="bold" fill="#000" transform="rotate(-45 49.8 468)">HC</text>
<text x="66.6" y="468" font-size="7.8" text-anchor="end" font-weight="bold" fill="#000" transform="rotate(-45 66.6 468)">inactive</text>
<text x="83.5" y="468" font-size="7.8" text-anchor="end" font-weight="bold" fill="#000" transform="rotate(-45 83.5 468)">active</text>
<text x="7.14" y="422.35" font-size="7.9" text-anchor="middle" font-weight="bold" fill="#000" transform="rotate(-90 7.14 422.35)">MFI of MBD2</text>
<path d="M54.85 378.2L54.85 382.8M52.86 379.35L56.84 381.65M52.86 381.65L56.84 379.35" stroke="#000" stroke-width="1.15" stroke-linecap="round"/>
<circle cx="54.85" cy="380.5" r="0.92" fill="#000"/>
<path d="M61.15 378.2L61.15 382.8M59.16 379.35L63.14 381.65M59.16 381.65L63.14 379.35" stroke="#000" stroke-width="1.15" stroke-linecap="round"/>
<circle cx="61.15" cy="380.5" r="0.92" fill="#000"/>
<path d="M67.45 378.2L67.45 382.8M65.46 379.35L69.44 381.65M65.46 381.65L69.44 379.35" stroke="#000" stroke-width="1.15" stroke-linecap="round"/>
<circle cx="67.45" cy="380.5" r="0.92" fill="#000"/>
<path d="M73.75 378.2L73.75 382.8M71.76 379.35L75.74 381.65M71.76 381.65L75.74 379.35" stroke="#000" stroke-width="1.15" stroke-linecap="round"/>
<circle cx="73.75" cy="380.5" r="0.92" fill="#000"/>
<line x1="48" y1="385.5" x2="81" y2="385.5" stroke="#8a8a8a" stroke-width="1.2"/>
<path d="M55.1 394.7L55.1 399.3M53.11 395.85L57.09 398.15M53.11 398.15L57.09 395.85" stroke="#000" stroke-width="1.15" stroke-linecap="round"/>
<circle cx="55.1" cy="397" r="0.92" fill="#000"/>
<line x1="48" y1="403.5" x2="63" y2="403.5" stroke="#222" stroke-width="1"/>
<path d="M73.4 394.7L73.4 399.3M71.41 395.85L75.39 398.15M71.41 398.15L75.39 395.85" stroke="#000" stroke-width="1.15" stroke-linecap="round"/>
<circle cx="73.4" cy="397" r="0.92" fill="#000"/>
<line x1="66.2" y1="403.5" x2="81" y2="403.5" stroke="#222" stroke-width="1"/>
<circle cx="43.03" cy="442.85" r="1.15" fill="#f23a3a"/>
<circle cx="47.57" cy="441.91" r="1.15" fill="#f23a3a"/>
<circle cx="52.01" cy="444.08" r="1.15" fill="#f23a3a"/>
<circle cx="47.57" cy="447.86" r="1.15" fill="#f23a3a"/>
<circle cx="43.03" cy="450.42" r="1.15" fill="#f23a3a"/>
<circle cx="47.57" cy="452.78" r="1.15" fill="#f23a3a"/>
<circle cx="52.01" cy="452.4" r="1.15" fill="#f23a3a"/>
<circle cx="43.03" cy="458.07" r="1.15" fill="#f23a3a"/>
<circle cx="47.57" cy="458.07" r="1.15" fill="#f23a3a"/>
<circle cx="52.01" cy="458.07" r="1.15" fill="#f23a3a"/>
<circle cx="62.41" cy="434.63" r="1.15" fill="#2b45f2"/>
<circle cx="66.66" cy="434.06" r="1.15" fill="#2b45f2"/>
<circle cx="64.58" cy="438.6" r="1.15" fill="#2b45f2"/>
<circle cx="62.41" cy="442.85" r="1.15" fill="#2b45f2"/>
<circle cx="66.66" cy="442.19" r="1.15" fill="#2b45f2"/>
<circle cx="66.66" cy="444.74" r="1.15" fill="#2b45f2"/>
<circle cx="64.58" cy="446.92" r="1.15" fill="#2b45f2"/>
<circle cx="81.12" cy="411.95" r="1.15" fill="#b45ee6"/>
<circle cx="82.73" cy="426.6" r="1.15" fill="#b45ee6"/>
<circle cx="79.71" cy="428.39" r="1.15" fill="#b45ee6"/>
<circle cx="76.59" cy="433.88" r="1.15" fill="#b45ee6"/>
<circle cx="79.42" cy="433.4" r="1.15" fill="#b45ee6"/>
<circle cx="83.02" cy="433.88" r="1.15" fill="#b45ee6"/>
<circle cx="76.59" cy="437.18" r="1.15" fill="#b45ee6"/>
<circle cx="79.9" cy="435.77" r="1.15" fill="#b45ee6"/>
<circle cx="83.02" cy="436.71" r="1.15" fill="#b45ee6"/>
<circle cx="86.04" cy="436.24" r="1.15" fill="#b45ee6"/>
<line x1="43.1" y1="450.5" x2="52.1" y2="450.5" stroke="#888" stroke-width="1"/>
<line x1="59.15" y1="440.5" x2="69.65" y2="440.5" stroke="#333" stroke-width="1"/>
<line x1="75.8" y1="431.5" x2="86.8" y2="431.5" stroke="#444" stroke-width="1"/>
<text x="162" y="352.38" font-size="13" text-anchor="middle" font-weight="bold" fill="#000">DN B</text>
<line x1="135.5" y1="388.4" x2="135.5" y2="459.9" stroke="#222" stroke-width="1"/>
<line x1="132.9" y1="459.5" x2="135.4" y2="459.5" stroke="#222" stroke-width="1"/>
<text x="131.6" y="462.24" font-size="7.9" text-anchor="end" font-weight="bold" fill="#000">0</text>
<line x1="132.9" y1="441.5" x2="135.4" y2="441.5" stroke="#222" stroke-width="1"/>
<text x="131.6" y="444.49" font-size="7.9" text-anchor="end" font-weight="bold" fill="#000">5000</text>
<line x1="132.9" y1="423.5" x2="135.4" y2="423.5" stroke="#222" stroke-width="1"/>
<text x="131.6" y="426.74" font-size="7.9" text-anchor="end" font-weight="bold" fill="#000">10000</text>
<line x1="132.9" y1="406.5" x2="135.4" y2="406.5" stroke="#222" stroke-width="1"/>
<text x="131.6" y="408.99" font-size="7.9" text-anchor="end" font-weight="bold" fill="#000">15000</text>
<line x1="132.9" y1="388.5" x2="135.4" y2="388.5" stroke="#222" stroke-width="1"/>
<text x="131.6" y="391.24" font-size="7.9" text-anchor="end" font-weight="bold" fill="#000">20000</text>
<line x1="134.9" y1="459.5" x2="192" y2="459.5" stroke="#222" stroke-width="1"/>
<line x1="146.5" y1="459.4" x2="146.5" y2="461.9" stroke="#222" stroke-width="1"/>
<line x1="163.5" y1="459.4" x2="163.5" y2="461.9" stroke="#222" stroke-width="1"/>
<line x1="180.5" y1="459.4" x2="180.5" y2="461.9" stroke="#222" stroke-width="1"/>
<text x="148.8" y="469" font-size="7.8" text-anchor="end" font-weight="bold" fill="#000" transform="rotate(-45 148.8 469)">HC</text>
<text x="165.8" y="469" font-size="7.8" text-anchor="end" font-weight="bold" fill="#000" transform="rotate(-45 165.8 469)">inactive</text>
<text x="182.8" y="469" font-size="7.8" text-anchor="end" font-weight="bold" fill="#000" transform="rotate(-45 182.8 469)">active</text>
<text x="105.64" y="422.9" font-size="7.9" text-anchor="middle" font-weight="bold" fill="#000" transform="rotate(-90 105.64 422.9)">MFI of MBD2</text>
<path d="M154.15 371.8L154.15 376.4M152.16 372.95L156.14 375.25M152.16 375.25L156.14 372.95" stroke="#000" stroke-width="1.15" stroke-linecap="round"/>
<circle cx="154.15" cy="374.1" r="0.92" fill="#000"/>
<path d="M160.45 371.8L160.45 376.4M158.46 372.95L162.44 375.25M158.46 375.25L162.44 372.95" stroke="#000" stroke-width="1.15" stroke-linecap="round"/>
<circle cx="160.45" cy="374.1" r="0.92" fill="#000"/>
<path d="M166.75 371.8L166.75 376.4M164.76 372.95L168.74 375.25M164.76 375.25L168.74 372.95" stroke="#000" stroke-width="1.15" stroke-linecap="round"/>
<circle cx="166.75" cy="374.1" r="0.92" fill="#000"/>
<path d="M173.05 371.8L173.05 376.4M171.06 372.95L175.04 375.25M171.06 375.25L175.04 372.95" stroke="#000" stroke-width="1.15" stroke-linecap="round"/>
<circle cx="173.05" cy="374.1" r="0.92" fill="#000"/>
<line x1="146.9" y1="380.5" x2="180.9" y2="380.5" stroke="#222" stroke-width="1"/>
<text x="172" y="394.13" font-size="8.1" text-anchor="middle" font-weight="bold" fill="#000">ns</text>
<line x1="164.2" y1="398.5" x2="180.9" y2="398.5" stroke="#8a8a8a" stroke-width="1.2"/>
<path d="M149 407.2L149 411.8M147.01 408.35L150.99 410.65M147.01 410.65L150.99 408.35" stroke="#000" stroke-width="1.15" stroke-linecap="round"/>
<circle cx="149" cy="409.5" r="0.92" fill="#000"/>
<path d="M155.3 407.2L155.3 411.8M153.31 408.35L157.29 410.65M153.31 410.65L157.29 408.35" stroke="#000" stroke-width="1.15" stroke-linecap="round"/>
<circle cx="155.3" cy="409.5" r="0.92" fill="#000"/>
<path d="M161.6 407.2L161.6 411.8M159.61 408.35L163.59 410.65M159.61 410.65L163.59 408.35" stroke="#000" stroke-width="1.15" stroke-linecap="round"/>
<circle cx="161.6" cy="409.5" r="0.92" fill="#000"/>
<line x1="146.9" y1="416.2" x2="163.8" y2="416.2" stroke="#8a8a8a" stroke-width="1.4"/>
<circle cx="146.92" cy="438.69" r="1.15" fill="#f23a3a"/>
<circle cx="147.47" cy="441.59" r="1.15" fill="#f23a3a"/>
<circle cx="146.14" cy="442.92" r="1.15" fill="#f23a3a"/>
<circle cx="146.92" cy="449.6" r="1.15" fill="#f23a3a"/>
<circle cx="143.02" cy="457.4" r="1.15" fill="#f23a3a"/>
<circle cx="145.25" cy="457.4" r="1.15" fill="#f23a3a"/>
<circle cx="147.47" cy="457.4" r="1.15" fill="#f23a3a"/>
<circle cx="149.7" cy="457.4" r="1.15" fill="#f23a3a"/>
<circle cx="151.37" cy="457.4" r="1.15" fill="#f23a3a"/>
<circle cx="144.13" cy="458.29" r="1.15" fill="#f23a3a"/>
<circle cx="148.58" cy="458.29" r="1.15" fill="#f23a3a"/>
<circle cx="162.5" cy="435.13" r="1.15" fill="#2b45f2"/>
<circle cx="159.72" cy="437.92" r="1.15" fill="#2b45f2"/>
<circle cx="162.17" cy="437.92" r="1.15" fill="#2b45f2"/>
<circle cx="165.28" cy="437.14" r="1.15" fill="#2b45f2"/>
<circle cx="168.07" cy="437.36" r="1.15" fill="#2b45f2"/>
<circle cx="162.5" cy="439.59" r="1.15" fill="#2b45f2"/>
<circle cx="165.28" cy="441.26" r="1.15" fill="#2b45f2"/>
<circle cx="162.5" cy="442.37" r="1.15" fill="#2b45f2"/>
<circle cx="178.64" cy="424.22" r="1.15" fill="#b45ee6"/>
<circle cx="181.98" cy="424.56" r="1.15" fill="#b45ee6"/>
<circle cx="180.31" cy="429.34" r="1.15" fill="#b45ee6"/>
<circle cx="178.64" cy="431.57" r="1.15" fill="#b45ee6"/>
<circle cx="181.98" cy="431.79" r="1.15" fill="#b45ee6"/>
<circle cx="180.31" cy="433.46" r="1.15" fill="#b45ee6"/>
<circle cx="175.86" cy="438.47" r="1.15" fill="#b45ee6"/>
<circle cx="178.64" cy="437.92" r="1.15" fill="#b45ee6"/>
<circle cx="181.98" cy="437.92" r="1.15" fill="#b45ee6"/>
<circle cx="184.76" cy="437.92" r="1.15" fill="#b45ee6"/>
<line x1="141.1" y1="452.5" x2="152.1" y2="452.5" stroke="#222" stroke-width="1"/>
<line x1="159.1" y1="438.5" x2="168.1" y2="438.5" stroke="#222" stroke-width="1"/>
<line x1="175.6" y1="432.5" x2="185.6" y2="432.5" stroke="#444" stroke-width="1"/>
<text x="253.6" y="352.38" font-size="13" text-anchor="middle" font-weight="bold" fill="#000">PBC</text>
<line x1="234.5" y1="386.7" x2="234.5" y2="457.9" stroke="#222" stroke-width="1"/>
<line x1="232.3" y1="457.5" x2="234.8" y2="457.5" stroke="#222" stroke-width="1"/>
<text x="231" y="460.24" font-size="7.9" text-anchor="end" font-weight="bold" fill="#000">0</text>
<line x1="232.3" y1="433.5" x2="234.8" y2="433.5" stroke="#222" stroke-width="1"/>
<text x="231" y="436.68" font-size="7.9" text-anchor="end" font-weight="bold" fill="#000">10000</text>
<line x1="232.3" y1="410.5" x2="234.8" y2="410.5" stroke="#222" stroke-width="1"/>
<text x="231" y="413.11" font-size="7.9" text-anchor="end" font-weight="bold" fill="#000">20000</text>
<line x1="232.3" y1="386.5" x2="234.8" y2="386.5" stroke="#222" stroke-width="1"/>
<text x="231" y="389.54" font-size="7.9" text-anchor="end" font-weight="bold" fill="#000">30000</text>
<line x1="234.3" y1="457.5" x2="291" y2="457.5" stroke="#222" stroke-width="1"/>
<line x1="246.5" y1="457.4" x2="246.5" y2="459.9" stroke="#222" stroke-width="1"/>
<line x1="263.5" y1="457.4" x2="263.5" y2="459.9" stroke="#222" stroke-width="1"/>
<line x1="279.5" y1="457.4" x2="279.5" y2="459.9" stroke="#222" stroke-width="1"/>
<text x="248.4" y="467" font-size="7.8" text-anchor="end" font-weight="bold" fill="#000" transform="rotate(-45 248.4 467)">HC</text>
<text x="265.4" y="467" font-size="7.8" text-anchor="end" font-weight="bold" fill="#000" transform="rotate(-45 265.4 467)">inactive</text>
<text x="281.8" y="467" font-size="7.8" text-anchor="end" font-weight="bold" fill="#000" transform="rotate(-45 281.8 467)">active</text>
<text x="204.54" y="421.05" font-size="7.9" text-anchor="middle" font-weight="bold" fill="#000" transform="rotate(-90 204.54 421.05)">MFI of MBD2</text>
<path d="M253.75 373.5L253.75 378.1M251.76 374.65L255.74 376.95M251.76 376.95L255.74 374.65" stroke="#000" stroke-width="1.15" stroke-linecap="round"/>
<circle cx="253.75" cy="375.8" r="0.92" fill="#000"/>
<path d="M260.05 373.5L260.05 378.1M258.06 374.65L262.04 376.95M258.06 376.95L262.04 374.65" stroke="#000" stroke-width="1.15" stroke-linecap="round"/>
<circle cx="260.05" cy="375.8" r="0.92" fill="#000"/>
<path d="M266.35 373.5L266.35 378.1M264.36 374.65L268.34 376.95M264.36 376.95L268.34 374.65" stroke="#000" stroke-width="1.15" stroke-linecap="round"/>
<circle cx="266.35" cy="375.8" r="0.92" fill="#000"/>
<path d="M272.65 373.5L272.65 378.1M270.66 374.65L274.64 376.95M270.66 376.95L274.64 374.65" stroke="#000" stroke-width="1.15" stroke-linecap="round"/>
<circle cx="272.65" cy="375.8" r="0.92" fill="#000"/>
<line x1="246.2" y1="382.5" x2="279.9" y2="382.5" stroke="#8a8a8a" stroke-width="1.3"/>
<path d="M253.9 391.3L253.9 395.9M251.91 392.45L255.89 394.75M251.91 394.75L255.89 392.45" stroke="#000" stroke-width="1.15" stroke-linecap="round"/>
<circle cx="253.9" cy="393.6" r="0.92" fill="#000"/>
<line x1="246.2" y1="399.5" x2="261.8" y2="399.5" stroke="#555" stroke-width="1"/>
<path d="M269.15 391.3L269.15 395.9M267.16 392.45L271.14 394.75M267.16 394.75L271.14 392.45" stroke="#000" stroke-width="1.15" stroke-linecap="round"/>
<circle cx="269.15" cy="393.6" r="0.92" fill="#000"/>
<path d="M275.45 391.3L275.45 395.9M273.46 392.45L277.44 394.75M273.46 394.75L277.44 392.45" stroke="#000" stroke-width="1.15" stroke-linecap="round"/>
<circle cx="275.45" cy="393.6" r="0.92" fill="#000"/>
<line x1="264.6" y1="399.5" x2="279.9" y2="399.5" stroke="#555" stroke-width="1"/>
<circle cx="246.25" cy="441.81" r="1.15" fill="#f23a3a"/>
<circle cx="245.36" cy="442.37" r="1.15" fill="#f23a3a"/>
<circle cx="245.92" cy="450.16" r="1.15" fill="#f23a3a"/>
<circle cx="247.03" cy="450.49" r="1.15" fill="#f23a3a"/>
<circle cx="242.02" cy="456.28" r="1.15" fill="#f23a3a"/>
<circle cx="244.25" cy="455.73" r="1.15" fill="#f23a3a"/>
<circle cx="246.47" cy="456.28" r="1.15" fill="#f23a3a"/>
<circle cx="248.7" cy="455.73" r="1.15" fill="#f23a3a"/>
<circle cx="250.92" cy="456.28" r="1.15" fill="#f23a3a"/>
<circle cx="243.13" cy="457.17" r="1.15" fill="#f23a3a"/>
<circle cx="249.81" cy="457.17" r="1.15" fill="#f23a3a"/>
<circle cx="263.17" cy="429.01" r="1.15" fill="#2b45f2"/>
<circle cx="263.17" cy="432.91" r="1.15" fill="#2b45f2"/>
<circle cx="263.17" cy="435.91" r="1.15" fill="#2b45f2"/>
<circle cx="263.17" cy="440.7" r="1.15" fill="#2b45f2"/>
<circle cx="260.72" cy="443.48" r="1.15" fill="#2b45f2"/>
<circle cx="265.17" cy="444.26" r="1.15" fill="#2b45f2"/>
<circle cx="263.17" cy="449.83" r="1.15" fill="#2b45f2"/>
<circle cx="277.64" cy="407.86" r="1.15" fill="#b45ee6"/>
<circle cx="277.64" cy="410.86" r="1.15" fill="#b45ee6"/>
<circle cx="282.09" cy="409.86" r="1.15" fill="#b45ee6"/>
<circle cx="279.87" cy="419.21" r="1.15" fill="#b45ee6"/>
<circle cx="279.87" cy="421.22" r="1.15" fill="#b45ee6"/>
<circle cx="277.64" cy="432.02" r="1.15" fill="#b45ee6"/>
<circle cx="282.09" cy="431.79" r="1.15" fill="#b45ee6"/>
<circle cx="279.87" cy="436.47" r="1.15" fill="#b45ee6"/>
<circle cx="279.87" cy="441.26" r="1.15" fill="#b45ee6"/>
<line x1="240.7" y1="452.5" x2="251.7" y2="452.5" stroke="#222" stroke-width="1"/>
<line x1="258.7" y1="439.5" x2="267.7" y2="439.5" stroke="#222" stroke-width="1"/>
<line x1="274.1" y1="423.5" x2="285.1" y2="423.5" stroke="#222" stroke-width="1"/>
<text x="350.6" y="352.38" font-size="13" text-anchor="middle" font-weight="bold" fill="#000">Naïve B</text>
<line x1="334.5" y1="382.6" x2="334.5" y2="460.3" stroke="#222" stroke-width="1"/>
<line x1="332" y1="459.5" x2="334.5" y2="459.5" stroke="#222" stroke-width="1"/>
<text x="330.7" y="462.64" font-size="7.9" text-anchor="end" font-weight="bold" fill="#000">0</text>
<line x1="332" y1="440.5" x2="334.5" y2="440.5" stroke="#222" stroke-width="1"/>
<text x="330.7" y="443.34" font-size="7.9" text-anchor="end" font-weight="bold" fill="#000">10000</text>
<line x1="332" y1="421.5" x2="334.5" y2="421.5" stroke="#222" stroke-width="1"/>
<text x="330.7" y="424.04" font-size="7.9" text-anchor="end" font-weight="bold" fill="#000">20000</text>
<line x1="332" y1="401.5" x2="334.5" y2="401.5" stroke="#222" stroke-width="1"/>
<text x="330.7" y="404.74" font-size="7.9" text-anchor="end" font-weight="bold" fill="#000">30000</text>
<line x1="332" y1="382.5" x2="334.5" y2="382.5" stroke="#222" stroke-width="1"/>
<text x="330.7" y="385.44" font-size="7.9" text-anchor="end" font-weight="bold" fill="#000">40000</text>
<line x1="334" y1="459.5" x2="390" y2="459.5" stroke="#222" stroke-width="1"/>
<line x1="345.5" y1="459.8" x2="345.5" y2="462.3" stroke="#222" stroke-width="1"/>
<line x1="362.5" y1="459.8" x2="362.5" y2="462.3" stroke="#222" stroke-width="1"/>
<line x1="379.5" y1="459.8" x2="379.5" y2="462.3" stroke="#222" stroke-width="1"/>
<text x="347.8" y="469.4" font-size="7.8" text-anchor="end" font-weight="bold" fill="#000" transform="rotate(-45 347.8 469.4)">HC</text>
<text x="364.5" y="469.4" font-size="7.8" text-anchor="end" font-weight="bold" fill="#000" transform="rotate(-45 364.5 469.4)">inactive</text>
<text x="381.5" y="469.4" font-size="7.8" text-anchor="end" font-weight="bold" fill="#000" transform="rotate(-45 381.5 469.4)">active</text>
<text x="305.24" y="420.2" font-size="7.9" text-anchor="middle" font-weight="bold" fill="#000" transform="rotate(-90 305.24 420.2)">MFI of MBD2</text>
<path d="M362.3 367.7L362.3 372.3M360.31 368.85L364.29 371.15M360.31 371.15L364.29 368.85" stroke="#000" stroke-width="1.15" stroke-linecap="round"/>
<circle cx="362.3" cy="370" r="0.92" fill="#000"/>
<line x1="346.1" y1="376.5" x2="378.8" y2="376.5" stroke="#222" stroke-width="1"/>
<text x="352.8" y="390.23" font-size="8.1" text-anchor="middle" font-weight="bold" fill="#000">ns</text>
<line x1="346.1" y1="394.5" x2="360.6" y2="394.5" stroke="#555" stroke-width="1.1"/>
<text x="371.4" y="390.23" font-size="8.1" text-anchor="middle" font-weight="bold" fill="#000">ns</text>
<line x1="364.3" y1="394.5" x2="378.8" y2="394.5" stroke="#555" stroke-width="1.1"/>
<circle cx="345.58" cy="407.3" r="1.15" fill="#f23a3a"/>
<circle cx="345.58" cy="414.87" r="1.15" fill="#f23a3a"/>
<circle cx="343.36" cy="417.1" r="1.15" fill="#f23a3a"/>
<circle cx="347.81" cy="419.32" r="1.15" fill="#f23a3a"/>
<circle cx="343.36" cy="421.55" r="1.15" fill="#f23a3a"/>
<circle cx="347.81" cy="422.11" r="1.15" fill="#f23a3a"/>
<circle cx="345.58" cy="426" r="1.15" fill="#f23a3a"/>
<circle cx="345.58" cy="432.68" r="1.15" fill="#f23a3a"/>
<circle cx="345.58" cy="437.92" r="1.15" fill="#f23a3a"/>
<circle cx="345.58" cy="452.94" r="1.15" fill="#f23a3a"/>
<circle cx="345.58" cy="456.28" r="1.15" fill="#f23a3a"/>
<circle cx="357.83" cy="420.1" r="1.15" fill="#2b45f2"/>
<circle cx="362.28" cy="419.32" r="1.15" fill="#2b45f2"/>
<circle cx="366.96" cy="420.1" r="1.15" fill="#2b45f2"/>
<circle cx="362.28" cy="425.11" r="1.15" fill="#2b45f2"/>
<circle cx="357.83" cy="429.01" r="1.15" fill="#2b45f2"/>
<circle cx="362.28" cy="427.9" r="1.15" fill="#2b45f2"/>
<circle cx="366.96" cy="427.9" r="1.15" fill="#2b45f2"/>
<circle cx="378.98" cy="402.63" r="1.15" fill="#b45ee6"/>
<circle cx="378.98" cy="406.19" r="1.15" fill="#b45ee6"/>
<circle cx="374.53" cy="410.09" r="1.15" fill="#b45ee6"/>
<circle cx="378.98" cy="410.09" r="1.15" fill="#b45ee6"/>
<circle cx="383.77" cy="410.09" r="1.15" fill="#b45ee6"/>
<circle cx="378.98" cy="413.76" r="1.15" fill="#b45ee6"/>
<circle cx="376.75" cy="417.88" r="1.15" fill="#b45ee6"/>
<circle cx="381.21" cy="418.43" r="1.15" fill="#b45ee6"/>
<circle cx="378.98" cy="436.02" r="1.15" fill="#b45ee6"/>
<line x1="340.1" y1="428.5" x2="351.1" y2="428.5" stroke="#777" stroke-width="1"/>
<line x1="356.8" y1="424.5" x2="367.8" y2="424.5" stroke="#222" stroke-width="1"/>
<line x1="373.8" y1="413.5" x2="384.8" y2="413.5" stroke="#666" stroke-width="1"/>
<text x="446.3" y="352.38" font-size="13" text-anchor="middle" font-weight="bold" fill="#000">Switched B</text>
<line x1="433.5" y1="387.6" x2="433.5" y2="459" stroke="#222" stroke-width="1"/>
<line x1="431.2" y1="458.5" x2="433.7" y2="458.5" stroke="#222" stroke-width="1"/>
<text x="429.9" y="461.34" font-size="7.9" text-anchor="end" font-weight="bold" fill="#000">0</text>
<line x1="431.2" y1="440.5" x2="433.7" y2="440.5" stroke="#222" stroke-width="1"/>
<text x="429.9" y="443.62" font-size="7.9" text-anchor="end" font-weight="bold" fill="#000">5000</text>
<line x1="431.2" y1="423.5" x2="433.7" y2="423.5" stroke="#222" stroke-width="1"/>
<text x="429.9" y="425.89" font-size="7.9" text-anchor="end" font-weight="bold" fill="#000">10000</text>
<line x1="431.2" y1="405.5" x2="433.7" y2="405.5" stroke="#222" stroke-width="1"/>
<text x="429.9" y="408.17" font-size="7.9" text-anchor="end" font-weight="bold" fill="#000">15000</text>
<line x1="431.2" y1="387.5" x2="433.7" y2="387.5" stroke="#222" stroke-width="1"/>
<text x="429.9" y="390.44" font-size="7.9" text-anchor="end" font-weight="bold" fill="#000">20000</text>
<line x1="433.2" y1="458.5" x2="490" y2="458.5" stroke="#222" stroke-width="1"/>
<line x1="444.5" y1="458.5" x2="444.5" y2="461" stroke="#222" stroke-width="1"/>
<line x1="461.5" y1="458.5" x2="461.5" y2="461" stroke="#222" stroke-width="1"/>
<line x1="478.5" y1="458.5" x2="478.5" y2="461" stroke="#222" stroke-width="1"/>
<text x="447" y="468.1" font-size="7.8" text-anchor="end" font-weight="bold" fill="#000" transform="rotate(-45 447 468.1)">HC</text>
<text x="463.7" y="468.1" font-size="7.8" text-anchor="end" font-weight="bold" fill="#000" transform="rotate(-45 463.7 468.1)">inactive</text>
<text x="480.4" y="468.1" font-size="7.8" text-anchor="end" font-weight="bold" fill="#000" transform="rotate(-45 480.4 468.1)">active</text>
<text x="404.04" y="422.05" font-size="7.9" text-anchor="middle" font-weight="bold" fill="#000" transform="rotate(-90 404.04 422.05)">MFI of MBD2</text>
<path d="M458.55 375.5L458.55 380.1M456.56 376.65L460.54 378.95M456.56 378.95L460.54 376.65" stroke="#000" stroke-width="1.15" stroke-linecap="round"/>
<circle cx="458.55" cy="377.8" r="0.92" fill="#000"/>
<path d="M464.85 375.5L464.85 380.1M462.86 376.65L466.84 378.95M462.86 378.95L466.84 376.65" stroke="#000" stroke-width="1.15" stroke-linecap="round"/>
<circle cx="464.85" cy="377.8" r="0.92" fill="#000"/>
<line x1="445" y1="384.5" x2="478.2" y2="384.5" stroke="#222" stroke-width="1"/>
<text x="452.3" y="398.03" font-size="8.1" text-anchor="middle" font-weight="bold" fill="#000">ns</text>
<line x1="445" y1="402" x2="460" y2="402" stroke="#9a9a9a" stroke-width="1.5"/>
<text x="470.6" y="398.03" font-size="8.1" text-anchor="middle" font-weight="bold" fill="#000">ns</text>
<line x1="463" y1="402" x2="478.2" y2="402" stroke="#9a9a9a" stroke-width="1.5"/>
<circle cx="444.81" cy="418.77" r="1.15" fill="#f23a3a"/>
<circle cx="449.48" cy="417.32" r="1.15" fill="#f23a3a"/>
<circle cx="449.48" cy="420.88" r="1.15" fill="#f23a3a"/>
<circle cx="440.35" cy="422.89" r="1.15" fill="#f23a3a"/>
<circle cx="444.81" cy="422.11" r="1.15" fill="#f23a3a"/>
<circle cx="449.48" cy="426" r="1.15" fill="#f23a3a"/>
<circle cx="444.81" cy="428.23" r="1.15" fill="#f23a3a"/>
<circle cx="442.58" cy="431.24" r="1.15" fill="#f23a3a"/>
<circle cx="447.03" cy="430.9" r="1.15" fill="#f23a3a"/>
<circle cx="444.81" cy="435.36" r="1.15" fill="#f23a3a"/>
<circle cx="444.81" cy="453.72" r="1.15" fill="#f23a3a"/>
<circle cx="459.83" cy="417.88" r="1.15" fill="#2b45f2"/>
<circle cx="459.83" cy="419.55" r="1.15" fill="#2b45f2"/>
<circle cx="463.4" cy="419.77" r="1.15" fill="#2b45f2"/>
<circle cx="466.18" cy="419.77" r="1.15" fill="#2b45f2"/>
<circle cx="461.5" cy="422.89" r="1.15" fill="#2b45f2"/>
<circle cx="461.5" cy="425.67" r="1.15" fill="#2b45f2"/>
<circle cx="461.5" cy="431.57" r="1.15" fill="#2b45f2"/>
<circle cx="473.97" cy="410.42" r="1.15" fill="#b45ee6"/>
<circle cx="476.98" cy="411.53" r="1.15" fill="#b45ee6"/>
<circle cx="480.09" cy="411.53" r="1.15" fill="#b45ee6"/>
<circle cx="473.42" cy="417.32" r="1.15" fill="#b45ee6"/>
<circle cx="476.75" cy="418.99" r="1.15" fill="#b45ee6"/>
<circle cx="479.87" cy="418.21" r="1.15" fill="#b45ee6"/>
<circle cx="482.88" cy="416.43" r="1.15" fill="#b45ee6"/>
<circle cx="482.88" cy="419.32" r="1.15" fill="#b45ee6"/>
<circle cx="478.2" cy="423.78" r="1.15" fill="#b45ee6"/>
<line x1="439.3" y1="427.5" x2="450.3" y2="427.5" stroke="#777" stroke-width="1"/>
<line x1="456" y1="422.5" x2="467" y2="422.5" stroke="#222" stroke-width="1"/>
<line x1="473.2" y1="416.5" x2="483.2" y2="416.5" stroke="#333" stroke-width="1"/>
<text x="543.4" y="352.38" font-size="13" text-anchor="middle" font-weight="bold" fill="#000">Transitional B</text>
<line x1="532.5" y1="387.3" x2="532.5" y2="458.5" stroke="#222" stroke-width="1"/>
<line x1="529.9" y1="458.5" x2="532.4" y2="458.5" stroke="#222" stroke-width="1"/>
<text x="528.6" y="460.84" font-size="7.9" text-anchor="end" font-weight="bold" fill="#000">0</text>
<line x1="529.9" y1="437.5" x2="532.4" y2="437.5" stroke="#222" stroke-width="1"/>
<text x="528.6" y="440.68" font-size="7.9" text-anchor="end" font-weight="bold" fill="#000">20000</text>
<line x1="529.9" y1="417.5" x2="532.4" y2="417.5" stroke="#222" stroke-width="1"/>
<text x="528.6" y="420.51" font-size="7.9" text-anchor="end" font-weight="bold" fill="#000">40000</text>
<line x1="529.9" y1="397.5" x2="532.4" y2="397.5" stroke="#222" stroke-width="1"/>
<text x="528.6" y="400.34" font-size="7.9" text-anchor="end" font-weight="bold" fill="#000">60000</text>
<line x1="531.9" y1="458.5" x2="585.7" y2="458.5" stroke="#222" stroke-width="1"/>
<line x1="543.5" y1="458" x2="543.5" y2="460.5" stroke="#222" stroke-width="1"/>
<line x1="561.5" y1="458" x2="561.5" y2="460.5" stroke="#222" stroke-width="1"/>
<line x1="577.5" y1="458" x2="577.5" y2="460.5" stroke="#222" stroke-width="1"/>
<text x="546.1" y="467.6" font-size="7.8" text-anchor="end" font-weight="bold" fill="#000" transform="rotate(-45 546.1 467.6)">HC</text>
<text x="563.2" y="467.6" font-size="7.8" text-anchor="end" font-weight="bold" fill="#000" transform="rotate(-45 563.2 467.6)">inactive</text>
<text x="579.8" y="467.6" font-size="7.8" text-anchor="end" font-weight="bold" fill="#000" transform="rotate(-45 579.8 467.6)">active</text>
<text x="503.14" y="426.75" font-size="7.9" text-anchor="middle" font-weight="bold" fill="#000" transform="rotate(-90 503.14 426.75)">MFI of MBD2</text>
<text x="561" y="375.73" font-size="8.1" text-anchor="middle" font-weight="bold" fill="#000">ns</text>
<line x1="543.9" y1="379.5" x2="577.9" y2="379.5" stroke="#222" stroke-width="1"/>
<text x="551.7" y="393.63" font-size="8.1" text-anchor="middle" font-weight="bold" fill="#000">ns</text>
<line x1="543.9" y1="397.5" x2="559.8" y2="397.5" stroke="#222" stroke-width="1"/>
<text x="570.1" y="393.63" font-size="8.1" text-anchor="middle" font-weight="bold" fill="#000">ns</text>
<line x1="562.3" y1="397.5" x2="577.9" y2="397.5" stroke="#222" stroke-width="1"/>
<circle cx="543.92" cy="405.85" r="1.15" fill="#f23a3a"/>
<circle cx="543.92" cy="415.87" r="1.15" fill="#f23a3a"/>
<circle cx="541.69" cy="423.44" r="1.15" fill="#f23a3a"/>
<circle cx="546.14" cy="421.77" r="1.15" fill="#f23a3a"/>
<circle cx="546.14" cy="424.89" r="1.15" fill="#f23a3a"/>
<circle cx="543.92" cy="431.57" r="1.15" fill="#f23a3a"/>
<circle cx="543.92" cy="434.91" r="1.15" fill="#f23a3a"/>
<circle cx="546.14" cy="439.03" r="1.15" fill="#f23a3a"/>
<circle cx="541.69" cy="440.92" r="1.15" fill="#f23a3a"/>
<circle cx="546.14" cy="442.37" r="1.15" fill="#f23a3a"/>
<circle cx="543.92" cy="451.05" r="1.15" fill="#f23a3a"/>
<circle cx="556.38" cy="427.9" r="1.15" fill="#2b45f2"/>
<circle cx="556.38" cy="431.01" r="1.15" fill="#2b45f2"/>
<circle cx="560.95" cy="431.01" r="1.15" fill="#2b45f2"/>
<circle cx="565.62" cy="429.01" r="1.15" fill="#2b45f2"/>
<circle cx="565.62" cy="432.13" r="1.15" fill="#2b45f2"/>
<circle cx="560.95" cy="434.24" r="1.15" fill="#2b45f2"/>
<circle cx="560.95" cy="437.92" r="1.15" fill="#2b45f2"/>
<circle cx="577.87" cy="405.85" r="1.15" fill="#b45ee6"/>
<circle cx="577.87" cy="419.21" r="1.15" fill="#b45ee6"/>
<circle cx="577.87" cy="421.55" r="1.15" fill="#b45ee6"/>
<circle cx="575.64" cy="429.34" r="1.15" fill="#b45ee6"/>
<circle cx="580.09" cy="427.9" r="1.15" fill="#b45ee6"/>
<circle cx="575.64" cy="432.68" r="1.15" fill="#b45ee6"/>
<circle cx="580.09" cy="432.02" r="1.15" fill="#b45ee6"/>
<circle cx="577.87" cy="435.36" r="1.15" fill="#b45ee6"/>
<circle cx="577.87" cy="440.36" r="1.15" fill="#b45ee6"/>
<line x1="538.4" y1="431.5" x2="549.4" y2="431.5" stroke="#222" stroke-width="1"/>
<line x1="556" y1="431.5" x2="566" y2="431.5" stroke="#777" stroke-width="1"/>
<line x1="572.1" y1="429.5" x2="583.1" y2="429.5" stroke="#222" stroke-width="1"/>
<text x="637" y="352.38" font-size="13" text-anchor="middle" font-weight="bold" fill="#000">Unswitched B</text>
<line x1="628.5" y1="386.2" x2="628.5" y2="457.3" stroke="#222" stroke-width="1"/>
<line x1="626.2" y1="456.5" x2="628.7" y2="456.5" stroke="#222" stroke-width="1"/>
<text x="624.9" y="459.64" font-size="7.9" text-anchor="end" font-weight="bold" fill="#000">0</text>
<line x1="626.2" y1="442.5" x2="628.7" y2="442.5" stroke="#222" stroke-width="1"/>
<text x="624.9" y="445.52" font-size="7.9" text-anchor="end" font-weight="bold" fill="#000">10000</text>
<line x1="626.2" y1="428.5" x2="628.7" y2="428.5" stroke="#222" stroke-width="1"/>
<text x="624.9" y="431.4" font-size="7.9" text-anchor="end" font-weight="bold" fill="#000">20000</text>
<line x1="626.2" y1="414.5" x2="628.7" y2="414.5" stroke="#222" stroke-width="1"/>
<text x="624.9" y="417.28" font-size="7.9" text-anchor="end" font-weight="bold" fill="#000">30000</text>
<line x1="626.2" y1="400.5" x2="628.7" y2="400.5" stroke="#222" stroke-width="1"/>
<text x="624.9" y="403.16" font-size="7.9" text-anchor="end" font-weight="bold" fill="#000">40000</text>
<line x1="626.2" y1="386.5" x2="628.7" y2="386.5" stroke="#222" stroke-width="1"/>
<text x="624.9" y="389.04" font-size="7.9" text-anchor="end" font-weight="bold" fill="#000">50000</text>
<line x1="628.2" y1="456.5" x2="685" y2="456.5" stroke="#222" stroke-width="1"/>
<line x1="639.5" y1="456.8" x2="639.5" y2="459.3" stroke="#222" stroke-width="1"/>
<line x1="656.5" y1="456.8" x2="656.5" y2="459.3" stroke="#222" stroke-width="1"/>
<line x1="673.5" y1="456.8" x2="673.5" y2="459.3" stroke="#222" stroke-width="1"/>
<text x="641.7" y="466.4" font-size="7.8" text-anchor="end" font-weight="bold" fill="#000" transform="rotate(-45 641.7 466.4)">HC</text>
<text x="658.7" y="466.4" font-size="7.8" text-anchor="end" font-weight="bold" fill="#000" transform="rotate(-45 658.7 466.4)">inactive</text>
<text x="675.4" y="466.4" font-size="7.8" text-anchor="end" font-weight="bold" fill="#000" transform="rotate(-45 675.4 466.4)">active</text>
<text x="599.04" y="420.5" font-size="7.9" text-anchor="middle" font-weight="bold" fill="#000" transform="rotate(-90 599.04 420.5)">MFI of MBD2</text>
<text x="656.5" y="376.93" font-size="8.1" text-anchor="middle" font-weight="bold" fill="#000">ns</text>
<line x1="640" y1="380.5" x2="672.9" y2="380.5" stroke="#555" stroke-width="1"/>
<text x="647.3" y="394.33" font-size="8.1" text-anchor="middle" font-weight="bold" fill="#000">ns</text>
<line x1="640" y1="398.5" x2="654.8" y2="398.5" stroke="#222" stroke-width="1"/>
<text x="665.6" y="394.33" font-size="8.1" text-anchor="middle" font-weight="bold" fill="#000">ns</text>
<line x1="658" y1="398.5" x2="672.9" y2="398.5" stroke="#222" stroke-width="1"/>
<circle cx="639.81" cy="413.65" r="1.15" fill="#f23a3a"/>
<circle cx="639.81" cy="420.33" r="1.15" fill="#f23a3a"/>
<circle cx="639.81" cy="422.89" r="1.15" fill="#f23a3a"/>
<circle cx="644.48" cy="422.66" r="1.15" fill="#f23a3a"/>
<circle cx="637.58" cy="425.45" r="1.15" fill="#f23a3a"/>
<circle cx="642.03" cy="426" r="1.15" fill="#f23a3a"/>
<circle cx="639.81" cy="429.9" r="1.15" fill="#f23a3a"/>
<circle cx="635.02" cy="434.24" r="1.15" fill="#f23a3a"/>
<circle cx="639.81" cy="435.13" r="1.15" fill="#f23a3a"/>
<circle cx="644.48" cy="434.24" r="1.15" fill="#f23a3a"/>
<circle cx="639.81" cy="443.82" r="1.15" fill="#f23a3a"/>
<circle cx="656.5" cy="426" r="1.15" fill="#2b45f2"/>
<circle cx="656.5" cy="429.79" r="1.15" fill="#2b45f2"/>
<circle cx="661.18" cy="428.23" r="1.15" fill="#2b45f2"/>
<circle cx="656.5" cy="433.8" r="1.15" fill="#2b45f2"/>
<circle cx="652.05" cy="437.58" r="1.15" fill="#2b45f2"/>
<circle cx="656.5" cy="436.25" r="1.15" fill="#2b45f2"/>
<circle cx="661.18" cy="436.8" r="1.15" fill="#2b45f2"/>
<circle cx="673.2" cy="406.97" r="1.15" fill="#b45ee6"/>
<circle cx="670.64" cy="421.55" r="1.15" fill="#b45ee6"/>
<circle cx="675.65" cy="420.44" r="1.15" fill="#b45ee6"/>
<circle cx="673.2" cy="425.11" r="1.15" fill="#b45ee6"/>
<circle cx="668.42" cy="429.01" r="1.15" fill="#b45ee6"/>
<circle cx="673.2" cy="428.45" r="1.15" fill="#b45ee6"/>
<circle cx="677.88" cy="429.34" r="1.15" fill="#b45ee6"/>
<circle cx="673.2" cy="431.01" r="1.15" fill="#b45ee6"/>
<circle cx="673.2" cy="434.91" r="1.15" fill="#b45ee6"/>
<line x1="634" y1="428.5" x2="645" y2="428.5" stroke="#222" stroke-width="1"/>
<line x1="651.5" y1="432.5" x2="661.5" y2="432.5" stroke="#222" stroke-width="1"/>
<line x1="667.7" y1="425.5" x2="678.7" y2="425.5" stroke="#222" stroke-width="1"/>
<text x="77.4" y="528.88" font-size="13" text-anchor="middle" font-weight="bold" fill="#000">B</text>
<line x1="47.5" y1="547.5" x2="47.5" y2="604.7" stroke="#222" stroke-width="0.9"/>
<line x1="45.2" y1="604.5" x2="47.4" y2="604.5" stroke="#222" stroke-width="0.9"/>
<text x="44.8" y="606.68" font-size="6.6" text-anchor="end" font-weight="bold" fill="#000">0</text>
<line x1="45.2" y1="585.5" x2="47.4" y2="585.5" stroke="#222" stroke-width="0.9"/>
<text x="44.8" y="587.74" font-size="6.6" text-anchor="end" font-weight="bold" fill="#000">10000</text>
<line x1="45.2" y1="566.5" x2="47.4" y2="566.5" stroke="#222" stroke-width="0.9"/>
<text x="44.8" y="568.81" font-size="6.6" text-anchor="end" font-weight="bold" fill="#000">20000</text>
<line x1="45.2" y1="547.5" x2="47.4" y2="547.5" stroke="#222" stroke-width="0.9"/>
<text x="44.8" y="549.88" font-size="6.6" text-anchor="end" font-weight="bold" fill="#000">30000</text>
<line x1="47" y1="604.5" x2="131.5" y2="604.5" stroke="#222" stroke-width="0.9"/>
<line x1="47.5" y1="604.3" x2="47.5" y2="606.7" stroke="#222" stroke-width="0.8"/>
<line x1="53.5" y1="604.3" x2="53.5" y2="605.6" stroke="#222" stroke-width="0.8"/>
<line x1="58.5" y1="604.3" x2="58.5" y2="605.6" stroke="#222" stroke-width="0.8"/>
<line x1="64.5" y1="604.3" x2="64.5" y2="605.6" stroke="#222" stroke-width="0.8"/>
<line x1="69.5" y1="604.3" x2="69.5" y2="605.6" stroke="#222" stroke-width="0.8"/>
<line x1="75.5" y1="604.3" x2="75.5" y2="606.7" stroke="#222" stroke-width="0.8"/>
<line x1="81.5" y1="604.3" x2="81.5" y2="605.6" stroke="#222" stroke-width="0.8"/>
<line x1="86.5" y1="604.3" x2="86.5" y2="605.6" stroke="#222" stroke-width="0.8"/>
<line x1="92.5" y1="604.3" x2="92.5" y2="605.6" stroke="#222" stroke-width="0.8"/>
<line x1="97.5" y1="604.3" x2="97.5" y2="605.6" stroke="#222" stroke-width="0.8"/>
<line x1="103.5" y1="604.3" x2="103.5" y2="606.7" stroke="#222" stroke-width="0.8"/>
<line x1="109.5" y1="604.3" x2="109.5" y2="605.6" stroke="#222" stroke-width="0.8"/>
<line x1="114.5" y1="604.3" x2="114.5" y2="605.6" stroke="#222" stroke-width="0.8"/>
<line x1="120.5" y1="604.3" x2="120.5" y2="605.6" stroke="#222" stroke-width="0.8"/>
<line x1="125.5" y1="604.3" x2="125.5" y2="605.6" stroke="#222" stroke-width="0.8"/>
<line x1="131.5" y1="604.3" x2="131.5" y2="606.7" stroke="#222" stroke-width="0.8"/>
<text x="47.4" y="613.64" font-size="6.5" text-anchor="middle" font-weight="bold" fill="#000">0</text>
<text x="75.43" y="613.64" font-size="6.5" text-anchor="middle" font-weight="bold" fill="#000">5</text>
<text x="103.47" y="613.64" font-size="6.5" text-anchor="middle" font-weight="bold" fill="#000">10</text>
<text x="131.5" y="613.64" font-size="6.5" text-anchor="middle" font-weight="bold" fill="#000">15</text>
<text x="89.45" y="621.8" font-size="6.4" text-anchor="middle" font-weight="bold" fill="#000">SLEDAI</text>
<text x="24.17" y="575.4" font-size="6.3" text-anchor="middle" font-weight="bold" fill="#000" transform="rotate(-90 24.17 575.4)">MFI of MBD2</text>
<text x="51.4" y="545.47" font-size="6.3" text-anchor="start" font-weight="bold" fill="#000">R=0.7520</text>
<text x="51.4" y="552.87" font-size="6.3" text-anchor="start" font-weight="bold" fill="#000">P=0.0008</text>
<path d="M47.4 586Q80.95 575.7 114.5 553.4" fill="none" stroke="#d6d6d6" stroke-width="0.55"/>
<path d="M47.4 600Q80.95 580.6 114.5 573.2" fill="none" stroke="#d6d6d6" stroke-width="0.55"/>
<line x1="47.4" y1="593.6" x2="114.5" y2="564.3" stroke="#222" stroke-width="0.8"/>
<circle cx="47.43" cy="593.55" r="1.35" fill="#111"/>
<circle cx="47.43" cy="600.56" r="1.35" fill="#111"/>
<circle cx="64.25" cy="589.58" r="1.35" fill="#111"/>
<circle cx="64.25" cy="591.21" r="1.35" fill="#111"/>
<circle cx="69.63" cy="576.73" r="1.35" fill="#111"/>
<circle cx="75.23" cy="571.12" r="1.35" fill="#111"/>
<circle cx="75.23" cy="575.09" r="1.35" fill="#111"/>
<circle cx="80.84" cy="567.38" r="1.35" fill="#111"/>
<circle cx="80.84" cy="580.93" r="1.35" fill="#111"/>
<circle cx="80.84" cy="590.75" r="1.35" fill="#111"/>
<circle cx="86.45" cy="572.06" r="1.35" fill="#111"/>
<circle cx="86.45" cy="573.46" r="1.35" fill="#111"/>
<circle cx="86.45" cy="578.6" r="1.35" fill="#111"/>
<circle cx="92.06" cy="580.23" r="1.35" fill="#111"/>
<circle cx="114.49" cy="569.02" r="1.35" fill="#111"/>
<text x="218.8" y="528.88" font-size="13" text-anchor="middle" font-weight="bold" fill="#000">DN B</text>
<line x1="175.5" y1="547" x2="175.5" y2="603.4" stroke="#222" stroke-width="0.9"/>
<line x1="172.8" y1="603.5" x2="175" y2="603.5" stroke="#222" stroke-width="0.9"/>
<text x="172.4" y="605.38" font-size="6.6" text-anchor="end" font-weight="bold" fill="#000">0</text>
<line x1="172.8" y1="584.5" x2="175" y2="584.5" stroke="#222" stroke-width="0.9"/>
<text x="172.4" y="586.71" font-size="6.6" text-anchor="end" font-weight="bold" fill="#000">5000</text>
<line x1="172.8" y1="565.5" x2="175" y2="565.5" stroke="#222" stroke-width="0.9"/>
<text x="172.4" y="568.04" font-size="6.6" text-anchor="end" font-weight="bold" fill="#000">10000</text>
<line x1="172.8" y1="547.5" x2="175" y2="547.5" stroke="#222" stroke-width="0.9"/>
<text x="172.4" y="549.38" font-size="6.6" text-anchor="end" font-weight="bold" fill="#000">15000</text>
<line x1="174.6" y1="603.5" x2="259.1" y2="603.5" stroke="#222" stroke-width="0.9"/>
<line x1="175.5" y1="603" x2="175.5" y2="605.4" stroke="#222" stroke-width="0.8"/>
<line x1="180.5" y1="603" x2="180.5" y2="604.3" stroke="#222" stroke-width="0.8"/>
<line x1="186.5" y1="603" x2="186.5" y2="604.3" stroke="#222" stroke-width="0.8"/>
<line x1="191.5" y1="603" x2="191.5" y2="604.3" stroke="#222" stroke-width="0.8"/>
<line x1="197.5" y1="603" x2="197.5" y2="604.3" stroke="#222" stroke-width="0.8"/>
<line x1="203.5" y1="603" x2="203.5" y2="605.4" stroke="#222" stroke-width="0.8"/>
<line x1="208.5" y1="603" x2="208.5" y2="604.3" stroke="#222" stroke-width="0.8"/>
<line x1="214.5" y1="603" x2="214.5" y2="604.3" stroke="#222" stroke-width="0.8"/>
<line x1="219.5" y1="603" x2="219.5" y2="604.3" stroke="#222" stroke-width="0.8"/>
<line x1="225.5" y1="603" x2="225.5" y2="604.3" stroke="#222" stroke-width="0.8"/>
<line x1="231.5" y1="603" x2="231.5" y2="605.4" stroke="#222" stroke-width="0.8"/>
<line x1="236.5" y1="603" x2="236.5" y2="604.3" stroke="#222" stroke-width="0.8"/>
<line x1="242.5" y1="603" x2="242.5" y2="604.3" stroke="#222" stroke-width="0.8"/>
<line x1="247.5" y1="603" x2="247.5" y2="604.3" stroke="#222" stroke-width="0.8"/>
<line x1="253.5" y1="603" x2="253.5" y2="604.3" stroke="#222" stroke-width="0.8"/>
<line x1="259.5" y1="603" x2="259.5" y2="605.4" stroke="#222" stroke-width="0.8"/>
<text x="175" y="612.34" font-size="6.5" text-anchor="middle" font-weight="bold" fill="#000">0</text>
<text x="203.03" y="612.34" font-size="6.5" text-anchor="middle" font-weight="bold" fill="#000">5</text>
<text x="231.07" y="612.34" font-size="6.5" text-anchor="middle" font-weight="bold" fill="#000">10</text>
<text x="259.1" y="612.34" font-size="6.5" text-anchor="middle" font-weight="bold" fill="#000">15</text>
<text x="217.05" y="620.8" font-size="6.4" text-anchor="middle" font-weight="bold" fill="#000">SLEDAI</text>
<text x="151.07" y="574.5" font-size="6.3" text-anchor="middle" font-weight="bold" fill="#000" transform="rotate(-90 151.07 574.5)">MFI of MBD2</text>
<text x="180" y="545.47" font-size="6.3" text-anchor="start" font-weight="bold" fill="#000">R=0.5947</text>
<text x="180" y="552.87" font-size="6.3" text-anchor="start" font-weight="bold" fill="#000">P=0.0151</text>
<path d="M175 587.8Q208.6 578.8 242.2 557.8" fill="none" stroke="#d6d6d6" stroke-width="0.55"/>
<path d="M175 604Q208.6 588 242.2 584" fill="none" stroke="#d6d6d6" stroke-width="0.55"/>
<line x1="175" y1="598.6" x2="242.2" y2="570.9" stroke="#222" stroke-width="1.3"/>
<circle cx="175.04" cy="599.23" r="1.35" fill="#111"/>
<circle cx="175.04" cy="600.69" r="1.35" fill="#111"/>
<circle cx="191.97" cy="594.85" r="1.35" fill="#111"/>
<circle cx="191.97" cy="598.65" r="1.35" fill="#111"/>
<circle cx="196.93" cy="572.96" r="1.35" fill="#111"/>
<circle cx="202.77" cy="574.42" r="1.35" fill="#111"/>
<circle cx="202.77" cy="591.35" r="1.35" fill="#111"/>
<circle cx="208.61" cy="570.04" r="1.35" fill="#111"/>
<circle cx="208.61" cy="579.38" r="1.35" fill="#111"/>
<circle cx="208.61" cy="592.23" r="1.35" fill="#111"/>
<circle cx="213.87" cy="571.5" r="1.35" fill="#111"/>
<circle cx="213.87" cy="579.67" r="1.35" fill="#111"/>
<circle cx="213.87" cy="595.73" r="1.35" fill="#111"/>
<circle cx="219.71" cy="589.89" r="1.35" fill="#111"/>
<circle cx="242.19" cy="574.42" r="1.35" fill="#111"/>
<text x="346.9" y="528.88" font-size="13" text-anchor="middle" font-weight="bold" fill="#000">PBC</text>
<line x1="313.5" y1="548.4" x2="313.5" y2="604.3" stroke="#222" stroke-width="0.9"/>
<line x1="311.2" y1="603.5" x2="313.4" y2="603.5" stroke="#222" stroke-width="0.9"/>
<text x="310.8" y="606.28" font-size="6.6" text-anchor="end" font-weight="bold" fill="#000">0</text>
<line x1="311.2" y1="592.5" x2="313.4" y2="592.5" stroke="#222" stroke-width="0.9"/>
<text x="310.8" y="595.18" font-size="6.6" text-anchor="end" font-weight="bold" fill="#000">5000</text>
<line x1="311.2" y1="581.5" x2="313.4" y2="581.5" stroke="#222" stroke-width="0.9"/>
<text x="310.8" y="584.08" font-size="6.6" text-anchor="end" font-weight="bold" fill="#000">10000</text>
<line x1="311.2" y1="570.5" x2="313.4" y2="570.5" stroke="#222" stroke-width="0.9"/>
<text x="310.8" y="572.98" font-size="6.6" text-anchor="end" font-weight="bold" fill="#000">15000</text>
<line x1="311.2" y1="559.5" x2="313.4" y2="559.5" stroke="#222" stroke-width="0.9"/>
<text x="310.8" y="561.88" font-size="6.6" text-anchor="end" font-weight="bold" fill="#000">20000</text>
<line x1="311.2" y1="548.5" x2="313.4" y2="548.5" stroke="#222" stroke-width="0.9"/>
<text x="310.8" y="550.78" font-size="6.6" text-anchor="end" font-weight="bold" fill="#000">25000</text>
<line x1="313" y1="603.5" x2="397.4" y2="603.5" stroke="#222" stroke-width="0.9"/>
<line x1="313.5" y1="603.9" x2="313.5" y2="606.3" stroke="#222" stroke-width="0.8"/>
<line x1="319.5" y1="603.9" x2="319.5" y2="605.2" stroke="#222" stroke-width="0.8"/>
<line x1="324.5" y1="603.9" x2="324.5" y2="605.2" stroke="#222" stroke-width="0.8"/>
<line x1="330.5" y1="603.9" x2="330.5" y2="605.2" stroke="#222" stroke-width="0.8"/>
<line x1="335.5" y1="603.9" x2="335.5" y2="605.2" stroke="#222" stroke-width="0.8"/>
<line x1="341.5" y1="603.9" x2="341.5" y2="606.3" stroke="#222" stroke-width="0.8"/>
<line x1="347.5" y1="603.9" x2="347.5" y2="605.2" stroke="#222" stroke-width="0.8"/>
<line x1="352.5" y1="603.9" x2="352.5" y2="605.2" stroke="#222" stroke-width="0.8"/>
<line x1="358.5" y1="603.9" x2="358.5" y2="605.2" stroke="#222" stroke-width="0.8"/>
<line x1="363.5" y1="603.9" x2="363.5" y2="605.2" stroke="#222" stroke-width="0.8"/>
<line x1="369.5" y1="603.9" x2="369.5" y2="606.3" stroke="#222" stroke-width="0.8"/>
<line x1="375.5" y1="603.9" x2="375.5" y2="605.2" stroke="#222" stroke-width="0.8"/>
<line x1="380.5" y1="603.9" x2="380.5" y2="605.2" stroke="#222" stroke-width="0.8"/>
<line x1="386.5" y1="603.9" x2="386.5" y2="605.2" stroke="#222" stroke-width="0.8"/>
<line x1="391.5" y1="603.9" x2="391.5" y2="605.2" stroke="#222" stroke-width="0.8"/>
<line x1="397.5" y1="603.9" x2="397.5" y2="606.3" stroke="#222" stroke-width="0.8"/>
<text x="313.4" y="613.24" font-size="6.5" text-anchor="middle" font-weight="bold" fill="#000">0</text>
<text x="341.4" y="613.24" font-size="6.5" text-anchor="middle" font-weight="bold" fill="#000">5</text>
<text x="369.4" y="613.24" font-size="6.5" text-anchor="middle" font-weight="bold" fill="#000">10</text>
<text x="397.4" y="613.24" font-size="6.5" text-anchor="middle" font-weight="bold" fill="#000">15</text>
<text x="355.4" y="622.6" font-size="6.4" text-anchor="middle" font-weight="bold" fill="#000">SLEDAI</text>
<text x="289.47" y="575.65" font-size="6.3" text-anchor="middle" font-weight="bold" fill="#000" transform="rotate(-90 289.47 575.65)">MFI of MBD2</text>
<text x="320" y="544.57" font-size="6.3" text-anchor="start" font-weight="bold" fill="#000">R=0.5507</text>
<text x="320" y="551.97" font-size="6.3" text-anchor="start" font-weight="bold" fill="#000">P=0.0271</text>
<path d="M313.4 585.5Q347.25 576.2 381.1 554.9" fill="none" stroke="#d6d6d6" stroke-width="0.55"/>
<path d="M322 603.9Q351.55 589.95 381.1 584" fill="none" stroke="#d6d6d6" stroke-width="0.55"/>
<line x1="313.4" y1="596.6" x2="381.1" y2="570.3" stroke="#222" stroke-width="0.8"/>
<circle cx="313.36" cy="598.65" r="1.35" fill="#111"/>
<circle cx="313.36" cy="602.15" r="1.35" fill="#111"/>
<circle cx="330" cy="590.77" r="1.35" fill="#111"/>
<circle cx="330" cy="595.73" r="1.35" fill="#111"/>
<circle cx="330" cy="598.65" r="1.35" fill="#111"/>
<circle cx="335.84" cy="568.87" r="1.35" fill="#111"/>
<circle cx="341.09" cy="567.99" r="1.35" fill="#111"/>
<circle cx="341.09" cy="591.35" r="1.35" fill="#111"/>
<circle cx="346.93" cy="577.34" r="1.35" fill="#111"/>
<circle cx="346.93" cy="589.01" r="1.35" fill="#111"/>
<circle cx="346.93" cy="591.35" r="1.35" fill="#111"/>
<circle cx="352.19" cy="559.23" r="1.35" fill="#111"/>
<circle cx="352.19" cy="581.13" r="1.35" fill="#111"/>
<circle cx="352.19" cy="589.01" r="1.35" fill="#111"/>
<circle cx="357.74" cy="592.81" r="1.35" fill="#111"/>
<circle cx="380.51" cy="571.79" r="1.35" fill="#111"/>
<text x="485.3" y="528.88" font-size="13" text-anchor="middle" font-weight="bold" fill="#000">Naïve B</text>
<line x1="441.5" y1="547.6" x2="441.5" y2="602.8" stroke="#222" stroke-width="0.9"/>
<line x1="439.3" y1="602.5" x2="441.5" y2="602.5" stroke="#222" stroke-width="0.9"/>
<text x="438.9" y="604.78" font-size="6.6" text-anchor="end" font-weight="bold" fill="#000">0</text>
<line x1="439.3" y1="591.5" x2="441.5" y2="591.5" stroke="#222" stroke-width="0.9"/>
<text x="438.9" y="593.82" font-size="6.6" text-anchor="end" font-weight="bold" fill="#000">10000</text>
<line x1="439.3" y1="580.5" x2="441.5" y2="580.5" stroke="#222" stroke-width="0.9"/>
<text x="438.9" y="582.86" font-size="6.6" text-anchor="end" font-weight="bold" fill="#000">20000</text>
<line x1="439.3" y1="569.5" x2="441.5" y2="569.5" stroke="#222" stroke-width="0.9"/>
<text x="438.9" y="571.9" font-size="6.6" text-anchor="end" font-weight="bold" fill="#000">30000</text>
<line x1="439.3" y1="558.5" x2="441.5" y2="558.5" stroke="#222" stroke-width="0.9"/>
<text x="438.9" y="560.94" font-size="6.6" text-anchor="end" font-weight="bold" fill="#000">40000</text>
<line x1="439.3" y1="547.5" x2="441.5" y2="547.5" stroke="#222" stroke-width="0.9"/>
<text x="438.9" y="549.98" font-size="6.6" text-anchor="end" font-weight="bold" fill="#000">50000</text>
<line x1="441.1" y1="602.5" x2="526.8" y2="602.5" stroke="#222" stroke-width="0.9"/>
<line x1="441.5" y1="602.4" x2="441.5" y2="604.8" stroke="#222" stroke-width="0.8"/>
<line x1="447.5" y1="602.4" x2="447.5" y2="603.7" stroke="#222" stroke-width="0.8"/>
<line x1="452.5" y1="602.4" x2="452.5" y2="603.7" stroke="#222" stroke-width="0.8"/>
<line x1="458.5" y1="602.4" x2="458.5" y2="603.7" stroke="#222" stroke-width="0.8"/>
<line x1="464.5" y1="602.4" x2="464.5" y2="603.7" stroke="#222" stroke-width="0.8"/>
<line x1="469.5" y1="602.4" x2="469.5" y2="604.8" stroke="#222" stroke-width="0.8"/>
<line x1="475.5" y1="602.4" x2="475.5" y2="603.7" stroke="#222" stroke-width="0.8"/>
<line x1="481.5" y1="602.4" x2="481.5" y2="603.7" stroke="#222" stroke-width="0.8"/>
<line x1="486.5" y1="602.4" x2="486.5" y2="603.7" stroke="#222" stroke-width="0.8"/>
<line x1="492.5" y1="602.4" x2="492.5" y2="603.7" stroke="#222" stroke-width="0.8"/>
<line x1="498.5" y1="602.4" x2="498.5" y2="604.8" stroke="#222" stroke-width="0.8"/>
<line x1="504.5" y1="602.4" x2="504.5" y2="603.7" stroke="#222" stroke-width="0.8"/>
<line x1="509.5" y1="602.4" x2="509.5" y2="603.7" stroke="#222" stroke-width="0.8"/>
<line x1="515.5" y1="602.4" x2="515.5" y2="603.7" stroke="#222" stroke-width="0.8"/>
<line x1="521.5" y1="602.4" x2="521.5" y2="603.7" stroke="#222" stroke-width="0.8"/>
<line x1="526.5" y1="602.4" x2="526.5" y2="604.8" stroke="#222" stroke-width="0.8"/>
<text x="441.5" y="611.74" font-size="6.5" text-anchor="middle" font-weight="bold" fill="#000">0</text>
<text x="469.93" y="611.74" font-size="6.5" text-anchor="middle" font-weight="bold" fill="#000">5</text>
<text x="498.37" y="611.74" font-size="6.5" text-anchor="middle" font-weight="bold" fill="#000">10</text>
<text x="526.8" y="611.74" font-size="6.5" text-anchor="middle" font-weight="bold" fill="#000">15</text>
<text x="484.15" y="620.8" font-size="6.4" text-anchor="middle" font-weight="bold" fill="#000">SLEDAI</text>
<text x="417.57" y="574.5" font-size="6.3" text-anchor="middle" font-weight="bold" fill="#000" transform="rotate(-90 417.57 574.5)">MFI of MBD2</text>
<text x="449.4" y="545.47" font-size="6.3" text-anchor="start" font-weight="bold" fill="#000">R=0.5107</text>
<text x="449.4" y="552.87" font-size="6.3" text-anchor="start" font-weight="bold" fill="#000">P=0.0432</text>
<path d="M441.5 579.1Q475.4 574.45 509.3 557.8" fill="none" stroke="#d6d6d6" stroke-width="0.55"/>
<path d="M441.5 598.6Q475.4 583.85 509.3 581.1" fill="none" stroke="#d6d6d6" stroke-width="0.55"/>
<line x1="441.5" y1="588.4" x2="509.3" y2="569.5" stroke="#222" stroke-width="0.8"/>
<circle cx="441.53" cy="579.67" r="1.35" fill="#111"/>
<circle cx="441.53" cy="599.53" r="1.35" fill="#111"/>
<circle cx="458.76" cy="582.59" r="1.35" fill="#111"/>
<circle cx="458.76" cy="584.05" r="1.35" fill="#111"/>
<circle cx="458.76" cy="593.69" r="1.35" fill="#111"/>
<circle cx="464.01" cy="579.67" r="1.35" fill="#111"/>
<circle cx="469.85" cy="569.45" r="1.35" fill="#111"/>
<circle cx="469.85" cy="573.83" r="1.35" fill="#111"/>
<circle cx="475.11" cy="567.12" r="1.35" fill="#111"/>
<circle cx="475.11" cy="572.37" r="1.35" fill="#111"/>
<circle cx="475.11" cy="595.73" r="1.35" fill="#111"/>
<circle cx="480.95" cy="579.09" r="1.35" fill="#111"/>
<circle cx="480.95" cy="580.55" r="1.35" fill="#111"/>
<circle cx="480.95" cy="584.05" r="1.35" fill="#111"/>
<circle cx="486.5" cy="578.8" r="1.35" fill="#111"/>
<circle cx="509.27" cy="569.45" r="1.35" fill="#111"/>
<text x="619" y="529.68" font-size="13" text-anchor="middle" font-weight="bold" fill="#000">Switched MBC</text>
<line x1="568.5" y1="547.6" x2="568.5" y2="603.4" stroke="#222" stroke-width="0.9"/>
<line x1="566.1" y1="603.5" x2="568.3" y2="603.5" stroke="#222" stroke-width="0.9"/>
<text x="565.7" y="605.38" font-size="6.6" text-anchor="end" font-weight="bold" fill="#000">0</text>
<line x1="566.1" y1="589.5" x2="568.3" y2="589.5" stroke="#222" stroke-width="0.9"/>
<text x="565.7" y="591.53" font-size="6.6" text-anchor="end" font-weight="bold" fill="#000">5000</text>
<line x1="566.1" y1="575.5" x2="568.3" y2="575.5" stroke="#222" stroke-width="0.9"/>
<text x="565.7" y="577.68" font-size="6.6" text-anchor="end" font-weight="bold" fill="#000">10000</text>
<line x1="566.1" y1="561.5" x2="568.3" y2="561.5" stroke="#222" stroke-width="0.9"/>
<text x="565.7" y="563.83" font-size="6.6" text-anchor="end" font-weight="bold" fill="#000">15000</text>
<line x1="566.1" y1="547.5" x2="568.3" y2="547.5" stroke="#222" stroke-width="0.9"/>
<text x="565.7" y="549.98" font-size="6.6" text-anchor="end" font-weight="bold" fill="#000">20000</text>
<line x1="567.9" y1="603.5" x2="652.6" y2="603.5" stroke="#222" stroke-width="0.9"/>
<line x1="568.5" y1="603" x2="568.5" y2="605.4" stroke="#222" stroke-width="0.8"/>
<line x1="573.5" y1="603" x2="573.5" y2="604.3" stroke="#222" stroke-width="0.8"/>
<line x1="579.5" y1="603" x2="579.5" y2="604.3" stroke="#222" stroke-width="0.8"/>
<line x1="585.5" y1="603" x2="585.5" y2="604.3" stroke="#222" stroke-width="0.8"/>
<line x1="590.5" y1="603" x2="590.5" y2="604.3" stroke="#222" stroke-width="0.8"/>
<line x1="596.5" y1="603" x2="596.5" y2="605.4" stroke="#222" stroke-width="0.8"/>
<line x1="602.5" y1="603" x2="602.5" y2="604.3" stroke="#222" stroke-width="0.8"/>
<line x1="607.5" y1="603" x2="607.5" y2="604.3" stroke="#222" stroke-width="0.8"/>
<line x1="613.5" y1="603" x2="613.5" y2="604.3" stroke="#222" stroke-width="0.8"/>
<line x1="618.5" y1="603" x2="618.5" y2="604.3" stroke="#222" stroke-width="0.8"/>
<line x1="624.5" y1="603" x2="624.5" y2="605.4" stroke="#222" stroke-width="0.8"/>
<line x1="630.5" y1="603" x2="630.5" y2="604.3" stroke="#222" stroke-width="0.8"/>
<line x1="635.5" y1="603" x2="635.5" y2="604.3" stroke="#222" stroke-width="0.8"/>
<line x1="641.5" y1="603" x2="641.5" y2="604.3" stroke="#222" stroke-width="0.8"/>
<line x1="646.5" y1="603" x2="646.5" y2="604.3" stroke="#222" stroke-width="0.8"/>
<line x1="652.5" y1="603" x2="652.5" y2="605.4" stroke="#222" stroke-width="0.8"/>
<text x="568.3" y="612.34" font-size="6.5" text-anchor="middle" font-weight="bold" fill="#000">0</text>
<text x="596.4" y="612.34" font-size="6.5" text-anchor="middle" font-weight="bold" fill="#000">5</text>
<text x="624.5" y="612.34" font-size="6.5" text-anchor="middle" font-weight="bold" fill="#000">10</text>
<text x="652.6" y="612.34" font-size="6.5" text-anchor="middle" font-weight="bold" fill="#000">15</text>
<text x="610.45" y="621" font-size="6.4" text-anchor="middle" font-weight="bold" fill="#000">SLEDAI</text>
<text x="545.57" y="574.8" font-size="6.3" text-anchor="middle" font-weight="bold" fill="#000" transform="rotate(-90 545.57 574.8)">MFI of MBD2</text>
<text x="574" y="543.37" font-size="6.3" text-anchor="start" font-weight="bold" fill="#000">R=0.4294</text>
<text x="574" y="550.77" font-size="6.3" text-anchor="start" font-weight="bold" fill="#000">P=0.0970</text>
<path d="M568.3 572.1Q602 569.1 635.7 554.1" fill="none" stroke="#d6d6d6" stroke-width="0.55"/>
<path d="M568.3 589.6Q602 577.35 635.7 577.1" fill="none" stroke="#d6d6d6" stroke-width="0.55"/>
<line x1="568.3" y1="580.8" x2="635.7" y2="565.7" stroke="#222" stroke-width="0.8"/>
<circle cx="568.5" cy="567.91" r="1.35" fill="#111"/>
<circle cx="568.5" cy="599.66" r="1.35" fill="#111"/>
<circle cx="585.8" cy="576.45" r="1.35" fill="#111"/>
<circle cx="585.8" cy="577.77" r="1.35" fill="#111"/>
<circle cx="591.27" cy="572.07" r="1.35" fill="#111"/>
<circle cx="596.75" cy="569.45" r="1.35" fill="#111"/>
<circle cx="596.75" cy="571.64" r="1.35" fill="#111"/>
<circle cx="602.44" cy="563.32" r="1.35" fill="#111"/>
<circle cx="602.44" cy="572.73" r="1.35" fill="#111"/>
<circle cx="602.44" cy="581.49" r="1.35" fill="#111"/>
<circle cx="607.91" cy="565.07" r="1.35" fill="#111"/>
<circle cx="607.91" cy="574.92" r="1.35" fill="#111"/>
<circle cx="607.91" cy="581.49" r="1.35" fill="#111"/>
<circle cx="613.17" cy="566.82" r="1.35" fill="#111"/>
<circle cx="635.72" cy="570.54" r="1.35" fill="#111"/>
<text x="86.1" y="652.38" font-size="13" text-anchor="middle" font-weight="bold" fill="#000">Transitional B</text>
<line x1="47.5" y1="669" x2="47.5" y2="724.9" stroke="#222" stroke-width="0.9"/>
<line x1="45.4" y1="724.5" x2="47.6" y2="724.5" stroke="#222" stroke-width="0.9"/>
<text x="45" y="726.88" font-size="6.6" text-anchor="end" font-weight="bold" fill="#000">0</text>
<line x1="45.4" y1="713.5" x2="47.6" y2="713.5" stroke="#222" stroke-width="0.9"/>
<text x="45" y="715.78" font-size="6.6" text-anchor="end" font-weight="bold" fill="#000">10000</text>
<line x1="45.4" y1="702.5" x2="47.6" y2="702.5" stroke="#222" stroke-width="0.9"/>
<text x="45" y="704.68" font-size="6.6" text-anchor="end" font-weight="bold" fill="#000">20000</text>
<line x1="45.4" y1="691.5" x2="47.6" y2="691.5" stroke="#222" stroke-width="0.9"/>
<text x="45" y="693.58" font-size="6.6" text-anchor="end" font-weight="bold" fill="#000">30000</text>
<line x1="45.4" y1="680.5" x2="47.6" y2="680.5" stroke="#222" stroke-width="0.9"/>
<text x="45" y="682.48" font-size="6.6" text-anchor="end" font-weight="bold" fill="#000">40000</text>
<line x1="45.4" y1="669.5" x2="47.6" y2="669.5" stroke="#222" stroke-width="0.9"/>
<text x="45" y="671.38" font-size="6.6" text-anchor="end" font-weight="bold" fill="#000">50000</text>
<line x1="47.2" y1="724.5" x2="132" y2="724.5" stroke="#222" stroke-width="0.9"/>
<line x1="47.5" y1="724.5" x2="47.5" y2="726.9" stroke="#222" stroke-width="0.8"/>
<line x1="53.5" y1="724.5" x2="53.5" y2="725.8" stroke="#222" stroke-width="0.8"/>
<line x1="58.5" y1="724.5" x2="58.5" y2="725.8" stroke="#222" stroke-width="0.8"/>
<line x1="64.5" y1="724.5" x2="64.5" y2="725.8" stroke="#222" stroke-width="0.8"/>
<line x1="70.5" y1="724.5" x2="70.5" y2="725.8" stroke="#222" stroke-width="0.8"/>
<line x1="75.5" y1="724.5" x2="75.5" y2="726.9" stroke="#222" stroke-width="0.8"/>
<line x1="81.5" y1="724.5" x2="81.5" y2="725.8" stroke="#222" stroke-width="0.8"/>
<line x1="86.5" y1="724.5" x2="86.5" y2="725.8" stroke="#222" stroke-width="0.8"/>
<line x1="92.5" y1="724.5" x2="92.5" y2="725.8" stroke="#222" stroke-width="0.8"/>
<line x1="98.5" y1="724.5" x2="98.5" y2="725.8" stroke="#222" stroke-width="0.8"/>
<line x1="103.5" y1="724.5" x2="103.5" y2="726.9" stroke="#222" stroke-width="0.8"/>
<line x1="109.5" y1="724.5" x2="109.5" y2="725.8" stroke="#222" stroke-width="0.8"/>
<line x1="115.5" y1="724.5" x2="115.5" y2="725.8" stroke="#222" stroke-width="0.8"/>
<line x1="120.5" y1="724.5" x2="120.5" y2="725.8" stroke="#222" stroke-width="0.8"/>
<line x1="126.5" y1="724.5" x2="126.5" y2="725.8" stroke="#222" stroke-width="0.8"/>
<line x1="132.5" y1="724.5" x2="132.5" y2="726.9" stroke="#222" stroke-width="0.8"/>
<text x="47.6" y="733.84" font-size="6.5" text-anchor="middle" font-weight="bold" fill="#000">0</text>
<text x="75.73" y="733.84" font-size="6.5" text-anchor="middle" font-weight="bold" fill="#000">5</text>
<text x="103.87" y="733.84" font-size="6.5" text-anchor="middle" font-weight="bold" fill="#000">10</text>
<text x="132" y="733.84" font-size="6.5" text-anchor="middle" font-weight="bold" fill="#000">15</text>
<text x="89.8" y="742.6" font-size="6.4" text-anchor="middle" font-weight="bold" fill="#000">SLEDAI</text>
<text x="23.57" y="696.25" font-size="6.3" text-anchor="middle" font-weight="bold" fill="#000" transform="rotate(-90 23.57 696.25)">MFI of MBD2</text>
<text x="54.9" y="669.57" font-size="6.3" text-anchor="start" font-weight="bold" fill="#000">R=0.447</text>
<text x="54.9" y="676.97" font-size="6.3" text-anchor="start" font-weight="bold" fill="#000">P=0.0716</text>
<path d="M47.6 695.3Q81.15 691.1 114.7 674.9" fill="none" stroke="#d6d6d6" stroke-width="0.55"/>
<path d="M47.6 717.8Q81.15 704.5 114.7 703.2" fill="none" stroke="#d6d6d6" stroke-width="0.55"/>
<line x1="47.6" y1="707" x2="114.7" y2="689.5" stroke="#222" stroke-width="0.8"/>
<circle cx="47.59" cy="701.75" r="1.35" fill="#111"/>
<circle cx="47.59" cy="722.77" r="1.35" fill="#111"/>
<circle cx="64.82" cy="703.21" r="1.35" fill="#111"/>
<circle cx="64.82" cy="705.55" r="1.35" fill="#111"/>
<circle cx="64.82" cy="709.05" r="1.35" fill="#111"/>
<circle cx="70.07" cy="695.04" r="1.35" fill="#111"/>
<circle cx="75.91" cy="684.23" r="1.35" fill="#111"/>
<circle cx="75.91" cy="693.58" r="1.35" fill="#111"/>
<circle cx="81.17" cy="678.39" r="1.35" fill="#111"/>
<circle cx="81.17" cy="692.41" r="1.35" fill="#111"/>
<circle cx="81.17" cy="716.35" r="1.35" fill="#111"/>
<circle cx="86.72" cy="696.5" r="1.35" fill="#111"/>
<circle cx="86.72" cy="697.37" r="1.35" fill="#111"/>
<circle cx="92.55" cy="698.83" r="1.35" fill="#111"/>
<circle cx="114.74" cy="698.83" r="1.35" fill="#111"/>
<text x="238.3" y="653.88" font-size="13" text-anchor="middle" font-weight="bold" fill="#000">Unswitched MBC</text>
<line x1="190.5" y1="672.6" x2="190.5" y2="728.4" stroke="#222" stroke-width="0.9"/>
<line x1="187.8" y1="728.5" x2="190" y2="728.5" stroke="#222" stroke-width="0.9"/>
<text x="187.4" y="730.38" font-size="6.6" text-anchor="end" font-weight="bold" fill="#000">0</text>
<line x1="187.8" y1="714.5" x2="190" y2="714.5" stroke="#222" stroke-width="0.9"/>
<text x="187.4" y="716.53" font-size="6.6" text-anchor="end" font-weight="bold" fill="#000">10000</text>
<line x1="187.8" y1="700.5" x2="190" y2="700.5" stroke="#222" stroke-width="0.9"/>
<text x="187.4" y="702.68" font-size="6.6" text-anchor="end" font-weight="bold" fill="#000">20000</text>
<line x1="187.8" y1="686.5" x2="190" y2="686.5" stroke="#222" stroke-width="0.9"/>
<text x="187.4" y="688.83" font-size="6.6" text-anchor="end" font-weight="bold" fill="#000">30000</text>
<line x1="187.8" y1="672.5" x2="190" y2="672.5" stroke="#222" stroke-width="0.9"/>
<text x="187.4" y="674.98" font-size="6.6" text-anchor="end" font-weight="bold" fill="#000">40000</text>
<line x1="189.6" y1="728.5" x2="274.7" y2="728.5" stroke="#222" stroke-width="0.9"/>
<line x1="190.5" y1="728" x2="190.5" y2="730.4" stroke="#222" stroke-width="0.8"/>
<line x1="195.5" y1="728" x2="195.5" y2="729.3" stroke="#222" stroke-width="0.8"/>
<line x1="201.5" y1="728" x2="201.5" y2="729.3" stroke="#222" stroke-width="0.8"/>
<line x1="206.5" y1="728" x2="206.5" y2="729.3" stroke="#222" stroke-width="0.8"/>
<line x1="212.5" y1="728" x2="212.5" y2="729.3" stroke="#222" stroke-width="0.8"/>
<line x1="218.5" y1="728" x2="218.5" y2="730.4" stroke="#222" stroke-width="0.8"/>
<line x1="223.5" y1="728" x2="223.5" y2="729.3" stroke="#222" stroke-width="0.8"/>
<line x1="229.5" y1="728" x2="229.5" y2="729.3" stroke="#222" stroke-width="0.8"/>
<line x1="235.5" y1="728" x2="235.5" y2="729.3" stroke="#222" stroke-width="0.8"/>
<line x1="240.5" y1="728" x2="240.5" y2="729.3" stroke="#222" stroke-width="0.8"/>
<line x1="246.5" y1="728" x2="246.5" y2="730.4" stroke="#222" stroke-width="0.8"/>
<line x1="252.5" y1="728" x2="252.5" y2="729.3" stroke="#222" stroke-width="0.8"/>
<line x1="257.5" y1="728" x2="257.5" y2="729.3" stroke="#222" stroke-width="0.8"/>
<line x1="263.5" y1="728" x2="263.5" y2="729.3" stroke="#222" stroke-width="0.8"/>
<line x1="269.5" y1="728" x2="269.5" y2="729.3" stroke="#222" stroke-width="0.8"/>
<line x1="274.5" y1="728" x2="274.5" y2="730.4" stroke="#222" stroke-width="0.8"/>
<text x="190" y="737.34" font-size="6.5" text-anchor="middle" font-weight="bold" fill="#000">0</text>
<text x="218.23" y="737.34" font-size="6.5" text-anchor="middle" font-weight="bold" fill="#000">5</text>
<text x="246.47" y="737.34" font-size="6.5" text-anchor="middle" font-weight="bold" fill="#000">10</text>
<text x="274.7" y="737.34" font-size="6.5" text-anchor="middle" font-weight="bold" fill="#000">15</text>
<text x="232.35" y="745.8" font-size="6.4" text-anchor="middle" font-weight="bold" fill="#000">SLEDAI</text>
<text x="167.47" y="699.8" font-size="6.3" text-anchor="middle" font-weight="bold" fill="#000" transform="rotate(-90 167.47 699.8)">MFI of MBD2</text>
<text x="194.7" y="671.87" font-size="6.3" text-anchor="start" font-weight="bold" fill="#000">R=0.3984</text>
<text x="194.7" y="679.27" font-size="6.3" text-anchor="start" font-weight="bold" fill="#000">R=0.1285</text>
<path d="M190 704.7Q223.7 699.45 257.4 682.2" fill="none" stroke="#d6d6d6" stroke-width="0.55"/>
<path d="M190 720.7Q223.7 707 257.4 705.3" fill="none" stroke="#d6d6d6" stroke-width="0.55"/>
<line x1="190" y1="712.8" x2="257.4" y2="693.9" stroke="#222" stroke-width="0.8"/>
<circle cx="190" cy="704.67" r="1.35" fill="#111"/>
<circle cx="190" cy="725.69" r="1.35" fill="#111"/>
<circle cx="206.93" cy="701.75" r="1.35" fill="#111"/>
<circle cx="206.93" cy="710.51" r="1.35" fill="#111"/>
<circle cx="206.93" cy="711.97" r="1.35" fill="#111"/>
<circle cx="212.19" cy="697.37" r="1.35" fill="#111"/>
<circle cx="218.03" cy="692.12" r="1.35" fill="#111"/>
<circle cx="218.03" cy="700.88" r="1.35" fill="#111"/>
<circle cx="223.58" cy="703.21" r="1.35" fill="#111"/>
<circle cx="223.58" cy="706.13" r="1.35" fill="#111"/>
<circle cx="223.58" cy="717.81" r="1.35" fill="#111"/>
<circle cx="229.42" cy="692.99" r="1.35" fill="#111"/>
<circle cx="229.42" cy="701.17" r="1.35" fill="#111"/>
<circle cx="229.42" cy="711.97" r="1.35" fill="#111"/>
<circle cx="235.26" cy="696.5" r="1.35" fill="#111"/>
<circle cx="257.45" cy="694.74" r="1.35" fill="#111"/>
<line x1="410.5" y1="647.7" x2="410.5" y2="733" stroke="#222" stroke-width="1.2"/>
<line x1="407.7" y1="732.5" x2="410.5" y2="732.5" stroke="#222" stroke-width="1.2"/>
<text x="405.9" y="735.64" font-size="9" text-anchor="end" font-weight="bold" fill="#000">0</text>
<line x1="407.7" y1="715.5" x2="410.5" y2="715.5" stroke="#222" stroke-width="1.2"/>
<text x="405.9" y="718.7" font-size="9" text-anchor="end" font-weight="bold" fill="#000">1</text>
<line x1="407.7" y1="698.5" x2="410.5" y2="698.5" stroke="#222" stroke-width="1.2"/>
<text x="405.9" y="701.76" font-size="9" text-anchor="end" font-weight="bold" fill="#000">2</text>
<line x1="407.7" y1="681.5" x2="410.5" y2="681.5" stroke="#222" stroke-width="1.2"/>
<text x="405.9" y="684.82" font-size="9" text-anchor="end" font-weight="bold" fill="#000">3</text>
<line x1="407.7" y1="664.5" x2="410.5" y2="664.5" stroke="#222" stroke-width="1.2"/>
<text x="405.9" y="667.88" font-size="9" text-anchor="end" font-weight="bold" fill="#000">4</text>
<line x1="407.7" y1="647.5" x2="410.5" y2="647.5" stroke="#222" stroke-width="1.2"/>
<text x="405.9" y="650.94" font-size="9" text-anchor="end" font-weight="bold" fill="#000">5</text>
<line x1="409.9" y1="732.5" x2="477.4" y2="732.5" stroke="#222" stroke-width="1.2"/>
<line x1="429.5" y1="711.2" x2="429.5" y2="713.6" stroke="#f36060" stroke-width="0.9"/>
<line x1="425.3" y1="711.5" x2="433.7" y2="711.5" stroke="#f36060" stroke-width="0.9"/>
<rect x="420.5" y="713.5" width="18" height="19" fill="#f5393c" stroke="#d42828" stroke-width="0.9"/>
<line x1="429.5" y1="732.4" x2="429.5" y2="735.2" stroke="#222" stroke-width="1.2"/>
<text x="429.5" y="745.44" font-size="9" text-anchor="middle" font-weight="bold" fill="#000">Con</text>
<line x1="457.5" y1="655.4" x2="457.5" y2="659.4" stroke="#6a6af0" stroke-width="0.9"/>
<line x1="453.6" y1="655.5" x2="462" y2="655.5" stroke="#6a6af0" stroke-width="0.9"/>
<rect x="448.5" y="659.5" width="19" height="73" fill="#3d3df5" stroke="#2020d0" stroke-width="0.9"/>
<line x1="457.5" y1="732.4" x2="457.5" y2="735.2" stroke="#222" stroke-width="1.2"/>
<text x="457.8" y="745.44" font-size="9" text-anchor="middle" font-weight="bold" fill="#000">BM12</text>
<path d="M437.3 635.6L437.3 640.6M435.13 636.85L439.47 639.35M435.13 639.35L439.47 636.85" stroke="#000" stroke-width="1.25" stroke-linecap="round"/>
<circle cx="437.3" cy="638.1" r="1" fill="#000"/>
<path d="M443.9 635.6L443.9 640.6M441.73 636.85L446.07 639.35M441.73 639.35L446.07 636.85" stroke="#000" stroke-width="1.25" stroke-linecap="round"/>
<circle cx="443.9" cy="638.1" r="1" fill="#000"/>
<path d="M450.5 635.6L450.5 640.6M448.33 636.85L452.67 639.35M448.33 639.35L452.67 636.85" stroke="#000" stroke-width="1.25" stroke-linecap="round"/>
<circle cx="450.5" cy="638.1" r="1" fill="#000"/>
<line x1="429.3" y1="645.5" x2="458.5" y2="645.5" stroke="#222" stroke-width="1.2"/>
<text x="383.46" y="686.6" font-size="9.6" text-anchor="middle" font-weight="bold" fill="#000" transform="rotate(-90 383.46 686.6)">Relative mRNA <tspan font-style="italic">level</tspan></text>
<text x="394.76" y="688.1" font-size="9.6" text-anchor="middle" font-weight="bold" fill="#000" transform="rotate(-90 394.76 688.1)">(<tspan font-style="italic">Mbd2/Gapdh</tspan>)</text>
<line x1="539.5" y1="647.7" x2="539.5" y2="734.3" stroke="#222" stroke-width="1.2"/>
<line x1="536.6" y1="733.5" x2="539.4" y2="733.5" stroke="#222" stroke-width="1.2"/>
<text x="534.8" y="736.94" font-size="9" text-anchor="end" font-weight="bold" fill="#000">0</text>
<line x1="536.6" y1="705.5" x2="539.4" y2="705.5" stroke="#222" stroke-width="1.2"/>
<text x="534.8" y="708.27" font-size="9" text-anchor="end" font-weight="bold" fill="#000">1</text>
<line x1="536.6" y1="676.5" x2="539.4" y2="676.5" stroke="#222" stroke-width="1.2"/>
<text x="534.8" y="679.61" font-size="9" text-anchor="end" font-weight="bold" fill="#000">2</text>
<line x1="536.6" y1="647.5" x2="539.4" y2="647.5" stroke="#222" stroke-width="1.2"/>
<text x="534.8" y="650.94" font-size="9" text-anchor="end" font-weight="bold" fill="#000">3</text>
<line x1="538.8" y1="733.5" x2="606" y2="733.5" stroke="#222" stroke-width="1.2"/>
<line x1="558.5" y1="702.4" x2="558.5" y2="704.6" stroke="#f36060" stroke-width="0.9"/>
<line x1="554.6" y1="702.5" x2="563" y2="702.5" stroke="#f36060" stroke-width="0.9"/>
<rect x="549.5" y="704.5" width="18" height="29" fill="#f5393c" stroke="#d42828" stroke-width="0.9"/>
<line x1="558.5" y1="733.7" x2="558.5" y2="736.5" stroke="#222" stroke-width="1.2"/>
<text x="558.8" y="747.24" font-size="9" text-anchor="middle" font-weight="bold" fill="#000">HC</text>
<line x1="586.5" y1="661" x2="586.5" y2="674.1" stroke="#6a6af0" stroke-width="0.9"/>
<line x1="582.75" y1="661.5" x2="591.15" y2="661.5" stroke="#6a6af0" stroke-width="0.9"/>
<rect x="577.5" y="674.5" width="19" height="59" fill="#3d3df5" stroke="#2020d0" stroke-width="0.9"/>
<line x1="586.5" y1="733.7" x2="586.5" y2="736.5" stroke="#222" stroke-width="1.2"/>
<text x="586.95" y="747.24" font-size="9" text-anchor="middle" font-weight="bold" fill="#000">SLE</text>
<path d="M572.7 640.2L572.7 645.2M570.53 641.45L574.87 643.95M570.53 643.95L574.87 641.45" stroke="#000" stroke-width="1.25" stroke-linecap="round"/>
<circle cx="572.7" cy="642.7" r="1" fill="#000"/>
<line x1="559.4" y1="650.5" x2="587.1" y2="650.5" stroke="#222" stroke-width="1.2"/>
<text x="513.19" y="687.9" font-size="9.7" text-anchor="middle" font-weight="bold" fill="#000" transform="rotate(-90 513.19 687.9)">Relative mRNA <tspan font-style="italic">level</tspan></text>
<text x="525.49" y="689.3" font-size="9.7" text-anchor="middle" font-weight="bold" fill="#000" transform="rotate(-90 525.49 689.3)">(<tspan font-style="italic">MBD2/GAPDH</tspan>)</text>
<line x1="312.5" y1="799.4" x2="312.5" y2="880.25" stroke="#222" stroke-width="1.1"/>
<line x1="309.7" y1="879.5" x2="312.5" y2="879.5" stroke="#222" stroke-width="1.1"/>
<text x="307.9" y="882.69" font-size="8.3" text-anchor="end" font-weight="bold" fill="#000">0.0</text>
<line x1="309.7" y1="852.5" x2="312.5" y2="852.5" stroke="#222" stroke-width="1.1"/>
<text x="307.9" y="855.92" font-size="8.3" text-anchor="end" font-weight="bold" fill="#000">0.5</text>
<line x1="309.7" y1="826.5" x2="312.5" y2="826.5" stroke="#222" stroke-width="1.1"/>
<text x="307.9" y="829.15" font-size="8.3" text-anchor="end" font-weight="bold" fill="#000">1.0</text>
<line x1="309.7" y1="799.5" x2="312.5" y2="799.5" stroke="#222" stroke-width="1.1"/>
<text x="307.9" y="802.39" font-size="8.3" text-anchor="end" font-weight="bold" fill="#000">1.5</text>
<line x1="311.95" y1="879.5" x2="374.3" y2="879.5" stroke="#222" stroke-width="1.1"/>
<line x1="330.5" y1="845.4" x2="330.5" y2="847.6" stroke="#f36060" stroke-width="0.9"/>
<line x1="326.15" y1="845.5" x2="334.55" y2="845.5" stroke="#f36060" stroke-width="0.9"/>
<rect x="321.5" y="847.5" width="18" height="32" fill="#f5393c" stroke="#d42828" stroke-width="0.9"/>
<line x1="330.5" y1="879.7" x2="330.5" y2="882.5" stroke="#222" stroke-width="1.1"/>
<text x="330.35" y="892.62" font-size="8.4" text-anchor="middle" font-weight="bold" fill="#000">CON</text>
<line x1="356.5" y1="808.2" x2="356.5" y2="816.6" stroke="#6a6af0" stroke-width="0.9"/>
<line x1="352.75" y1="808.5" x2="361.15" y2="808.5" stroke="#6a6af0" stroke-width="0.9"/>
<rect x="348.5" y="816.5" width="17" height="63" fill="#3d3df5" stroke="#2020d0" stroke-width="0.9"/>
<line x1="356.5" y1="879.7" x2="356.5" y2="882.5" stroke="#222" stroke-width="1.1"/>
<text x="356.95" y="892.62" font-size="8.4" text-anchor="middle" font-weight="bold" fill="#000">BM12</text>
<text x="328" y="776.98" font-size="11.6" text-anchor="middle" font-weight="bold" fill="#000">MBD2/β-actin</text>
<path d="M343.3 789.6L343.3 794.6M341.13 790.85L345.47 793.35M341.13 793.35L345.47 790.85" stroke="#000" stroke-width="1.25" stroke-linecap="round"/>
<circle cx="343.3" cy="792.1" r="1" fill="#000"/>
<line x1="329.8" y1="798.5" x2="357.2" y2="798.5" stroke="#222" stroke-width="1.1"/>
<text x="280.14" y="838" font-size="9" text-anchor="middle" font-weight="bold" fill="#000" transform="rotate(-90 280.14 838)">Relative intensity</text>
<line x1="432.5" y1="791.5" x2="432.5" y2="878.95" stroke="#222" stroke-width="1.1"/>
<line x1="429.7" y1="878.5" x2="432.5" y2="878.5" stroke="#222" stroke-width="1.1"/>
<text x="427.9" y="881.5" font-size="8.6" text-anchor="end" font-weight="bold" fill="#000">0</text>
<line x1="429.7" y1="849.5" x2="432.5" y2="849.5" stroke="#222" stroke-width="1.1"/>
<text x="427.9" y="852.53" font-size="8.6" text-anchor="end" font-weight="bold" fill="#000">1</text>
<line x1="429.7" y1="820.5" x2="432.5" y2="820.5" stroke="#222" stroke-width="1.1"/>
<text x="427.9" y="823.56" font-size="8.6" text-anchor="end" font-weight="bold" fill="#000">2</text>
<line x1="429.7" y1="791.5" x2="432.5" y2="791.5" stroke="#222" stroke-width="1.1"/>
<text x="427.9" y="794.6" font-size="8.6" text-anchor="end" font-weight="bold" fill="#000">3</text>
<line x1="431.95" y1="878.5" x2="490" y2="878.5" stroke="#222" stroke-width="1.1"/>
<line x1="449.5" y1="843" x2="449.5" y2="845.6" stroke="#f36060" stroke-width="0.9"/>
<line x1="445.35" y1="843.5" x2="453.75" y2="843.5" stroke="#f36060" stroke-width="0.9"/>
<rect x="441.5" y="845.5" width="16" height="33" fill="#f5393c" stroke="#d42828" stroke-width="0.9"/>
<line x1="449.5" y1="878.4" x2="449.5" y2="881.2" stroke="#222" stroke-width="1.1"/>
<text x="449.55" y="891.84" font-size="9" text-anchor="middle" font-weight="bold" fill="#000">HC</text>
<line x1="474.5" y1="797.9" x2="474.5" y2="804.3" stroke="#6a6af0" stroke-width="0.9"/>
<line x1="470.15" y1="797.5" x2="478.55" y2="797.5" stroke="#6a6af0" stroke-width="0.9"/>
<rect x="466.5" y="804.5" width="16" height="74" fill="#3d3df5" stroke="#2020d0" stroke-width="0.9"/>
<line x1="474.5" y1="878.4" x2="474.5" y2="881.2" stroke="#222" stroke-width="1.1"/>
<text x="474.35" y="891.84" font-size="9" text-anchor="middle" font-weight="bold" fill="#000">SLE</text>
<text x="453.9" y="775.38" font-size="11.6" text-anchor="middle" font-weight="bold" fill="#000">MBD2/GAPDH</text>
<path d="M455.5 778.8L455.5 783.4M453.51 779.95L457.49 782.25M453.51 782.25L457.49 779.95" stroke="#000" stroke-width="1.15" stroke-linecap="round"/>
<circle cx="455.5" cy="781.1" r="0.92" fill="#000"/>
<path d="M461.5 778.8L461.5 783.4M459.51 779.95L463.49 782.25M459.51 782.25L463.49 779.95" stroke="#000" stroke-width="1.15" stroke-linecap="round"/>
<circle cx="461.5" cy="781.1" r="0.92" fill="#000"/>
<path d="M467.5 778.8L467.5 783.4M465.51 779.95L469.49 782.25M465.51 782.25L469.49 779.95" stroke="#000" stroke-width="1.15" stroke-linecap="round"/>
<circle cx="467.5" cy="781.1" r="0.92" fill="#000"/>
<line x1="448.8" y1="787.5" x2="473.6" y2="787.5" stroke="#222" stroke-width="1.1"/>
<text x="405.86" y="833.2" font-size="9.6" text-anchor="middle" font-weight="bold" fill="#000" transform="rotate(-90 405.86 833.2)">Relative intensity</text>
<defs><filter id="bl" x="-30%" y="-60%" width="160%" height="220%"><feGaussianBlur stdDeviation="0.9"/></filter><filter id="bl2" x="-30%" y="-60%" width="160%" height="220%"><feGaussianBlur stdDeviation="0.75"/></filter></defs>
<text x="99" y="784.87" font-size="11.3" text-anchor="middle" font-weight="bold" fill="#000">CON</text>
<text x="161.9" y="784.87" font-size="11.3" text-anchor="middle" font-weight="bold" fill="#000">BM12</text>
<line x1="63" y1="791.2" x2="126.2" y2="791.2" stroke="#000" stroke-width="2.6"/>
<line x1="133" y1="791.2" x2="192.2" y2="791.2" stroke="#000" stroke-width="2.6"/>
<text x="98.3" y="857.67" font-size="11.3" text-anchor="middle" font-weight="bold" fill="#000">HC</text>
<text x="162.5" y="857.67" font-size="11.3" text-anchor="middle" font-weight="bold" fill="#000">SLE</text>
<line x1="62.3" y1="864.4" x2="126" y2="864.4" stroke="#000" stroke-width="2.3"/>
<line x1="131.2" y1="864.4" x2="190.6" y2="864.4" stroke="#000" stroke-width="2.3"/>
<text x="55.3" y="806.84" font-size="9" text-anchor="end" font-weight="bold" fill="#000">MBD2</text>
<text x="55.3" y="832.04" font-size="9" text-anchor="end" font-weight="bold" fill="#000">β-actin</text>
<text x="55.3" y="878.64" font-size="9" text-anchor="end" font-weight="bold" fill="#000">MBD2</text>
<text x="55.3" y="897.44" font-size="9" text-anchor="end" font-weight="bold" fill="#000">GAPDH</text>
<text x="202.6" y="806.91" font-size="9.2" text-anchor="start" font-weight="bold" fill="#000">47kDa</text>
<text x="202.6" y="832.11" font-size="9.2" text-anchor="start" font-weight="bold" fill="#000">42kDa</text>
<text x="202.6" y="878.51" font-size="9.2" text-anchor="start" font-weight="bold" fill="#000">47kDa</text>
<text x="202.6" y="897.51" font-size="9.2" text-anchor="start" font-weight="bold" fill="#000">35kDa</text>
<rect x="60.3" y="796.2" width="133.4" height="17.2" fill="#dedede"/>
<ellipse cx="73.5" cy="804.4" rx="10.5" ry="2.3" fill="#000" fill-opacity="0.9" filter="url(#bl2)"/>
<ellipse cx="97.5" cy="804.8" rx="9" ry="2" fill="#333" fill-opacity="0.55" filter="url(#bl2)"/>
<ellipse cx="119" cy="804.6" rx="9.5" ry="2.1" fill="#222" fill-opacity="0.7" filter="url(#bl2)"/>
<rect x="130.55" y="798.55" width="19.5" height="11.5" rx="4.5" fill="#000" fill-opacity="1" filter="url(#bl)"/>
<rect x="149.9" y="797.45" width="21" height="13.5" rx="5.5" fill="#000" fill-opacity="1" filter="url(#bl)"/>
<rect x="171" y="799.75" width="19" height="9.5" rx="4.5" fill="#000" fill-opacity="1" filter="url(#bl)"/>
<rect x="61.15" y="797.05" width="131.7" height="15.5" fill="none" stroke="#000" stroke-width="1.7"/>
<rect x="60.3" y="819.4" width="133.4" height="17.2" fill="#e6e6e6"/>
<ellipse cx="73" cy="827.7" rx="10.75" ry="2.8" fill="#000" fill-opacity="1" filter="url(#bl2)"/>
<ellipse cx="93.6" cy="827.9" rx="9.25" ry="2.5" fill="#000" fill-opacity="0.95" filter="url(#bl2)"/>
<ellipse cx="112.7" cy="827.9" rx="9.25" ry="2.5" fill="#000" fill-opacity="0.95" filter="url(#bl2)"/>
<ellipse cx="133.8" cy="828.4" rx="11" ry="2.2" fill="#111" fill-opacity="0.85" filter="url(#bl2)"/>
<ellipse cx="157" cy="828.6" rx="10" ry="2.1" fill="#111" fill-opacity="0.85" filter="url(#bl2)"/>
<ellipse cx="180" cy="828.9" rx="11.5" ry="2.7" fill="#000" fill-opacity="0.95" filter="url(#bl2)"/>
<rect x="61.15" y="820.25" width="131.7" height="15.5" fill="none" stroke="#000" stroke-width="1.7"/>
<rect x="60.3" y="869.2" width="132.3" height="11.2" fill="#c0c0c0"/>
<ellipse cx="68.6" cy="875" rx="4.75" ry="1.3" fill="#444" fill-opacity="0.6" filter="url(#bl2)"/>
<ellipse cx="81.4" cy="875" rx="5.25" ry="1.5" fill="#333" fill-opacity="0.85" filter="url(#bl2)"/>
<ellipse cx="94.2" cy="875" rx="5.25" ry="1.4" fill="#333" fill-opacity="0.75" filter="url(#bl2)"/>
<ellipse cx="107" cy="875" rx="4.75" ry="1.3" fill="#444" fill-opacity="0.65" filter="url(#bl2)"/>
<ellipse cx="119.8" cy="875" rx="4.75" ry="1.3" fill="#444" fill-opacity="0.65" filter="url(#bl2)"/>
<ellipse cx="132.6" cy="875" rx="6" ry="2.1" fill="#000" fill-opacity="1" filter="url(#bl2)"/>
<ellipse cx="145.4" cy="875" rx="5.75" ry="2" fill="#000" fill-opacity="1" filter="url(#bl2)"/>
<ellipse cx="158.2" cy="875" rx="6.25" ry="2.3" fill="#000" fill-opacity="1" filter="url(#bl2)"/>
<ellipse cx="171" cy="875" rx="5.75" ry="2" fill="#000" fill-opacity="1" filter="url(#bl2)"/>
<ellipse cx="183.8" cy="875" rx="5.75" ry="2" fill="#000" fill-opacity="1" filter="url(#bl2)"/>
<rect x="61.15" y="870.05" width="130.6" height="9.5" fill="none" stroke="#000" stroke-width="1.7"/>
<rect x="60.3" y="886.8" width="132.3" height="11.6" fill="#d2d2d2"/>
<ellipse cx="68.6" cy="892.8" rx="5.75" ry="1.8" fill="#000" fill-opacity="0.95" filter="url(#bl2)"/>
<ellipse cx="81.4" cy="892.8" rx="5.75" ry="1.8" fill="#000" fill-opacity="0.95" filter="url(#bl2)"/>
<ellipse cx="94.2" cy="892.8" rx="5.75" ry="1.8" fill="#000" fill-opacity="0.95" filter="url(#bl2)"/>
<ellipse cx="107" cy="892.8" rx="5.75" ry="1.8" fill="#000" fill-opacity="0.95" filter="url(#bl2)"/>
<ellipse cx="119.8" cy="893.4" rx="5.75" ry="2.1" fill="#000" fill-opacity="0.95" filter="url(#bl2)"/>
<ellipse cx="132.6" cy="892.8" rx="5.75" ry="1.8" fill="#000" fill-opacity="0.95" filter="url(#bl2)"/>
<ellipse cx="145.4" cy="892.8" rx="5.75" ry="1.8" fill="#000" fill-opacity="0.95" filter="url(#bl2)"/>
<ellipse cx="158.2" cy="892.8" rx="5.75" ry="1.8" fill="#000" fill-opacity="0.95" filter="url(#bl2)"/>
<ellipse cx="171" cy="892.8" rx="5.75" ry="1.8" fill="#000" fill-opacity="0.95" filter="url(#bl2)"/>
<ellipse cx="183.8" cy="892.8" rx="5.75" ry="1.8" fill="#000" fill-opacity="0.95" filter="url(#bl2)"/>
<rect x="61.15" y="887.65" width="130.6" height="9.9" fill="none" stroke="#000" stroke-width="1.7"/>
</svg>
</body></html>
